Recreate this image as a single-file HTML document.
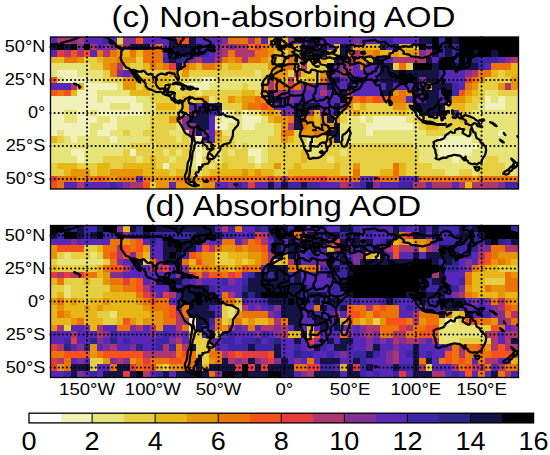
<!DOCTYPE html>
<html><head><meta charset="utf-8"><style>
html,body{margin:0;padding:0;background:#fff;}
body{width:550px;height:455px;overflow:hidden;}
svg{display:block;}
text{font-family:"Liberation Sans",sans-serif;fill:#000;}
</style></head><body>
<svg width="550" height="455" viewBox="0 0 550 455">
<defs><filter id="soft" x="0" y="0" width="1" height="1" color-interpolation-filters="sRGB"><feGaussianBlur stdDeviation="0.45"/></filter></defs>
<rect width="550" height="455" fill="#fff"/>
<g shape-rendering="crispEdges" filter="url(#soft)"><rect x="50.50" y="37.00" width="7.26" height="6.91" fill="#5728b7"/>
<rect x="57.46" y="37.00" width="13.45" height="6.91" fill="#ad366e"/>
<rect x="70.61" y="37.00" width="6.88" height="6.91" fill="#802f95"/>
<rect x="77.19" y="37.00" width="6.87" height="6.91" fill="#ad366e"/>
<rect x="83.76" y="37.00" width="20.02" height="6.91" fill="#5728b7"/>
<rect x="103.49" y="37.00" width="6.88" height="6.91" fill="#3d26a6"/>
<rect x="110.06" y="37.00" width="6.87" height="6.91" fill="#5728b7"/>
<rect x="116.64" y="37.00" width="6.87" height="6.91" fill="#e6cf42"/>
<rect x="123.21" y="37.00" width="13.45" height="6.91" fill="#802f95"/>
<rect x="136.36" y="37.00" width="6.88" height="6.91" fill="#f8511c"/>
<rect x="142.94" y="37.00" width="26.60" height="6.91" fill="#5728b7"/>
<rect x="169.24" y="37.00" width="6.87" height="6.91" fill="#141444"/>
<rect x="175.81" y="37.00" width="6.88" height="6.91" fill="#e43c3e"/>
<rect x="182.39" y="37.00" width="6.88" height="6.91" fill="#f8511c"/>
<rect x="188.96" y="37.00" width="6.87" height="6.91" fill="#141444"/>
<rect x="195.54" y="37.00" width="26.60" height="6.91" fill="#5728b7"/>
<rect x="221.84" y="37.00" width="6.88" height="6.91" fill="#802f95"/>
<rect x="228.41" y="37.00" width="20.02" height="6.91" fill="#eb7308"/>
<rect x="248.14" y="37.00" width="6.87" height="6.91" fill="#ad366e"/>
<rect x="254.71" y="37.00" width="6.88" height="6.91" fill="#eb7308"/>
<rect x="261.29" y="37.00" width="6.87" height="6.91" fill="#5728b7"/>
<rect x="267.86" y="37.00" width="6.87" height="6.91" fill="#e6b716"/>
<rect x="274.44" y="37.00" width="6.87" height="6.91" fill="#141444"/>
<rect x="281.01" y="37.00" width="6.88" height="6.91" fill="#e6b716"/>
<rect x="287.59" y="37.00" width="6.87" height="6.91" fill="#802f95"/>
<rect x="294.16" y="37.00" width="13.45" height="6.91" fill="#5728b7"/>
<rect x="307.31" y="37.00" width="13.45" height="6.91" fill="#141444"/>
<rect x="320.46" y="37.00" width="33.17" height="6.91" fill="#5728b7"/>
<rect x="353.34" y="37.00" width="6.88" height="6.91" fill="#802f95"/>
<rect x="359.91" y="37.00" width="20.02" height="6.91" fill="#5728b7"/>
<rect x="379.64" y="37.00" width="13.45" height="6.91" fill="#3d26a6"/>
<rect x="392.79" y="37.00" width="26.60" height="6.91" fill="#5728b7"/>
<rect x="419.09" y="37.00" width="13.45" height="6.91" fill="#141444"/>
<rect x="432.24" y="37.00" width="6.87" height="6.91" fill="#000000"/>
<rect x="438.81" y="37.00" width="6.88" height="6.91" fill="#3d26a6"/>
<rect x="445.39" y="37.00" width="6.87" height="6.91" fill="#000000"/>
<rect x="451.96" y="37.00" width="6.88" height="6.91" fill="#141444"/>
<rect x="458.54" y="37.00" width="60.26" height="6.91" fill="#000000"/>
<rect x="50.50" y="43.61" width="7.26" height="6.91" fill="#141444"/>
<rect x="57.46" y="43.61" width="6.87" height="6.91" fill="#000000"/>
<rect x="64.04" y="43.61" width="6.87" height="6.91" fill="#141444"/>
<rect x="70.61" y="43.61" width="6.88" height="6.91" fill="#000000"/>
<rect x="77.19" y="43.61" width="6.87" height="6.91" fill="#802f95"/>
<rect x="83.76" y="43.61" width="6.87" height="6.91" fill="#000000"/>
<rect x="90.34" y="43.61" width="6.88" height="6.91" fill="#ad366e"/>
<rect x="96.91" y="43.61" width="6.87" height="6.91" fill="#5728b7"/>
<rect x="103.49" y="43.61" width="13.45" height="6.91" fill="#802f95"/>
<rect x="116.64" y="43.61" width="6.87" height="6.91" fill="#eb7308"/>
<rect x="123.21" y="43.61" width="6.88" height="6.91" fill="#802f95"/>
<rect x="129.79" y="43.61" width="20.02" height="6.91" fill="#141444"/>
<rect x="149.51" y="43.61" width="6.87" height="6.91" fill="#ad366e"/>
<rect x="156.09" y="43.61" width="6.88" height="6.91" fill="#eb7308"/>
<rect x="162.66" y="43.61" width="6.87" height="6.91" fill="#5728b7"/>
<rect x="169.24" y="43.61" width="33.17" height="6.91" fill="#141444"/>
<rect x="202.11" y="43.61" width="6.87" height="6.91" fill="#3d26a6"/>
<rect x="208.69" y="43.61" width="6.88" height="6.91" fill="#141444"/>
<rect x="215.26" y="43.61" width="6.87" height="6.91" fill="#802f95"/>
<rect x="221.84" y="43.61" width="6.88" height="6.91" fill="#ad366e"/>
<rect x="228.41" y="43.61" width="6.87" height="6.91" fill="#802f95"/>
<rect x="234.99" y="43.61" width="13.45" height="6.91" fill="#ad366e"/>
<rect x="248.14" y="43.61" width="6.87" height="6.91" fill="#eb7308"/>
<rect x="254.71" y="43.61" width="6.88" height="6.91" fill="#e43c3e"/>
<rect x="261.29" y="43.61" width="6.87" height="6.91" fill="#eb7308"/>
<rect x="267.86" y="43.61" width="26.60" height="6.91" fill="#e69509"/>
<rect x="294.16" y="43.61" width="6.87" height="6.91" fill="#e6b716"/>
<rect x="300.74" y="43.61" width="6.87" height="6.91" fill="#802f95"/>
<rect x="307.31" y="43.61" width="6.87" height="6.91" fill="#141444"/>
<rect x="313.89" y="43.61" width="6.88" height="6.91" fill="#802f95"/>
<rect x="320.46" y="43.61" width="6.87" height="6.91" fill="#141444"/>
<rect x="327.04" y="43.61" width="6.87" height="6.91" fill="#5728b7"/>
<rect x="333.61" y="43.61" width="6.87" height="6.91" fill="#e6b716"/>
<rect x="340.19" y="43.61" width="6.87" height="6.91" fill="#141444"/>
<rect x="346.76" y="43.61" width="6.87" height="6.91" fill="#802f95"/>
<rect x="353.34" y="43.61" width="6.88" height="6.91" fill="#e6b716"/>
<rect x="359.91" y="43.61" width="6.87" height="6.91" fill="#e69509"/>
<rect x="366.49" y="43.61" width="13.45" height="6.91" fill="#e6b716"/>
<rect x="379.64" y="43.61" width="6.87" height="6.91" fill="#141444"/>
<rect x="386.21" y="43.61" width="6.88" height="6.91" fill="#5728b7"/>
<rect x="392.79" y="43.61" width="6.87" height="6.91" fill="#141444"/>
<rect x="399.36" y="43.61" width="20.02" height="6.91" fill="#e6b716"/>
<rect x="419.09" y="43.61" width="6.88" height="6.91" fill="#000000"/>
<rect x="425.66" y="43.61" width="6.87" height="6.91" fill="#5728b7"/>
<rect x="432.24" y="43.61" width="6.87" height="6.91" fill="#000000"/>
<rect x="438.81" y="43.61" width="6.88" height="6.91" fill="#292684"/>
<rect x="445.39" y="43.61" width="6.87" height="6.91" fill="#141444"/>
<rect x="451.96" y="43.61" width="6.88" height="6.91" fill="#3d26a6"/>
<rect x="458.54" y="43.61" width="60.26" height="6.91" fill="#000000"/>
<rect x="50.50" y="50.22" width="7.26" height="6.91" fill="#5728b7"/>
<rect x="57.46" y="50.22" width="6.87" height="6.91" fill="#e43c3e"/>
<rect x="64.04" y="50.22" width="6.87" height="6.91" fill="#ad366e"/>
<rect x="70.61" y="50.22" width="6.88" height="6.91" fill="#f8511c"/>
<rect x="77.19" y="50.22" width="6.87" height="6.91" fill="#ad366e"/>
<rect x="83.76" y="50.22" width="6.87" height="6.91" fill="#f8511c"/>
<rect x="90.34" y="50.22" width="6.88" height="6.91" fill="#5728b7"/>
<rect x="96.91" y="50.22" width="6.87" height="6.91" fill="#eb7308"/>
<rect x="103.49" y="50.22" width="6.88" height="6.91" fill="#ad366e"/>
<rect x="110.06" y="50.22" width="6.87" height="6.91" fill="#eb7308"/>
<rect x="116.64" y="50.22" width="6.87" height="6.91" fill="#e69509"/>
<rect x="123.21" y="50.22" width="6.88" height="6.91" fill="#e6b716"/>
<rect x="129.79" y="50.22" width="6.87" height="6.91" fill="#eb7308"/>
<rect x="136.36" y="50.22" width="6.88" height="6.91" fill="#e6b716"/>
<rect x="142.94" y="50.22" width="20.02" height="6.91" fill="#eb7308"/>
<rect x="162.66" y="50.22" width="6.87" height="6.91" fill="#5728b7"/>
<rect x="169.24" y="50.22" width="6.87" height="6.91" fill="#3d26a6"/>
<rect x="175.81" y="50.22" width="20.03" height="6.91" fill="#141444"/>
<rect x="195.54" y="50.22" width="13.45" height="6.91" fill="#3d26a6"/>
<rect x="208.69" y="50.22" width="6.88" height="6.91" fill="#5728b7"/>
<rect x="215.26" y="50.22" width="6.87" height="6.91" fill="#802f95"/>
<rect x="221.84" y="50.22" width="6.88" height="6.91" fill="#ad366e"/>
<rect x="228.41" y="50.22" width="6.87" height="6.91" fill="#eb7308"/>
<rect x="234.99" y="50.22" width="20.02" height="6.91" fill="#ad366e"/>
<rect x="254.71" y="50.22" width="13.45" height="6.91" fill="#eb7308"/>
<rect x="267.86" y="50.22" width="6.87" height="6.91" fill="#e69509"/>
<rect x="274.44" y="50.22" width="6.87" height="6.91" fill="#e6b716"/>
<rect x="281.01" y="50.22" width="6.88" height="6.91" fill="#e6cf42"/>
<rect x="287.59" y="50.22" width="6.87" height="6.91" fill="#e69509"/>
<rect x="294.16" y="50.22" width="6.87" height="6.91" fill="#e6cf42"/>
<rect x="300.74" y="50.22" width="6.87" height="6.91" fill="#141444"/>
<rect x="307.31" y="50.22" width="6.87" height="6.91" fill="#ad366e"/>
<rect x="313.89" y="50.22" width="13.45" height="6.91" fill="#141444"/>
<rect x="327.04" y="50.22" width="6.87" height="6.91" fill="#e6b716"/>
<rect x="333.61" y="50.22" width="6.87" height="6.91" fill="#e6cf42"/>
<rect x="340.19" y="50.22" width="6.87" height="6.91" fill="#141444"/>
<rect x="346.76" y="50.22" width="6.87" height="6.91" fill="#e69509"/>
<rect x="353.34" y="50.22" width="6.88" height="6.91" fill="#ad366e"/>
<rect x="359.91" y="50.22" width="13.45" height="6.91" fill="#e69509"/>
<rect x="373.06" y="50.22" width="6.87" height="6.91" fill="#eb7308"/>
<rect x="379.64" y="50.22" width="13.45" height="6.91" fill="#e6b716"/>
<rect x="392.79" y="50.22" width="6.87" height="6.91" fill="#e69509"/>
<rect x="399.36" y="50.22" width="6.87" height="6.91" fill="#e6b716"/>
<rect x="405.94" y="50.22" width="13.45" height="6.91" fill="#e69509"/>
<rect x="419.09" y="50.22" width="6.88" height="6.91" fill="#802f95"/>
<rect x="425.66" y="50.22" width="6.87" height="6.91" fill="#ad366e"/>
<rect x="432.24" y="50.22" width="6.87" height="6.91" fill="#141444"/>
<rect x="438.81" y="50.22" width="6.88" height="6.91" fill="#3d26a6"/>
<rect x="445.39" y="50.22" width="6.87" height="6.91" fill="#141444"/>
<rect x="451.96" y="50.22" width="6.88" height="6.91" fill="#3d26a6"/>
<rect x="458.54" y="50.22" width="13.45" height="6.91" fill="#000000"/>
<rect x="471.69" y="50.22" width="6.88" height="6.91" fill="#141444"/>
<rect x="478.26" y="50.22" width="13.45" height="6.91" fill="#000000"/>
<rect x="491.41" y="50.22" width="6.87" height="6.91" fill="#141444"/>
<rect x="497.99" y="50.22" width="20.81" height="6.91" fill="#000000"/>
<rect x="50.50" y="56.83" width="13.84" height="6.91" fill="#e6b716"/>
<rect x="64.04" y="56.83" width="13.45" height="6.91" fill="#eb7308"/>
<rect x="77.19" y="56.83" width="6.87" height="6.91" fill="#e69509"/>
<rect x="83.76" y="56.83" width="13.45" height="6.91" fill="#e6cf42"/>
<rect x="96.91" y="56.83" width="6.87" height="6.91" fill="#e6b716"/>
<rect x="103.49" y="56.83" width="13.45" height="6.91" fill="#e69509"/>
<rect x="116.64" y="56.83" width="6.87" height="6.91" fill="#eb7308"/>
<rect x="123.21" y="56.83" width="13.45" height="6.91" fill="#e69509"/>
<rect x="136.36" y="56.83" width="6.88" height="6.91" fill="#e6cf42"/>
<rect x="142.94" y="56.83" width="20.02" height="6.91" fill="#eb7308"/>
<rect x="162.66" y="56.83" width="6.87" height="6.91" fill="#3d26a6"/>
<rect x="169.24" y="56.83" width="6.87" height="6.91" fill="#141444"/>
<rect x="175.81" y="56.83" width="6.88" height="6.91" fill="#292684"/>
<rect x="182.39" y="56.83" width="6.88" height="6.91" fill="#3d26a6"/>
<rect x="188.96" y="56.83" width="6.87" height="6.91" fill="#802f95"/>
<rect x="195.54" y="56.83" width="6.87" height="6.91" fill="#ad366e"/>
<rect x="202.11" y="56.83" width="13.45" height="6.91" fill="#5728b7"/>
<rect x="215.26" y="56.83" width="6.87" height="6.91" fill="#ad366e"/>
<rect x="221.84" y="56.83" width="6.88" height="6.91" fill="#eb7308"/>
<rect x="228.41" y="56.83" width="6.87" height="6.91" fill="#e69509"/>
<rect x="234.99" y="56.83" width="6.87" height="6.91" fill="#eb7308"/>
<rect x="241.56" y="56.83" width="6.88" height="6.91" fill="#ad366e"/>
<rect x="248.14" y="56.83" width="13.45" height="6.91" fill="#eb7308"/>
<rect x="261.29" y="56.83" width="6.87" height="6.91" fill="#e69509"/>
<rect x="267.86" y="56.83" width="6.87" height="6.91" fill="#e6b716"/>
<rect x="274.44" y="56.83" width="6.87" height="6.91" fill="#e6cf42"/>
<rect x="281.01" y="56.83" width="6.88" height="6.91" fill="#e6b716"/>
<rect x="287.59" y="56.83" width="6.87" height="6.91" fill="#eb7308"/>
<rect x="294.16" y="56.83" width="6.87" height="6.91" fill="#e6b716"/>
<rect x="300.74" y="56.83" width="6.87" height="6.91" fill="#802f95"/>
<rect x="307.31" y="56.83" width="6.87" height="6.91" fill="#e6cf42"/>
<rect x="313.89" y="56.83" width="6.88" height="6.91" fill="#141444"/>
<rect x="320.46" y="56.83" width="6.87" height="6.91" fill="#e6b716"/>
<rect x="327.04" y="56.83" width="6.87" height="6.91" fill="#e6cf42"/>
<rect x="333.61" y="56.83" width="6.87" height="6.91" fill="#141444"/>
<rect x="340.19" y="56.83" width="6.87" height="6.91" fill="#802f95"/>
<rect x="346.76" y="56.83" width="6.87" height="6.91" fill="#ad366e"/>
<rect x="353.34" y="56.83" width="6.88" height="6.91" fill="#eb7308"/>
<rect x="359.91" y="56.83" width="6.87" height="6.91" fill="#e69509"/>
<rect x="366.49" y="56.83" width="6.87" height="6.91" fill="#e6b716"/>
<rect x="373.06" y="56.83" width="6.87" height="6.91" fill="#141444"/>
<rect x="379.64" y="56.83" width="13.45" height="6.91" fill="#5728b7"/>
<rect x="392.79" y="56.83" width="33.17" height="6.91" fill="#ad366e"/>
<rect x="425.66" y="56.83" width="6.87" height="6.91" fill="#141444"/>
<rect x="432.24" y="56.83" width="6.87" height="6.91" fill="#5728b7"/>
<rect x="438.81" y="56.83" width="6.88" height="6.91" fill="#141444"/>
<rect x="445.39" y="56.83" width="6.87" height="6.91" fill="#000000"/>
<rect x="451.96" y="56.83" width="6.88" height="6.91" fill="#3d26a6"/>
<rect x="458.54" y="56.83" width="6.87" height="6.91" fill="#000000"/>
<rect x="465.11" y="56.83" width="6.87" height="6.91" fill="#141444"/>
<rect x="471.69" y="56.83" width="6.88" height="6.91" fill="#292684"/>
<rect x="478.26" y="56.83" width="20.02" height="6.91" fill="#3d26a6"/>
<rect x="497.99" y="56.83" width="6.87" height="6.91" fill="#5728b7"/>
<rect x="504.56" y="56.83" width="6.87" height="6.91" fill="#802f95"/>
<rect x="511.14" y="56.83" width="7.66" height="6.91" fill="#ad366e"/>
<rect x="50.50" y="63.44" width="40.14" height="6.91" fill="#e6e379"/>
<rect x="90.34" y="63.44" width="13.45" height="6.91" fill="#e6cf42"/>
<rect x="103.49" y="63.44" width="6.88" height="6.91" fill="#e69509"/>
<rect x="110.06" y="63.44" width="6.87" height="6.91" fill="#eb7308"/>
<rect x="116.64" y="63.44" width="6.87" height="6.91" fill="#ad366e"/>
<rect x="123.21" y="63.44" width="6.88" height="6.91" fill="#e6b716"/>
<rect x="129.79" y="63.44" width="13.45" height="6.91" fill="#e6cf42"/>
<rect x="142.94" y="63.44" width="6.87" height="6.91" fill="#e6b716"/>
<rect x="149.51" y="63.44" width="6.87" height="6.91" fill="#eb7308"/>
<rect x="156.09" y="63.44" width="6.88" height="6.91" fill="#e69509"/>
<rect x="162.66" y="63.44" width="6.87" height="6.91" fill="#eb7308"/>
<rect x="169.24" y="63.44" width="6.87" height="6.91" fill="#e43c3e"/>
<rect x="175.81" y="63.44" width="6.88" height="6.91" fill="#141444"/>
<rect x="182.39" y="63.44" width="6.88" height="6.91" fill="#eb7308"/>
<rect x="188.96" y="63.44" width="6.87" height="6.91" fill="#e69509"/>
<rect x="195.54" y="63.44" width="6.87" height="6.91" fill="#e6b716"/>
<rect x="202.11" y="63.44" width="13.45" height="6.91" fill="#eb7308"/>
<rect x="215.26" y="63.44" width="6.87" height="6.91" fill="#e69509"/>
<rect x="221.84" y="63.44" width="6.88" height="6.91" fill="#e6cf42"/>
<rect x="228.41" y="63.44" width="13.45" height="6.91" fill="#e6b716"/>
<rect x="241.56" y="63.44" width="26.60" height="6.91" fill="#e6cf42"/>
<rect x="267.86" y="63.44" width="13.45" height="6.91" fill="#e69509"/>
<rect x="281.01" y="63.44" width="13.45" height="6.91" fill="#eb7308"/>
<rect x="294.16" y="63.44" width="6.87" height="6.91" fill="#e6b716"/>
<rect x="300.74" y="63.44" width="6.87" height="6.91" fill="#ad366e"/>
<rect x="307.31" y="63.44" width="20.03" height="6.91" fill="#e6cf42"/>
<rect x="327.04" y="63.44" width="6.87" height="6.91" fill="#141444"/>
<rect x="333.61" y="63.44" width="6.87" height="6.91" fill="#5728b7"/>
<rect x="340.19" y="63.44" width="6.87" height="6.91" fill="#802f95"/>
<rect x="346.76" y="63.44" width="6.87" height="6.91" fill="#ad366e"/>
<rect x="353.34" y="63.44" width="6.88" height="6.91" fill="#5728b7"/>
<rect x="359.91" y="63.44" width="6.87" height="6.91" fill="#eb7308"/>
<rect x="366.49" y="63.44" width="13.45" height="6.91" fill="#5728b7"/>
<rect x="379.64" y="63.44" width="13.45" height="6.91" fill="#141444"/>
<rect x="392.79" y="63.44" width="6.87" height="6.91" fill="#e6cf42"/>
<rect x="399.36" y="63.44" width="6.87" height="6.91" fill="#eb7308"/>
<rect x="405.94" y="63.44" width="6.88" height="6.91" fill="#e6cf42"/>
<rect x="412.51" y="63.44" width="20.02" height="6.91" fill="#000000"/>
<rect x="432.24" y="63.44" width="6.87" height="6.91" fill="#141444"/>
<rect x="438.81" y="63.44" width="13.45" height="6.91" fill="#000000"/>
<rect x="451.96" y="63.44" width="6.88" height="6.91" fill="#141444"/>
<rect x="458.54" y="63.44" width="6.87" height="6.91" fill="#000000"/>
<rect x="465.11" y="63.44" width="13.45" height="6.91" fill="#141444"/>
<rect x="478.26" y="63.44" width="6.87" height="6.91" fill="#3d26a6"/>
<rect x="484.84" y="63.44" width="6.88" height="6.91" fill="#5728b7"/>
<rect x="491.41" y="63.44" width="20.02" height="6.91" fill="#eb7308"/>
<rect x="511.14" y="63.44" width="7.66" height="6.91" fill="#e6b716"/>
<rect x="50.50" y="70.04" width="7.26" height="6.91" fill="#e6e379"/>
<rect x="57.46" y="70.04" width="20.02" height="6.91" fill="#f1f1bb"/>
<rect x="77.19" y="70.04" width="26.60" height="6.91" fill="#e6e379"/>
<rect x="103.49" y="70.04" width="6.88" height="6.91" fill="#e6cf42"/>
<rect x="110.06" y="70.04" width="6.87" height="6.91" fill="#eb7308"/>
<rect x="116.64" y="70.04" width="6.87" height="6.91" fill="#802f95"/>
<rect x="123.21" y="70.04" width="6.88" height="6.91" fill="#5728b7"/>
<rect x="129.79" y="70.04" width="6.87" height="6.91" fill="#ad366e"/>
<rect x="136.36" y="70.04" width="33.17" height="6.91" fill="#e6cf42"/>
<rect x="169.24" y="70.04" width="6.87" height="6.91" fill="#e69509"/>
<rect x="175.81" y="70.04" width="6.88" height="6.91" fill="#e6cf42"/>
<rect x="182.39" y="70.04" width="6.88" height="6.91" fill="#e69509"/>
<rect x="188.96" y="70.04" width="66.05" height="6.91" fill="#e6cf42"/>
<rect x="254.71" y="70.04" width="6.88" height="6.91" fill="#e6e379"/>
<rect x="261.29" y="70.04" width="13.45" height="6.91" fill="#e6cf42"/>
<rect x="274.44" y="70.04" width="13.45" height="6.91" fill="#e69509"/>
<rect x="287.59" y="70.04" width="6.87" height="6.91" fill="#e6cf42"/>
<rect x="294.16" y="70.04" width="6.87" height="6.91" fill="#ad366e"/>
<rect x="300.74" y="70.04" width="6.87" height="6.91" fill="#e6b716"/>
<rect x="307.31" y="70.04" width="13.45" height="6.91" fill="#e6cf42"/>
<rect x="320.46" y="70.04" width="6.87" height="6.91" fill="#e69509"/>
<rect x="327.04" y="70.04" width="6.87" height="6.91" fill="#802f95"/>
<rect x="333.61" y="70.04" width="6.87" height="6.91" fill="#5728b7"/>
<rect x="340.19" y="70.04" width="6.87" height="6.91" fill="#ad366e"/>
<rect x="346.76" y="70.04" width="6.87" height="6.91" fill="#802f95"/>
<rect x="353.34" y="70.04" width="26.60" height="6.91" fill="#5728b7"/>
<rect x="379.64" y="70.04" width="20.03" height="6.91" fill="#141444"/>
<rect x="399.36" y="70.04" width="6.87" height="6.91" fill="#000000"/>
<rect x="405.94" y="70.04" width="33.17" height="6.91" fill="#141444"/>
<rect x="438.81" y="70.04" width="6.88" height="6.91" fill="#3d26a6"/>
<rect x="445.39" y="70.04" width="20.02" height="6.91" fill="#5728b7"/>
<rect x="465.11" y="70.04" width="6.87" height="6.91" fill="#802f95"/>
<rect x="471.69" y="70.04" width="6.88" height="6.91" fill="#ad366e"/>
<rect x="478.26" y="70.04" width="13.45" height="6.91" fill="#eb7308"/>
<rect x="491.41" y="70.04" width="6.87" height="6.91" fill="#e6b716"/>
<rect x="497.99" y="70.04" width="6.87" height="6.91" fill="#e6cf42"/>
<rect x="504.56" y="70.04" width="14.24" height="6.91" fill="#e6b716"/>
<rect x="50.50" y="76.65" width="7.26" height="6.91" fill="#f8511c"/>
<rect x="57.46" y="76.65" width="6.87" height="6.91" fill="#e6e379"/>
<rect x="64.04" y="76.65" width="26.60" height="6.91" fill="#f1f1bb"/>
<rect x="90.34" y="76.65" width="13.45" height="6.91" fill="#e6e379"/>
<rect x="103.49" y="76.65" width="20.02" height="6.91" fill="#e6cf42"/>
<rect x="123.21" y="76.65" width="13.45" height="6.91" fill="#e69509"/>
<rect x="136.36" y="76.65" width="33.17" height="6.91" fill="#e6b716"/>
<rect x="169.24" y="76.65" width="20.03" height="6.91" fill="#e6cf42"/>
<rect x="188.96" y="76.65" width="13.45" height="6.91" fill="#e6e379"/>
<rect x="202.11" y="76.65" width="13.45" height="6.91" fill="#f1f1bb"/>
<rect x="215.26" y="76.65" width="46.33" height="6.91" fill="#e6e379"/>
<rect x="261.29" y="76.65" width="6.87" height="6.91" fill="#e6cf42"/>
<rect x="267.86" y="76.65" width="6.87" height="6.91" fill="#ad366e"/>
<rect x="274.44" y="76.65" width="6.87" height="6.91" fill="#eb7308"/>
<rect x="281.01" y="76.65" width="6.88" height="6.91" fill="#e6b716"/>
<rect x="287.59" y="76.65" width="6.87" height="6.91" fill="#ad366e"/>
<rect x="294.16" y="76.65" width="6.87" height="6.91" fill="#e6b716"/>
<rect x="300.74" y="76.65" width="6.87" height="6.91" fill="#e6cf42"/>
<rect x="307.31" y="76.65" width="6.87" height="6.91" fill="#e6b716"/>
<rect x="313.89" y="76.65" width="6.88" height="6.91" fill="#e6cf42"/>
<rect x="320.46" y="76.65" width="6.87" height="6.91" fill="#eb7308"/>
<rect x="327.04" y="76.65" width="6.87" height="6.91" fill="#5728b7"/>
<rect x="333.61" y="76.65" width="6.87" height="6.91" fill="#141444"/>
<rect x="340.19" y="76.65" width="20.03" height="6.91" fill="#5728b7"/>
<rect x="359.91" y="76.65" width="6.87" height="6.91" fill="#141444"/>
<rect x="366.49" y="76.65" width="13.45" height="6.91" fill="#5728b7"/>
<rect x="379.64" y="76.65" width="26.60" height="6.91" fill="#141444"/>
<rect x="405.94" y="76.65" width="6.88" height="6.91" fill="#000000"/>
<rect x="412.51" y="76.65" width="6.87" height="6.91" fill="#141444"/>
<rect x="419.09" y="76.65" width="6.88" height="6.91" fill="#802f95"/>
<rect x="425.66" y="76.65" width="13.45" height="6.91" fill="#141444"/>
<rect x="438.81" y="76.65" width="26.60" height="6.91" fill="#5728b7"/>
<rect x="465.11" y="76.65" width="6.87" height="6.91" fill="#e43c3e"/>
<rect x="471.69" y="76.65" width="6.88" height="6.91" fill="#eb7308"/>
<rect x="478.26" y="76.65" width="6.87" height="6.91" fill="#e69509"/>
<rect x="484.84" y="76.65" width="26.60" height="6.91" fill="#e6cf42"/>
<rect x="511.14" y="76.65" width="7.66" height="6.91" fill="#e69509"/>
<rect x="50.50" y="83.26" width="20.41" height="6.91" fill="#5728b7"/>
<rect x="70.61" y="83.26" width="6.88" height="6.91" fill="#ad366e"/>
<rect x="77.19" y="83.26" width="6.87" height="6.91" fill="#e6b716"/>
<rect x="83.76" y="83.26" width="33.17" height="6.91" fill="#f1f1bb"/>
<rect x="116.64" y="83.26" width="6.87" height="6.91" fill="#e6e379"/>
<rect x="123.21" y="83.26" width="13.45" height="6.91" fill="#e69509"/>
<rect x="136.36" y="83.26" width="6.88" height="6.91" fill="#e6cf42"/>
<rect x="142.94" y="83.26" width="20.02" height="6.91" fill="#e6b716"/>
<rect x="162.66" y="83.26" width="13.45" height="6.91" fill="#e6cf42"/>
<rect x="175.81" y="83.26" width="6.88" height="6.91" fill="#e6e379"/>
<rect x="182.39" y="83.26" width="26.60" height="6.91" fill="#f1f1bb"/>
<rect x="208.69" y="83.26" width="33.17" height="6.91" fill="#e6e379"/>
<rect x="241.56" y="83.26" width="6.88" height="6.91" fill="#e6cf42"/>
<rect x="248.14" y="83.26" width="13.45" height="6.91" fill="#e6e379"/>
<rect x="261.29" y="83.26" width="6.87" height="6.91" fill="#e69509"/>
<rect x="267.86" y="83.26" width="6.87" height="6.91" fill="#ad366e"/>
<rect x="274.44" y="83.26" width="13.45" height="6.91" fill="#eb7308"/>
<rect x="287.59" y="83.26" width="6.87" height="6.91" fill="#e43c3e"/>
<rect x="294.16" y="83.26" width="6.87" height="6.91" fill="#eb7308"/>
<rect x="300.74" y="83.26" width="13.45" height="6.91" fill="#802f95"/>
<rect x="313.89" y="83.26" width="6.88" height="6.91" fill="#5728b7"/>
<rect x="320.46" y="83.26" width="6.87" height="6.91" fill="#802f95"/>
<rect x="327.04" y="83.26" width="6.87" height="6.91" fill="#141444"/>
<rect x="333.61" y="83.26" width="6.87" height="6.91" fill="#3d26a6"/>
<rect x="340.19" y="83.26" width="6.87" height="6.91" fill="#5728b7"/>
<rect x="346.76" y="83.26" width="6.87" height="6.91" fill="#141444"/>
<rect x="353.34" y="83.26" width="33.17" height="6.91" fill="#5728b7"/>
<rect x="386.21" y="83.26" width="6.88" height="6.91" fill="#141444"/>
<rect x="392.79" y="83.26" width="20.03" height="6.91" fill="#5728b7"/>
<rect x="412.51" y="83.26" width="6.87" height="6.91" fill="#141444"/>
<rect x="419.09" y="83.26" width="6.88" height="6.91" fill="#5728b7"/>
<rect x="425.66" y="83.26" width="6.87" height="6.91" fill="#e6b716"/>
<rect x="432.24" y="83.26" width="20.02" height="6.91" fill="#141444"/>
<rect x="451.96" y="83.26" width="6.88" height="6.91" fill="#3d26a6"/>
<rect x="458.54" y="83.26" width="6.87" height="6.91" fill="#5728b7"/>
<rect x="465.11" y="83.26" width="6.87" height="6.91" fill="#eb7308"/>
<rect x="471.69" y="83.26" width="6.88" height="6.91" fill="#e69509"/>
<rect x="478.26" y="83.26" width="20.02" height="6.91" fill="#e6cf42"/>
<rect x="497.99" y="83.26" width="6.87" height="6.91" fill="#e69509"/>
<rect x="504.56" y="83.26" width="6.87" height="6.91" fill="#ad366e"/>
<rect x="511.14" y="83.26" width="7.66" height="6.91" fill="#e69509"/>
<rect x="50.50" y="89.87" width="7.26" height="6.91" fill="#f8511c"/>
<rect x="57.46" y="89.87" width="6.87" height="6.91" fill="#eb7308"/>
<rect x="64.04" y="89.87" width="6.87" height="6.91" fill="#f8511c"/>
<rect x="70.61" y="89.87" width="6.88" height="6.91" fill="#e6b716"/>
<rect x="77.19" y="89.87" width="20.02" height="6.91" fill="#f1f1bb"/>
<rect x="96.91" y="89.87" width="33.17" height="6.91" fill="#e6e379"/>
<rect x="129.79" y="89.87" width="20.02" height="6.91" fill="#e6b716"/>
<rect x="149.51" y="89.87" width="46.33" height="6.91" fill="#e6cf42"/>
<rect x="195.54" y="89.87" width="6.87" height="6.91" fill="#e6e379"/>
<rect x="202.11" y="89.87" width="39.75" height="6.91" fill="#e6cf42"/>
<rect x="241.56" y="89.87" width="13.45" height="6.91" fill="#e6b716"/>
<rect x="254.71" y="89.87" width="6.88" height="6.91" fill="#e6cf42"/>
<rect x="261.29" y="89.87" width="6.87" height="6.91" fill="#e69509"/>
<rect x="267.86" y="89.87" width="6.87" height="6.91" fill="#141444"/>
<rect x="274.44" y="89.87" width="6.87" height="6.91" fill="#ad366e"/>
<rect x="281.01" y="89.87" width="6.88" height="6.91" fill="#802f95"/>
<rect x="287.59" y="89.87" width="6.87" height="6.91" fill="#5728b7"/>
<rect x="294.16" y="89.87" width="6.87" height="6.91" fill="#802f95"/>
<rect x="300.74" y="89.87" width="20.03" height="6.91" fill="#5728b7"/>
<rect x="320.46" y="89.87" width="6.87" height="6.91" fill="#ad366e"/>
<rect x="327.04" y="89.87" width="13.45" height="6.91" fill="#5728b7"/>
<rect x="340.19" y="89.87" width="6.87" height="6.91" fill="#141444"/>
<rect x="346.76" y="89.87" width="6.87" height="6.91" fill="#ad366e"/>
<rect x="353.34" y="89.87" width="26.60" height="6.91" fill="#5728b7"/>
<rect x="379.64" y="89.87" width="13.45" height="6.91" fill="#141444"/>
<rect x="392.79" y="89.87" width="6.87" height="6.91" fill="#e69509"/>
<rect x="399.36" y="89.87" width="6.87" height="6.91" fill="#eb7308"/>
<rect x="405.94" y="89.87" width="6.88" height="6.91" fill="#e69509"/>
<rect x="412.51" y="89.87" width="6.87" height="6.91" fill="#141444"/>
<rect x="419.09" y="89.87" width="6.88" height="6.91" fill="#5728b7"/>
<rect x="425.66" y="89.87" width="13.45" height="6.91" fill="#141444"/>
<rect x="438.81" y="89.87" width="6.88" height="6.91" fill="#5728b7"/>
<rect x="445.39" y="89.87" width="6.87" height="6.91" fill="#000000"/>
<rect x="451.96" y="89.87" width="6.88" height="6.91" fill="#3d26a6"/>
<rect x="458.54" y="89.87" width="6.87" height="6.91" fill="#f8511c"/>
<rect x="465.11" y="89.87" width="6.87" height="6.91" fill="#e69509"/>
<rect x="471.69" y="89.87" width="6.88" height="6.91" fill="#e6b716"/>
<rect x="478.26" y="89.87" width="6.87" height="6.91" fill="#e6cf42"/>
<rect x="484.84" y="89.87" width="13.45" height="6.91" fill="#e6e379"/>
<rect x="497.99" y="89.87" width="20.81" height="6.91" fill="#e6cf42"/>
<rect x="50.50" y="96.48" width="46.71" height="6.91" fill="#f1f1bb"/>
<rect x="96.91" y="96.48" width="6.87" height="6.91" fill="#e6e379"/>
<rect x="103.49" y="96.48" width="33.17" height="6.91" fill="#f1f1bb"/>
<rect x="136.36" y="96.48" width="13.45" height="6.91" fill="#e6e379"/>
<rect x="149.51" y="96.48" width="33.17" height="6.91" fill="#e6cf42"/>
<rect x="182.39" y="96.48" width="6.88" height="6.91" fill="#e6b716"/>
<rect x="188.96" y="96.48" width="6.87" height="6.91" fill="#e6cf42"/>
<rect x="195.54" y="96.48" width="6.87" height="6.91" fill="#e6b716"/>
<rect x="202.11" y="96.48" width="6.87" height="6.91" fill="#e69509"/>
<rect x="208.69" y="96.48" width="6.88" height="6.91" fill="#e6e379"/>
<rect x="215.26" y="96.48" width="13.45" height="6.91" fill="#e6cf42"/>
<rect x="228.41" y="96.48" width="6.87" height="6.91" fill="#e69509"/>
<rect x="234.99" y="96.48" width="6.87" height="6.91" fill="#e6b716"/>
<rect x="241.56" y="96.48" width="13.45" height="6.91" fill="#e69509"/>
<rect x="254.71" y="96.48" width="6.88" height="6.91" fill="#eb7308"/>
<rect x="261.29" y="96.48" width="6.87" height="6.91" fill="#e69509"/>
<rect x="267.86" y="96.48" width="13.45" height="6.91" fill="#141444"/>
<rect x="281.01" y="96.48" width="6.88" height="6.91" fill="#5728b7"/>
<rect x="287.59" y="96.48" width="6.87" height="6.91" fill="#802f95"/>
<rect x="294.16" y="96.48" width="46.32" height="6.91" fill="#5728b7"/>
<rect x="340.19" y="96.48" width="6.87" height="6.91" fill="#141444"/>
<rect x="346.76" y="96.48" width="6.87" height="6.91" fill="#f8511c"/>
<rect x="353.34" y="96.48" width="6.88" height="6.91" fill="#eb7308"/>
<rect x="359.91" y="96.48" width="6.87" height="6.91" fill="#f8511c"/>
<rect x="366.49" y="96.48" width="6.87" height="6.91" fill="#eb7308"/>
<rect x="373.06" y="96.48" width="13.45" height="6.91" fill="#f8511c"/>
<rect x="386.21" y="96.48" width="20.03" height="6.91" fill="#eb7308"/>
<rect x="405.94" y="96.48" width="20.03" height="6.91" fill="#5728b7"/>
<rect x="425.66" y="96.48" width="13.45" height="6.91" fill="#141444"/>
<rect x="438.81" y="96.48" width="13.45" height="6.91" fill="#5728b7"/>
<rect x="451.96" y="96.48" width="13.45" height="6.91" fill="#e69509"/>
<rect x="465.11" y="96.48" width="6.87" height="6.91" fill="#e6b716"/>
<rect x="471.69" y="96.48" width="13.45" height="6.91" fill="#e6cf42"/>
<rect x="484.84" y="96.48" width="6.88" height="6.91" fill="#f1f1bb"/>
<rect x="491.41" y="96.48" width="6.87" height="6.91" fill="#e6e379"/>
<rect x="497.99" y="96.48" width="6.87" height="6.91" fill="#f1f1bb"/>
<rect x="504.56" y="96.48" width="14.24" height="6.91" fill="#e6e379"/>
<rect x="50.50" y="103.09" width="59.86" height="6.91" fill="#f1f1bb"/>
<rect x="110.06" y="103.09" width="20.02" height="6.91" fill="#e6e379"/>
<rect x="129.79" y="103.09" width="13.45" height="6.91" fill="#f1f1bb"/>
<rect x="142.94" y="103.09" width="13.45" height="6.91" fill="#e6e379"/>
<rect x="156.09" y="103.09" width="20.02" height="6.91" fill="#e6b716"/>
<rect x="175.81" y="103.09" width="6.88" height="6.91" fill="#e6cf42"/>
<rect x="182.39" y="103.09" width="6.88" height="6.91" fill="#e6b716"/>
<rect x="188.96" y="103.09" width="13.45" height="6.91" fill="#5728b7"/>
<rect x="202.11" y="103.09" width="6.87" height="6.91" fill="#141444"/>
<rect x="208.69" y="103.09" width="6.88" height="6.91" fill="#3d26a6"/>
<rect x="215.26" y="103.09" width="6.87" height="6.91" fill="#141444"/>
<rect x="221.84" y="103.09" width="20.02" height="6.91" fill="#e6cf42"/>
<rect x="241.56" y="103.09" width="6.88" height="6.91" fill="#e69509"/>
<rect x="248.14" y="103.09" width="13.45" height="6.91" fill="#eb7308"/>
<rect x="261.29" y="103.09" width="6.87" height="6.91" fill="#f8511c"/>
<rect x="267.86" y="103.09" width="6.87" height="6.91" fill="#eb7308"/>
<rect x="274.44" y="103.09" width="20.03" height="6.91" fill="#5728b7"/>
<rect x="294.16" y="103.09" width="26.60" height="6.91" fill="#141444"/>
<rect x="320.46" y="103.09" width="13.45" height="6.91" fill="#5728b7"/>
<rect x="333.61" y="103.09" width="6.87" height="6.91" fill="#141444"/>
<rect x="340.19" y="103.09" width="6.87" height="6.91" fill="#802f95"/>
<rect x="346.76" y="103.09" width="6.87" height="6.91" fill="#e69509"/>
<rect x="353.34" y="103.09" width="6.88" height="6.91" fill="#e6cf42"/>
<rect x="359.91" y="103.09" width="6.87" height="6.91" fill="#e6b716"/>
<rect x="366.49" y="103.09" width="26.60" height="6.91" fill="#e6cf42"/>
<rect x="392.79" y="103.09" width="13.45" height="6.91" fill="#e69509"/>
<rect x="405.94" y="103.09" width="6.88" height="6.91" fill="#e6b716"/>
<rect x="412.51" y="103.09" width="33.17" height="6.91" fill="#141444"/>
<rect x="445.39" y="103.09" width="6.87" height="6.91" fill="#e6cf42"/>
<rect x="451.96" y="103.09" width="13.45" height="6.91" fill="#e6b716"/>
<rect x="465.11" y="103.09" width="13.45" height="6.91" fill="#e6cf42"/>
<rect x="478.26" y="103.09" width="6.87" height="6.91" fill="#e6e379"/>
<rect x="484.84" y="103.09" width="20.03" height="6.91" fill="#f1f1bb"/>
<rect x="504.56" y="103.09" width="14.24" height="6.91" fill="#e6e379"/>
<rect x="50.50" y="109.70" width="13.84" height="6.91" fill="#f1f1bb"/>
<rect x="64.04" y="109.70" width="13.45" height="6.91" fill="#e6e379"/>
<rect x="77.19" y="109.70" width="13.45" height="6.91" fill="#f1f1bb"/>
<rect x="90.34" y="109.70" width="6.88" height="6.91" fill="#e6e379"/>
<rect x="96.91" y="109.70" width="46.33" height="6.91" fill="#f1f1bb"/>
<rect x="142.94" y="109.70" width="13.45" height="6.91" fill="#e6e379"/>
<rect x="156.09" y="109.70" width="26.60" height="6.91" fill="#e6cf42"/>
<rect x="182.39" y="109.70" width="6.88" height="6.91" fill="#e6b716"/>
<rect x="188.96" y="109.70" width="6.87" height="6.91" fill="#802f95"/>
<rect x="195.54" y="109.70" width="13.45" height="6.91" fill="#141444"/>
<rect x="208.69" y="109.70" width="13.45" height="6.91" fill="#3d26a6"/>
<rect x="221.84" y="109.70" width="6.88" height="6.91" fill="#f1f1bb"/>
<rect x="228.41" y="109.70" width="6.87" height="6.91" fill="#e6e379"/>
<rect x="234.99" y="109.70" width="6.87" height="6.91" fill="#e6cf42"/>
<rect x="241.56" y="109.70" width="6.88" height="6.91" fill="#f1f1bb"/>
<rect x="248.14" y="109.70" width="13.45" height="6.91" fill="#e6e379"/>
<rect x="261.29" y="109.70" width="6.87" height="6.91" fill="#e6b716"/>
<rect x="267.86" y="109.70" width="6.87" height="6.91" fill="#e69509"/>
<rect x="274.44" y="109.70" width="6.87" height="6.91" fill="#e6b716"/>
<rect x="281.01" y="109.70" width="13.45" height="6.91" fill="#802f95"/>
<rect x="294.16" y="109.70" width="6.87" height="6.91" fill="#141444"/>
<rect x="300.74" y="109.70" width="6.87" height="6.91" fill="#000000"/>
<rect x="307.31" y="109.70" width="6.87" height="6.91" fill="#ad366e"/>
<rect x="313.89" y="109.70" width="6.88" height="6.91" fill="#e6b716"/>
<rect x="320.46" y="109.70" width="6.87" height="6.91" fill="#802f95"/>
<rect x="327.04" y="109.70" width="6.87" height="6.91" fill="#5728b7"/>
<rect x="333.61" y="109.70" width="6.87" height="6.91" fill="#141444"/>
<rect x="340.19" y="109.70" width="13.45" height="6.91" fill="#e6cf42"/>
<rect x="353.34" y="109.70" width="6.88" height="6.91" fill="#e69509"/>
<rect x="359.91" y="109.70" width="39.75" height="6.91" fill="#e6cf42"/>
<rect x="399.36" y="109.70" width="6.87" height="6.91" fill="#e6b716"/>
<rect x="405.94" y="109.70" width="6.88" height="6.91" fill="#e6cf42"/>
<rect x="412.51" y="109.70" width="6.87" height="6.91" fill="#e6e379"/>
<rect x="419.09" y="109.70" width="26.60" height="6.91" fill="#141444"/>
<rect x="445.39" y="109.70" width="6.87" height="6.91" fill="#e6cf42"/>
<rect x="451.96" y="109.70" width="6.88" height="6.91" fill="#5728b7"/>
<rect x="458.54" y="109.70" width="6.87" height="6.91" fill="#e6b716"/>
<rect x="465.11" y="109.70" width="6.87" height="6.91" fill="#e6cf42"/>
<rect x="471.69" y="109.70" width="47.11" height="6.91" fill="#e6e379"/>
<rect x="50.50" y="116.30" width="13.84" height="6.91" fill="#f1f1bb"/>
<rect x="64.04" y="116.30" width="13.45" height="6.91" fill="#e6e379"/>
<rect x="77.19" y="116.30" width="20.02" height="6.91" fill="#f1f1bb"/>
<rect x="96.91" y="116.30" width="13.45" height="6.91" fill="#e6e379"/>
<rect x="110.06" y="116.30" width="6.87" height="6.91" fill="#f1f1bb"/>
<rect x="116.64" y="116.30" width="33.17" height="6.91" fill="#e6e379"/>
<rect x="149.51" y="116.30" width="20.02" height="6.91" fill="#e6cf42"/>
<rect x="169.24" y="116.30" width="6.87" height="6.91" fill="#e69509"/>
<rect x="175.81" y="116.30" width="6.88" height="6.91" fill="#eb7308"/>
<rect x="182.39" y="116.30" width="6.88" height="6.91" fill="#802f95"/>
<rect x="188.96" y="116.30" width="20.02" height="6.91" fill="#141444"/>
<rect x="208.69" y="116.30" width="6.88" height="6.91" fill="#5728b7"/>
<rect x="215.26" y="116.30" width="6.87" height="6.91" fill="#e6e379"/>
<rect x="221.84" y="116.30" width="13.45" height="6.91" fill="#f1f1bb"/>
<rect x="234.99" y="116.30" width="6.87" height="6.91" fill="#e6e379"/>
<rect x="241.56" y="116.30" width="20.03" height="6.91" fill="#f1f1bb"/>
<rect x="261.29" y="116.30" width="6.87" height="6.91" fill="#e6e379"/>
<rect x="267.86" y="116.30" width="6.87" height="6.91" fill="#e6b716"/>
<rect x="274.44" y="116.30" width="13.45" height="6.91" fill="#e69509"/>
<rect x="287.59" y="116.30" width="6.87" height="6.91" fill="#eb7308"/>
<rect x="294.16" y="116.30" width="6.87" height="6.91" fill="#141444"/>
<rect x="300.74" y="116.30" width="6.87" height="6.91" fill="#eb7308"/>
<rect x="307.31" y="116.30" width="6.87" height="6.91" fill="#e69509"/>
<rect x="313.89" y="116.30" width="6.88" height="6.91" fill="#e6b716"/>
<rect x="320.46" y="116.30" width="6.87" height="6.91" fill="#e69509"/>
<rect x="327.04" y="116.30" width="6.87" height="6.91" fill="#141444"/>
<rect x="333.61" y="116.30" width="6.87" height="6.91" fill="#e69509"/>
<rect x="340.19" y="116.30" width="6.87" height="6.91" fill="#e6cf42"/>
<rect x="346.76" y="116.30" width="13.45" height="6.91" fill="#e6e379"/>
<rect x="359.91" y="116.30" width="6.87" height="6.91" fill="#f1f1bb"/>
<rect x="366.49" y="116.30" width="6.87" height="6.91" fill="#e6e379"/>
<rect x="373.06" y="116.30" width="33.17" height="6.91" fill="#f1f1bb"/>
<rect x="405.94" y="116.30" width="6.88" height="6.91" fill="#e6e379"/>
<rect x="412.51" y="116.30" width="26.60" height="6.91" fill="#e6cf42"/>
<rect x="438.81" y="116.30" width="6.88" height="6.91" fill="#e6e379"/>
<rect x="445.39" y="116.30" width="13.45" height="6.91" fill="#e6cf42"/>
<rect x="458.54" y="116.30" width="6.87" height="6.91" fill="#e6b716"/>
<rect x="465.11" y="116.30" width="6.87" height="6.91" fill="#e6cf42"/>
<rect x="471.69" y="116.30" width="47.11" height="6.91" fill="#e6e379"/>
<rect x="50.50" y="122.91" width="40.14" height="6.91" fill="#f1f1bb"/>
<rect x="90.34" y="122.91" width="13.45" height="6.91" fill="#e6e379"/>
<rect x="103.49" y="122.91" width="13.45" height="6.91" fill="#f1f1bb"/>
<rect x="116.64" y="122.91" width="33.17" height="6.91" fill="#e6e379"/>
<rect x="149.51" y="122.91" width="26.60" height="6.91" fill="#e6cf42"/>
<rect x="175.81" y="122.91" width="6.88" height="6.91" fill="#e6e379"/>
<rect x="182.39" y="122.91" width="13.45" height="6.91" fill="#802f95"/>
<rect x="195.54" y="122.91" width="13.45" height="6.91" fill="#141444"/>
<rect x="208.69" y="122.91" width="6.88" height="6.91" fill="#5728b7"/>
<rect x="215.26" y="122.91" width="13.45" height="6.91" fill="#f1f1bb"/>
<rect x="228.41" y="122.91" width="13.45" height="6.91" fill="#e6e379"/>
<rect x="241.56" y="122.91" width="13.45" height="6.91" fill="#f1f1bb"/>
<rect x="254.71" y="122.91" width="20.02" height="6.91" fill="#e6e379"/>
<rect x="274.44" y="122.91" width="6.87" height="6.91" fill="#e6cf42"/>
<rect x="281.01" y="122.91" width="6.88" height="6.91" fill="#e69509"/>
<rect x="287.59" y="122.91" width="6.87" height="6.91" fill="#ad366e"/>
<rect x="294.16" y="122.91" width="6.87" height="6.91" fill="#141444"/>
<rect x="300.74" y="122.91" width="6.87" height="6.91" fill="#eb7308"/>
<rect x="307.31" y="122.91" width="6.87" height="6.91" fill="#e69509"/>
<rect x="313.89" y="122.91" width="6.88" height="6.91" fill="#e6b716"/>
<rect x="320.46" y="122.91" width="13.45" height="6.91" fill="#e69509"/>
<rect x="333.61" y="122.91" width="6.87" height="6.91" fill="#141444"/>
<rect x="340.19" y="122.91" width="26.60" height="6.91" fill="#e6e379"/>
<rect x="366.49" y="122.91" width="46.33" height="6.91" fill="#f1f1bb"/>
<rect x="412.51" y="122.91" width="6.87" height="6.91" fill="#e6e379"/>
<rect x="419.09" y="122.91" width="6.88" height="6.91" fill="#e6cf42"/>
<rect x="425.66" y="122.91" width="13.45" height="6.91" fill="#e6b716"/>
<rect x="438.81" y="122.91" width="33.17" height="6.91" fill="#e6cf42"/>
<rect x="471.69" y="122.91" width="47.11" height="6.91" fill="#e6e379"/>
<rect x="50.50" y="129.52" width="7.26" height="6.91" fill="#f1f1bb"/>
<rect x="57.46" y="129.52" width="6.87" height="6.91" fill="#e6e379"/>
<rect x="64.04" y="129.52" width="26.60" height="6.91" fill="#f1f1bb"/>
<rect x="90.34" y="129.52" width="6.88" height="6.91" fill="#e6e379"/>
<rect x="96.91" y="129.52" width="13.45" height="6.91" fill="#f1f1bb"/>
<rect x="110.06" y="129.52" width="13.45" height="6.91" fill="#e6e379"/>
<rect x="123.21" y="129.52" width="6.88" height="6.91" fill="#e6cf42"/>
<rect x="129.79" y="129.52" width="13.45" height="6.91" fill="#e6e379"/>
<rect x="142.94" y="129.52" width="26.60" height="6.91" fill="#e6cf42"/>
<rect x="169.24" y="129.52" width="13.45" height="6.91" fill="#e6e379"/>
<rect x="182.39" y="129.52" width="6.88" height="6.91" fill="#e6cf42"/>
<rect x="188.96" y="129.52" width="6.87" height="6.91" fill="#802f95"/>
<rect x="195.54" y="129.52" width="6.87" height="6.91" fill="#141444"/>
<rect x="202.11" y="129.52" width="6.87" height="6.91" fill="#802f95"/>
<rect x="208.69" y="129.52" width="6.88" height="6.91" fill="#5728b7"/>
<rect x="215.26" y="129.52" width="6.87" height="6.91" fill="#e69509"/>
<rect x="221.84" y="129.52" width="52.90" height="6.91" fill="#e6e379"/>
<rect x="274.44" y="129.52" width="6.87" height="6.91" fill="#e6cf42"/>
<rect x="281.01" y="129.52" width="13.45" height="6.91" fill="#eb7308"/>
<rect x="294.16" y="129.52" width="6.87" height="6.91" fill="#e6cf42"/>
<rect x="300.74" y="129.52" width="13.45" height="6.91" fill="#e69509"/>
<rect x="313.89" y="129.52" width="6.88" height="6.91" fill="#eb7308"/>
<rect x="320.46" y="129.52" width="6.87" height="6.91" fill="#e69509"/>
<rect x="327.04" y="129.52" width="13.45" height="6.91" fill="#141444"/>
<rect x="340.19" y="129.52" width="26.60" height="6.91" fill="#e6e379"/>
<rect x="366.49" y="129.52" width="6.87" height="6.91" fill="#f1f1bb"/>
<rect x="373.06" y="129.52" width="52.90" height="6.91" fill="#e6e379"/>
<rect x="425.66" y="129.52" width="20.03" height="6.91" fill="#e6cf42"/>
<rect x="445.39" y="129.52" width="52.90" height="6.91" fill="#e6e379"/>
<rect x="497.99" y="129.52" width="6.87" height="6.91" fill="#f1f1bb"/>
<rect x="504.56" y="129.52" width="14.24" height="6.91" fill="#e6e379"/>
<rect x="50.50" y="136.13" width="7.26" height="6.91" fill="#e6b716"/>
<rect x="57.46" y="136.13" width="6.87" height="6.91" fill="#e6cf42"/>
<rect x="64.04" y="136.13" width="6.87" height="6.91" fill="#e6e379"/>
<rect x="70.61" y="136.13" width="6.88" height="6.91" fill="#f1f1bb"/>
<rect x="77.19" y="136.13" width="33.17" height="6.91" fill="#e6e379"/>
<rect x="110.06" y="136.13" width="6.87" height="6.91" fill="#f1f1bb"/>
<rect x="116.64" y="136.13" width="33.17" height="6.91" fill="#e6e379"/>
<rect x="149.51" y="136.13" width="26.60" height="6.91" fill="#e6cf42"/>
<rect x="175.81" y="136.13" width="6.88" height="6.91" fill="#e6e379"/>
<rect x="182.39" y="136.13" width="6.88" height="6.91" fill="#e6cf42"/>
<rect x="188.96" y="136.13" width="6.87" height="6.91" fill="#e6e379"/>
<rect x="195.54" y="136.13" width="6.87" height="6.91" fill="#f1f1bb"/>
<rect x="202.11" y="136.13" width="13.45" height="6.91" fill="#5728b7"/>
<rect x="215.26" y="136.13" width="6.87" height="6.91" fill="#e6b716"/>
<rect x="221.84" y="136.13" width="13.45" height="6.91" fill="#e6cf42"/>
<rect x="234.99" y="136.13" width="33.17" height="6.91" fill="#e6e379"/>
<rect x="267.86" y="136.13" width="13.45" height="6.91" fill="#e6cf42"/>
<rect x="281.01" y="136.13" width="6.88" height="6.91" fill="#e69509"/>
<rect x="287.59" y="136.13" width="6.87" height="6.91" fill="#e6b716"/>
<rect x="294.16" y="136.13" width="13.45" height="6.91" fill="#e6cf42"/>
<rect x="307.31" y="136.13" width="6.87" height="6.91" fill="#f1f1bb"/>
<rect x="313.89" y="136.13" width="13.45" height="6.91" fill="#e6cf42"/>
<rect x="327.04" y="136.13" width="6.87" height="6.91" fill="#e69509"/>
<rect x="333.61" y="136.13" width="6.87" height="6.91" fill="#141444"/>
<rect x="340.19" y="136.13" width="98.92" height="6.91" fill="#e6e379"/>
<rect x="438.81" y="136.13" width="33.17" height="6.91" fill="#f1f1bb"/>
<rect x="471.69" y="136.13" width="47.11" height="6.91" fill="#e6e379"/>
<rect x="50.50" y="142.74" width="79.59" height="6.91" fill="#e6e379"/>
<rect x="129.79" y="142.74" width="20.02" height="6.91" fill="#e6cf42"/>
<rect x="149.51" y="142.74" width="6.87" height="6.91" fill="#e6e379"/>
<rect x="156.09" y="142.74" width="39.75" height="6.91" fill="#e6cf42"/>
<rect x="195.54" y="142.74" width="6.87" height="6.91" fill="#f1f1bb"/>
<rect x="202.11" y="142.74" width="33.17" height="6.91" fill="#e6cf42"/>
<rect x="234.99" y="142.74" width="6.87" height="6.91" fill="#e6e379"/>
<rect x="241.56" y="142.74" width="6.88" height="6.91" fill="#e6cf42"/>
<rect x="248.14" y="142.74" width="20.02" height="6.91" fill="#e6e379"/>
<rect x="267.86" y="142.74" width="33.17" height="6.91" fill="#e6cf42"/>
<rect x="300.74" y="142.74" width="20.03" height="6.91" fill="#e6e379"/>
<rect x="320.46" y="142.74" width="92.35" height="6.91" fill="#e6cf42"/>
<rect x="412.51" y="142.74" width="26.60" height="6.91" fill="#e6e379"/>
<rect x="438.81" y="142.74" width="39.75" height="6.91" fill="#f1f1bb"/>
<rect x="478.26" y="142.74" width="40.54" height="6.91" fill="#e6e379"/>
<rect x="50.50" y="149.35" width="20.41" height="6.91" fill="#e6e379"/>
<rect x="70.61" y="149.35" width="13.45" height="6.91" fill="#f1f1bb"/>
<rect x="83.76" y="149.35" width="39.75" height="6.91" fill="#e6e379"/>
<rect x="123.21" y="149.35" width="6.88" height="6.91" fill="#e6cf42"/>
<rect x="129.79" y="149.35" width="6.87" height="6.91" fill="#f1f1bb"/>
<rect x="136.36" y="149.35" width="26.60" height="6.91" fill="#e6cf42"/>
<rect x="162.66" y="149.35" width="6.87" height="6.91" fill="#e6e379"/>
<rect x="169.24" y="149.35" width="6.87" height="6.91" fill="#e6cf42"/>
<rect x="175.81" y="149.35" width="6.88" height="6.91" fill="#e6e379"/>
<rect x="182.39" y="149.35" width="6.88" height="6.91" fill="#e6cf42"/>
<rect x="188.96" y="149.35" width="6.87" height="6.91" fill="#e6e379"/>
<rect x="195.54" y="149.35" width="6.87" height="6.91" fill="#f1f1bb"/>
<rect x="202.11" y="149.35" width="6.87" height="6.91" fill="#e6e379"/>
<rect x="208.69" y="149.35" width="6.88" height="6.91" fill="#e6cf42"/>
<rect x="215.26" y="149.35" width="6.87" height="6.91" fill="#e6e379"/>
<rect x="221.84" y="149.35" width="6.88" height="6.91" fill="#e6cf42"/>
<rect x="228.41" y="149.35" width="6.87" height="6.91" fill="#e6e379"/>
<rect x="234.99" y="149.35" width="13.45" height="6.91" fill="#e6cf42"/>
<rect x="248.14" y="149.35" width="13.45" height="6.91" fill="#f1f1bb"/>
<rect x="261.29" y="149.35" width="6.87" height="6.91" fill="#e6e379"/>
<rect x="267.86" y="149.35" width="33.17" height="6.91" fill="#e6cf42"/>
<rect x="300.74" y="149.35" width="6.87" height="6.91" fill="#e6b716"/>
<rect x="307.31" y="149.35" width="13.45" height="6.91" fill="#e6e379"/>
<rect x="320.46" y="149.35" width="20.02" height="6.91" fill="#e6cf42"/>
<rect x="340.19" y="149.35" width="6.87" height="6.91" fill="#e6e379"/>
<rect x="346.76" y="149.35" width="72.62" height="6.91" fill="#e6cf42"/>
<rect x="419.09" y="149.35" width="20.03" height="6.91" fill="#e6e379"/>
<rect x="438.81" y="149.35" width="33.17" height="6.91" fill="#f1f1bb"/>
<rect x="471.69" y="149.35" width="47.11" height="6.91" fill="#e6e379"/>
<rect x="50.50" y="155.96" width="26.99" height="6.91" fill="#e6e379"/>
<rect x="77.19" y="155.96" width="6.87" height="6.91" fill="#f1f1bb"/>
<rect x="83.76" y="155.96" width="20.02" height="6.91" fill="#e6e379"/>
<rect x="103.49" y="155.96" width="33.17" height="6.91" fill="#e6cf42"/>
<rect x="136.36" y="155.96" width="6.88" height="6.91" fill="#e6e379"/>
<rect x="142.94" y="155.96" width="6.87" height="6.91" fill="#e6cf42"/>
<rect x="149.51" y="155.96" width="6.87" height="6.91" fill="#e6b716"/>
<rect x="156.09" y="155.96" width="13.45" height="6.91" fill="#e6cf42"/>
<rect x="169.24" y="155.96" width="6.87" height="6.91" fill="#e6e379"/>
<rect x="175.81" y="155.96" width="13.45" height="6.91" fill="#e6cf42"/>
<rect x="188.96" y="155.96" width="6.87" height="6.91" fill="#e6e379"/>
<rect x="195.54" y="155.96" width="6.87" height="6.91" fill="#f1f1bb"/>
<rect x="202.11" y="155.96" width="13.45" height="6.91" fill="#e6cf42"/>
<rect x="215.26" y="155.96" width="6.87" height="6.91" fill="#e6e379"/>
<rect x="221.84" y="155.96" width="26.60" height="6.91" fill="#e6cf42"/>
<rect x="248.14" y="155.96" width="6.87" height="6.91" fill="#e6e379"/>
<rect x="254.71" y="155.96" width="6.88" height="6.91" fill="#f1f1bb"/>
<rect x="261.29" y="155.96" width="6.87" height="6.91" fill="#e6e379"/>
<rect x="267.86" y="155.96" width="33.17" height="6.91" fill="#e6cf42"/>
<rect x="300.74" y="155.96" width="6.87" height="6.91" fill="#e6b716"/>
<rect x="307.31" y="155.96" width="20.03" height="6.91" fill="#e6cf42"/>
<rect x="327.04" y="155.96" width="6.87" height="6.91" fill="#e6e379"/>
<rect x="333.61" y="155.96" width="85.77" height="6.91" fill="#e6cf42"/>
<rect x="419.09" y="155.96" width="33.17" height="6.91" fill="#e6e379"/>
<rect x="451.96" y="155.96" width="6.88" height="6.91" fill="#f1f1bb"/>
<rect x="458.54" y="155.96" width="26.60" height="6.91" fill="#e6e379"/>
<rect x="484.84" y="155.96" width="13.45" height="6.91" fill="#e6cf42"/>
<rect x="497.99" y="155.96" width="20.81" height="6.91" fill="#e6e379"/>
<rect x="50.50" y="162.56" width="7.26" height="6.91" fill="#e6cf42"/>
<rect x="57.46" y="162.56" width="20.02" height="6.91" fill="#e6b716"/>
<rect x="77.19" y="162.56" width="20.02" height="6.91" fill="#e6cf42"/>
<rect x="96.91" y="162.56" width="13.45" height="6.91" fill="#e6b716"/>
<rect x="110.06" y="162.56" width="13.45" height="6.91" fill="#e6cf42"/>
<rect x="123.21" y="162.56" width="33.17" height="6.91" fill="#e6b716"/>
<rect x="156.09" y="162.56" width="6.88" height="6.91" fill="#e6cf42"/>
<rect x="162.66" y="162.56" width="6.87" height="6.91" fill="#f1f1bb"/>
<rect x="169.24" y="162.56" width="20.03" height="6.91" fill="#e6cf42"/>
<rect x="188.96" y="162.56" width="6.87" height="6.91" fill="#e6e379"/>
<rect x="195.54" y="162.56" width="6.87" height="6.91" fill="#f1f1bb"/>
<rect x="202.11" y="162.56" width="6.87" height="6.91" fill="#e6cf42"/>
<rect x="208.69" y="162.56" width="6.88" height="6.91" fill="#e6e379"/>
<rect x="215.26" y="162.56" width="6.87" height="6.91" fill="#e6cf42"/>
<rect x="221.84" y="162.56" width="6.88" height="6.91" fill="#e6b716"/>
<rect x="228.41" y="162.56" width="26.60" height="6.91" fill="#e6cf42"/>
<rect x="254.71" y="162.56" width="6.88" height="6.91" fill="#e6e379"/>
<rect x="261.29" y="162.56" width="13.45" height="6.91" fill="#e6cf42"/>
<rect x="274.44" y="162.56" width="6.87" height="6.91" fill="#e69509"/>
<rect x="281.01" y="162.56" width="13.45" height="6.91" fill="#e6cf42"/>
<rect x="294.16" y="162.56" width="6.87" height="6.91" fill="#e6b716"/>
<rect x="300.74" y="162.56" width="33.17" height="6.91" fill="#e6cf42"/>
<rect x="333.61" y="162.56" width="6.87" height="6.91" fill="#e6b716"/>
<rect x="340.19" y="162.56" width="13.45" height="6.91" fill="#e6cf42"/>
<rect x="353.34" y="162.56" width="6.88" height="6.91" fill="#e69509"/>
<rect x="359.91" y="162.56" width="33.17" height="6.91" fill="#e6cf42"/>
<rect x="392.79" y="162.56" width="6.87" height="6.91" fill="#eb7308"/>
<rect x="399.36" y="162.56" width="6.87" height="6.91" fill="#e6b716"/>
<rect x="405.94" y="162.56" width="26.60" height="6.91" fill="#e6cf42"/>
<rect x="432.24" y="162.56" width="46.33" height="6.91" fill="#e6e379"/>
<rect x="478.26" y="162.56" width="26.60" height="6.91" fill="#e6cf42"/>
<rect x="504.56" y="162.56" width="14.24" height="6.91" fill="#e6e379"/>
<rect x="50.50" y="169.17" width="13.84" height="6.91" fill="#e6cf42"/>
<rect x="64.04" y="169.17" width="6.87" height="6.91" fill="#e6b716"/>
<rect x="70.61" y="169.17" width="20.02" height="6.91" fill="#e69509"/>
<rect x="90.34" y="169.17" width="6.88" height="6.91" fill="#e6cf42"/>
<rect x="96.91" y="169.17" width="13.45" height="6.91" fill="#e6b716"/>
<rect x="110.06" y="169.17" width="33.17" height="6.91" fill="#e69509"/>
<rect x="142.94" y="169.17" width="26.60" height="6.91" fill="#e6b716"/>
<rect x="169.24" y="169.17" width="6.87" height="6.91" fill="#e6cf42"/>
<rect x="175.81" y="169.17" width="13.45" height="6.91" fill="#e6b716"/>
<rect x="188.96" y="169.17" width="6.87" height="6.91" fill="#e6cf42"/>
<rect x="195.54" y="169.17" width="6.87" height="6.91" fill="#e6e379"/>
<rect x="202.11" y="169.17" width="6.87" height="6.91" fill="#e6cf42"/>
<rect x="208.69" y="169.17" width="33.17" height="6.91" fill="#e6b716"/>
<rect x="241.56" y="169.17" width="6.88" height="6.91" fill="#e69509"/>
<rect x="248.14" y="169.17" width="6.87" height="6.91" fill="#e6b716"/>
<rect x="254.71" y="169.17" width="6.88" height="6.91" fill="#e69509"/>
<rect x="261.29" y="169.17" width="13.45" height="6.91" fill="#e6b716"/>
<rect x="274.44" y="169.17" width="13.45" height="6.91" fill="#e6cf42"/>
<rect x="287.59" y="169.17" width="52.90" height="6.91" fill="#e6b716"/>
<rect x="340.19" y="169.17" width="13.45" height="6.91" fill="#e6cf42"/>
<rect x="353.34" y="169.17" width="6.88" height="6.91" fill="#eb7308"/>
<rect x="359.91" y="169.17" width="20.02" height="6.91" fill="#e6cf42"/>
<rect x="379.64" y="169.17" width="13.45" height="6.91" fill="#e6b716"/>
<rect x="392.79" y="169.17" width="6.87" height="6.91" fill="#eb7308"/>
<rect x="399.36" y="169.17" width="6.87" height="6.91" fill="#e6b716"/>
<rect x="405.94" y="169.17" width="39.75" height="6.91" fill="#e6cf42"/>
<rect x="445.39" y="169.17" width="13.45" height="6.91" fill="#e6e379"/>
<rect x="458.54" y="169.17" width="13.45" height="6.91" fill="#e6cf42"/>
<rect x="471.69" y="169.17" width="6.88" height="6.91" fill="#e6e379"/>
<rect x="478.26" y="169.17" width="33.17" height="6.91" fill="#e6cf42"/>
<rect x="511.14" y="169.17" width="7.66" height="6.91" fill="#e6e379"/>
<rect x="50.50" y="175.78" width="7.26" height="6.91" fill="#e43c3e"/>
<rect x="57.46" y="175.78" width="20.02" height="6.91" fill="#eb7308"/>
<rect x="77.19" y="175.78" width="6.87" height="6.91" fill="#e69509"/>
<rect x="83.76" y="175.78" width="13.45" height="6.91" fill="#eb7308"/>
<rect x="96.91" y="175.78" width="6.87" height="6.91" fill="#f8511c"/>
<rect x="103.49" y="175.78" width="6.88" height="6.91" fill="#eb7308"/>
<rect x="110.06" y="175.78" width="6.87" height="6.91" fill="#e69509"/>
<rect x="116.64" y="175.78" width="20.02" height="6.91" fill="#eb7308"/>
<rect x="136.36" y="175.78" width="6.88" height="6.91" fill="#5728b7"/>
<rect x="142.94" y="175.78" width="6.87" height="6.91" fill="#eb7308"/>
<rect x="149.51" y="175.78" width="26.60" height="6.91" fill="#e69509"/>
<rect x="175.81" y="175.78" width="13.45" height="6.91" fill="#eb7308"/>
<rect x="188.96" y="175.78" width="13.45" height="6.91" fill="#e69509"/>
<rect x="202.11" y="175.78" width="6.87" height="6.91" fill="#eb7308"/>
<rect x="208.69" y="175.78" width="6.88" height="6.91" fill="#f8511c"/>
<rect x="215.26" y="175.78" width="52.90" height="6.91" fill="#eb7308"/>
<rect x="267.86" y="175.78" width="6.87" height="6.91" fill="#e43c3e"/>
<rect x="274.44" y="175.78" width="6.87" height="6.91" fill="#eb7308"/>
<rect x="281.01" y="175.78" width="6.88" height="6.91" fill="#ad366e"/>
<rect x="287.59" y="175.78" width="6.87" height="6.91" fill="#eb7308"/>
<rect x="294.16" y="175.78" width="26.60" height="6.91" fill="#f8511c"/>
<rect x="320.46" y="175.78" width="6.87" height="6.91" fill="#e43c3e"/>
<rect x="327.04" y="175.78" width="13.45" height="6.91" fill="#eb7308"/>
<rect x="340.19" y="175.78" width="6.87" height="6.91" fill="#f8511c"/>
<rect x="346.76" y="175.78" width="13.45" height="6.91" fill="#eb7308"/>
<rect x="359.91" y="175.78" width="13.45" height="6.91" fill="#5728b7"/>
<rect x="373.06" y="175.78" width="6.87" height="6.91" fill="#e43c3e"/>
<rect x="379.64" y="175.78" width="20.03" height="6.91" fill="#eb7308"/>
<rect x="399.36" y="175.78" width="20.02" height="6.91" fill="#5728b7"/>
<rect x="419.09" y="175.78" width="52.90" height="6.91" fill="#eb7308"/>
<rect x="471.69" y="175.78" width="6.88" height="6.91" fill="#e69509"/>
<rect x="478.26" y="175.78" width="40.54" height="6.91" fill="#eb7308"/>
<rect x="50.50" y="182.39" width="7.26" height="6.91" fill="#f8511c"/>
<rect x="57.46" y="182.39" width="6.87" height="6.91" fill="#eb7308"/>
<rect x="64.04" y="182.39" width="13.45" height="6.91" fill="#5728b7"/>
<rect x="77.19" y="182.39" width="6.87" height="6.91" fill="#ad366e"/>
<rect x="83.76" y="182.39" width="26.60" height="6.91" fill="#5728b7"/>
<rect x="110.06" y="182.39" width="6.87" height="6.91" fill="#3d26a6"/>
<rect x="116.64" y="182.39" width="6.87" height="6.91" fill="#5728b7"/>
<rect x="123.21" y="182.39" width="6.88" height="6.91" fill="#802f95"/>
<rect x="129.79" y="182.39" width="13.45" height="6.91" fill="#ad366e"/>
<rect x="142.94" y="182.39" width="6.87" height="6.91" fill="#f8511c"/>
<rect x="149.51" y="182.39" width="6.87" height="6.91" fill="#e6cf42"/>
<rect x="156.09" y="182.39" width="13.45" height="6.91" fill="#e69509"/>
<rect x="169.24" y="182.39" width="6.87" height="6.91" fill="#5728b7"/>
<rect x="175.81" y="182.39" width="13.45" height="6.91" fill="#e69509"/>
<rect x="188.96" y="182.39" width="13.45" height="6.91" fill="#e6b716"/>
<rect x="202.11" y="182.39" width="13.45" height="6.91" fill="#e69509"/>
<rect x="215.26" y="182.39" width="13.45" height="6.91" fill="#5728b7"/>
<rect x="228.41" y="182.39" width="6.87" height="6.91" fill="#802f95"/>
<rect x="234.99" y="182.39" width="6.87" height="6.91" fill="#3d26a6"/>
<rect x="241.56" y="182.39" width="6.88" height="6.91" fill="#5728b7"/>
<rect x="248.14" y="182.39" width="6.87" height="6.91" fill="#e43c3e"/>
<rect x="254.71" y="182.39" width="13.45" height="6.91" fill="#5728b7"/>
<rect x="267.86" y="182.39" width="6.87" height="6.91" fill="#141444"/>
<rect x="274.44" y="182.39" width="6.87" height="6.91" fill="#5728b7"/>
<rect x="281.01" y="182.39" width="6.88" height="6.91" fill="#141444"/>
<rect x="287.59" y="182.39" width="13.45" height="6.91" fill="#3d26a6"/>
<rect x="300.74" y="182.39" width="6.87" height="6.91" fill="#141444"/>
<rect x="307.31" y="182.39" width="13.45" height="6.91" fill="#3d26a6"/>
<rect x="320.46" y="182.39" width="20.02" height="6.91" fill="#5728b7"/>
<rect x="340.19" y="182.39" width="6.87" height="6.91" fill="#ad366e"/>
<rect x="346.76" y="182.39" width="6.87" height="6.91" fill="#802f95"/>
<rect x="353.34" y="182.39" width="6.88" height="6.91" fill="#5728b7"/>
<rect x="359.91" y="182.39" width="6.87" height="6.91" fill="#3d26a6"/>
<rect x="366.49" y="182.39" width="6.87" height="6.91" fill="#141444"/>
<rect x="373.06" y="182.39" width="6.87" height="6.91" fill="#802f95"/>
<rect x="379.64" y="182.39" width="20.03" height="6.91" fill="#5728b7"/>
<rect x="399.36" y="182.39" width="13.45" height="6.91" fill="#3d26a6"/>
<rect x="412.51" y="182.39" width="13.45" height="6.91" fill="#ad366e"/>
<rect x="425.66" y="182.39" width="6.87" height="6.91" fill="#5728b7"/>
<rect x="432.24" y="182.39" width="20.02" height="6.91" fill="#ad366e"/>
<rect x="451.96" y="182.39" width="6.88" height="6.91" fill="#5728b7"/>
<rect x="458.54" y="182.39" width="6.87" height="6.91" fill="#ad366e"/>
<rect x="465.11" y="182.39" width="6.87" height="6.91" fill="#e6b716"/>
<rect x="471.69" y="182.39" width="26.60" height="6.91" fill="#ad366e"/>
<rect x="497.99" y="182.39" width="6.87" height="6.91" fill="#802f95"/>
<rect x="504.56" y="182.39" width="14.24" height="6.91" fill="#3d26a6"/></g>
<svg x="50.50" y="37.00" width="468.00" height="152.00" viewBox="-177.795 -57.502 355.894 115.003" preserveAspectRatio="none" overflow="hidden"><g fill="none" stroke="#000" stroke-width="1.7" stroke-linejoin="round" stroke-linecap="round" style="vector-effect:non-scaling-stroke"><path d="M-166 -54 L-162 -55 L-159 -56 L-156.5 -57.3 L-154 -58.5 L-152 -60 L-150 -61 L-147 -60.8 L-144 -60 L-140 -59.7 L-137 -58.5 L-135.5 -57.5 L-134 -56.5 L-132.5 -55.5 L-131 -54.5 L-130.2 -54 L-130 -53 L-128.5 -52.3 L-128 -51.2 L-127 -50.4 L-125.5 -49.7 L-124 -49.3 L-123 -49 L-122.8 -48 L-123.2 -47.2 L-124 -47 L-124 -46 L-124 -44 L-124.5 -42 L-124.2 -40.5 L-123.7 -39 L-122.5 -37.8 L-121.9 -36.6 L-121 -35.5 L-120.6 -34.5 L-118.5 -34 L-117.3 -33 L-117 -32.5 L-116.5 -31.5 L-116 -30.5 L-115 -29.5 L-114 -28.5 L-114.3 -27.5 L-113 -26.5 L-112 -25 L-112 -24.5 L-110.5 -23.5 L-109.5 -23 L-110 -24.2 L-110.7 -24.5 L-111.5 -26 L-112.5 -27.5 L-113.5 -29 L-114.5 -30.5 L-114.8 -31.7 L-113 -31.3 L-112 -29.5 L-111 -28 L-110 -27 L-109 -25.5 L-108 -25 L-106.5 -23.5 L-105.7 -22.5 L-105.3 -21.3 L-105.5 -20.4 L-104.5 -19.2 L-103.5 -18.3 L-101.5 -17.7 L-100 -17 L-98.5 -16.3 L-97 -15.8 L-95 -16 L-94 -16.2 L-93 -15.5 L-92 -14.5 L-91 -13.9 L-89.5 -13.5 L-88 -13.2 L-87.5 -13 L-86.5 -12 L-85.7 -11 L-85.8 -10.2 L-85 -9.8 L-84 -9 L-83 -8.3 L-82 -8.2 L-80.5 -7.3 L-80 -7.5 L-79.5 -8.8 L-78.5 -8.4 L-78 -7.5 L-77.5 -7 L-77.3 -5 L-77.5 -3.5 L-78.7 -1.5 L-80 -0.5 L-80.5 1 L-80 2.5 L-80.3 3.5 L-81.2 4.5 L-81 6 L-79.8 7 L-79 8.5 L-78 10 L-77 12 L-76 14 L-75 15.5 L-73 16.5 L-71.5 17.5 L-70.3 18.5 L-70.2 20 L-70.1 22 L-70.5 24 L-70.7 26 L-71.3 28.5 L-71.5 30 L-71.6 32 L-71.8 34 L-72.5 36 L-73.3 37.5 L-73.6 39 L-73.8 41 L-74 43 L-74.5 45 L-75.5 47 L-75.5 49 L-75 51 L-74.5 52.5 L-72 54 L-70 55 L-68 55.5 L-66.5 55 L-65 54.8 L-66.5 54.4 L-68.5 52.5 L-69 51 L-69 50 L-68 48.5 L-66.5 47.5 L-67.5 46 L-67 45 L-65.5 45 L-65 44 L-65 42.5 L-64 42.3 L-63.5 42.8 L-64.5 41 L-65 41 L-63 41 L-62 40 L-62.3 39 L-61 38.8 L-58 38.2 L-57.5 37.5 L-56.8 36.5 L-57.3 35.5 L-58.4 34.5 L-57.5 34.5 L-56 34.9 L-54.9 34.9 L-53.5 34 L-52.5 33 L-51 31 L-50 29.5 L-48.7 28 L-48.5 26 L-48 25.3 L-46.5 24 L-45 23.5 L-43 23 L-42 22.9 L-41 22 L-40.9 21 L-40 19.5 L-39.2 17.5 L-39 15 L-39 13.5 L-38.5 13 L-37 11 L-35.5 9.5 L-35 8 L-34.8 7 L-35.2 5.5 L-36.5 5 L-38 4 L-39.5 3 L-41 2.9 L-43 2.5 L-44.3 2.5 L-45 1.5 L-47 0.7 L-48.5 1 L-49 0.5 L-50 -0 L-50.5 -1.8 L-51.5 -4 L-52.5 -5.2 L-54 -5.8 L-56 -5.9 L-57.2 -6 L-58.5 -6.8 L-60 -8.3 L-61 -8.7 L-62 -10 L-62.5 -10.6 L-64 -10.6 L-66 -10.6 L-68 -10.5 L-69.5 -11.5 L-70.2 -11.8 L-71.5 -11 L-71.8 -12.3 L-72.5 -11.8 L-74 -11.2 L-75.5 -10.5 L-76 -9.4 L-77 -8.6 L-77.5 -8.7 L-78.5 -9.4 L-79.5 -9.6 L-80.5 -9 L-81.5 -8.8 L-82.5 -9.5 L-83.5 -10.8 L-83.7 -12 L-83.5 -14 L-83.2 -15 L-84.5 -15.8 L-86 -15.9 L-88 -15.8 L-88.5 -17 L-88.2 -18.5 L-87.5 -19.5 L-87 -21.5 L-88 -21.5 L-90.3 -21 L-90.5 -19.5 L-91.5 -18.5 L-93 -18.4 L-94.5 -18.2 L-95.5 -18.8 L-96.5 -19.8 L-97.3 -21 L-97.8 -22.5 L-97.7 -24.5 L-97.3 -26 L-97.3 -27.5 L-96.5 -28.4 L-95 -29.3 L-94 -29.7 L-92 -29.6 L-90.5 -29 L-89.3 -29.2 L-89.5 -30.2 L-88 -30.5 L-86.5 -30.4 L-85 -29.7 L-84 -30 L-83 -29 L-82.7 -27.7 L-82 -26.5 L-81.2 -25.3 L-80.4 -25.2 L-80.1 -26.5 L-80.5 -28 L-81.3 -30 L-81.3 -31.5 L-80.5 -32.4 L-79 -33.5 L-77.5 -34.5 L-76 -35.2 L-75.5 -35.8 L-76 -37 L-75.8 -38 L-75 -38.8 L-74.3 -39.5 L-74 -40.5 L-72 -41 L-70.5 -41.6 L-70 -41.7 L-70.5 -42.5 L-70.7 -43 L-70 -43.8 L-68 -44.4 L-67 -44.8 L-66 -45.2 L-64.5 -45.3 L-66 -44 L-65.5 -43.5 L-64 -44.5 L-63 -44.7 L-61 -45.3 L-60 -46 L-60.5 -47 L-61.5 -46 L-64 -46.2 L-65 -47 L-64.5 -48.5 L-66 -49.1 L-68 -49.3 L-70 -48 L-68 -49.6 L-67 -49.5 L-64 -50.2 L-60 -50.2 L-57 -51.5 L-56 -52 L-55.7 -53 L-57 -54.5 L-59 -55.2 L-61 -56 L-61.5 -57.5 L-63 -58.5 L-64.5 -60.5 M-95 -60 L-94.2 -58.8 L-92.5 -57 L-90.5 -57.2 L-88 -56.3 L-85 -55.2 L-82.3 -55.1 L-82 -53 L-80.5 -51.3 L-79 -51.5 L-78.8 -52.5 L-79 -54 L-77 -55.5 L-76.5 -56.5 L-77 -58 L-78 -58.7 L-77.5 -60.5 M-59.3 -47.6 L-56 -47.6 L-55.5 -46.9 L-54 -47 L-53 -46.7 L-52.7 -47.5 L-53.5 -48.5 L-54 -49.5 L-55.5 -49.8 L-56 -51 L-55.5 -51.6 L-57 -51.4 L-57.5 -50.5 L-58.5 -48.5 L-59.3 -47.6 M-92 -46.7 L-89 -48 L-88 -48.7 L-86 -48.6 L-84.8 -47 L-84.5 -46.5 L-87 -46.5 L-90 -46.6 L-92 -46.7 M-87.5 -41.7 L-87.8 -43.5 L-88 -44.5 L-86.5 -45.8 L-85 -45.8 L-85.5 -44 L-86.3 -42.2 L-87.5 -41.7 M-84 -46 L-83.5 -45.2 L-82.5 -43 L-81.7 -44.5 L-80 -44.5 L-80.5 -45.9 L-84 -46 M-83.5 -41.7 L-81 -42.2 L-79 -42.8 L-80 -42.7 L-82.5 -42.2 L-83.5 -41.7 M-79.8 -43.3 L-76.2 -43.5 L-76.5 -44.2 L-79 -43.9 L-79.8 -43.3 M-85 -21.8 L-84 -22.7 L-82 -23.1 L-80 -23.1 L-77.5 -21.8 L-75.5 -20.7 L-74.2 -20.2 L-75 -19.9 L-77.5 -19.9 L-77.7 -20.7 L-79 -21.6 L-81 -21.7 L-82.5 -22.3 L-84 -21.8 L-85 -21.8 M-74.4 -18.4 L-72.7 -19.9 L-70 -19.7 L-68.4 -18.6 L-70 -18.2 L-71.5 -17.7 L-72.8 -18.1 L-74.4 -18.4 M-78.3 -18.4 L-76.2 -18 L-77 -17.7 L-78.3 -18.3 M-67.2 -18.5 L-65.6 -18.3 L-66 -18 L-67.2 -18 L-67.2 -18.5 M-155.8 -20.2 L-155 -19.7 L-155.7 -18.9 L-156 -19.7 L-155.8 -20.2 M-156.7 -21 L-156 -20.8 L-156.4 -20.6 L-156.7 -21 M-158.3 -21.6 L-157.7 -21.3 L-158.1 -21.3 L-158.3 -21.6 M-159.8 -22.2 L-159.3 -22.2 L-159.5 -21.9 L-159.8 -22.2 M-128.3 -50.8 L-125 -50 L-123.3 -48.4 L-124.7 -48.6 L-126.5 -49.5 L-128.3 -50.8 M-133 -54 L-131.7 -54 L-131 -52.2 L-132.5 -53 L-133 -54 M-61.3 51.3 L-59.5 51.3 L-58 51.6 L-58.5 52.2 L-60.5 52 L-61.3 51.3 M-38 54 L-36 54.2 L-36.5 54.7 L-38 54 M-166 -53.9 L-168.5 -53.2 L-170 -52.7 M-172.5 -52.3 L-174.5 -52.1 L-176.5 -51.8 L-178 -51.7 M178 -51.9 L176 -52.1 L173 -52.8 M32.3 -31.3 L31 -31.6 L30 -31.3 L29 -30.9 L27 -31.4 L25 -31.7 L23 -32.5 L21 -32.8 L20 -32 L20 -30.9 L19 -30.3 L17.5 -30.9 L15.5 -31.5 L15.2 -32.3 L13 -32.9 L11 -33.3 L10.2 -34.3 L11 -35.2 L10.5 -36.7 L10 -37.3 L8.5 -36.9 L6 -37 L4 -36.9 L2 -36.6 L0 -35.9 L-1.5 -35.2 L-2.5 -35.1 L-4.5 -35.2 L-5.9 -35.8 L-6.8 -34 L-8.5 -33.2 L-9.7 -31 L-9.8 -29.8 L-11 -28.5 L-13 -27.7 L-14.5 -26 L-16 -24 L-16.9 -21.5 L-17 -20.8 L-16.3 -19.5 L-16.5 -18 L-16.8 -16 L-17.2 -14.8 L-16.7 -13.5 L-16.7 -12.3 L-15.5 -11.5 L-14.5 -10.5 L-13.5 -9.5 L-13 -8.3 L-12 -7.4 L-11 -6.7 L-9.5 -5.3 L-7.5 -4.4 L-5 -5.1 L-3 -5 L-2 -4.8 L0 -5.7 L1.5 -6.2 L3 -6.4 L4.5 -6.3 L5.5 -5 L6.5 -4.3 L8 -4.5 L9 -4 L9.7 -3 L9.8 -1.5 L9.4 -0.5 L9.3 1 L10 2.5 L11.5 4 L12.3 5.5 L12.5 6.5 L13 8.5 L13.5 10.5 L13.8 11.5 L12.5 13.5 L12 15.5 L11.8 17.5 L12.5 19 L13.5 21 L14.5 23 L14.6 25 L15.3 27 L16.5 28.6 L17.4 30.5 L18.2 32 L18.4 34 L19.5 34.8 L20.5 34.5 L22 34 L24 34.1 L25.6 34 L27 33.5 L28.5 32.5 L30 31.2 L31 29.7 L32.4 28.5 L32.8 26.5 L33 25.5 L35 24.5 L35.5 23 L35.3 21.5 L34.7 20 L36 18.8 L37.5 17.5 L39 16.5 L40.5 15 L40.5 12.5 L40 10.5 L39.5 8.5 L39.3 6.5 L39 5 L40 3.5 L41 2 L42 1 L43.5 -1 L45 -2 L47 -4 L48.5 -6 L49.5 -8 L50.8 -10.5 L51.2 -11.8 L49.5 -11.3 L47.5 -11.2 L45.5 -10.7 L44 -10.4 L43.3 -11.5 L42.5 -13 L41 -14.5 L39.5 -15.5 L38.5 -17.5 L37.4 -19 L37.2 -21 L36.8 -22.3 L35.7 -23.8 L35 -25 L34.2 -26.5 L33.5 -27.5 L32.6 -29.5 L32.5 -30 L32.3 -31.3 M49.3 12 L50.2 14.5 L50.5 15.5 L49.8 17 L49.3 19 L48.5 21 L47.8 23 L47.1 24.9 L45.5 25.5 L44 25 L43.5 23.5 L43.3 22 L44.3 20 L44 18.5 L44.5 16.5 L46 15.8 L47.5 14.5 L48.5 13.3 L49.3 12 M21.5 -57.5 L21 -56.5 L21 -55.2 L19.5 -54.4 L18.5 -54.8 L16 -54.3 L14 -54 L12.5 -54.4 L11 -54 L10.5 -54.5 L10 -55.5 L10.9 -56.3 L10.3 -56.5 L10.5 -57.7 L8.6 -57.1 L8.1 -56.5 L8.2 -55.5 L8.8 -54.8 L8.5 -53.9 L7.5 -53.6 L6 -53.5 L4.8 -53 L4.2 -52 L3.5 -51.5 L2.5 -51.1 L1.5 -50.2 L0.2 -49.5 L-1.6 -49.6 L-1.5 -48.7 L-3 -48.8 L-4.7 -48.5 L-4.5 -47.9 L-2.2 -47.2 L-1.2 -46 L-1.3 -44.5 L-1.8 -43.4 L-3.5 -43.4 L-5.8 -43.6 L-8 -43.7 L-9.3 -43 L-8.9 -42.5 L-8.7 -41.5 L-9 -40 L-9.5 -38.8 L-8.8 -38.5 L-8.9 -37 L-7.5 -37.2 L-6.4 -36.8 L-5.6 -36 L-4.5 -36.7 L-2 -36.7 L-0.5 -37.6 L0 -38.8 L-0.3 -39.5 L0.9 -41 L3.2 -41.9 L3.1 -43 L4 -43.5 L5.5 -43.2 L7.5 -43.8 L8.8 -44.4 L10 -44 L10.5 -43 L11.2 -42.4 L12.5 -41.5 L14 -40.8 L15.6 -40 L16 -38.9 L15.7 -38 L16.1 -38 L17 -38.9 L17.2 -39.5 L16.5 -40 L17.5 -40.3 L18.5 -40.1 L18 -40.7 L16 -41.5 L15.5 -42 L14 -42.6 L13.5 -43.6 L12.3 -44.3 L12.4 -45.4 L13.7 -45.7 L13.6 -45.1 L14.5 -45.2 L15.2 -44.3 L16.5 -43.5 L18.5 -42.5 L19.5 -41.8 L19.5 -40.5 L20 -39.7 L21 -38.5 L21.7 -37 L22.5 -36.5 L23 -37.3 L23.2 -38.2 L24 -38 L22.8 -39.2 L22.6 -40.3 L23.5 -40 L24 -40.8 L26 -40.8 L26.2 -40.1 L26.8 -39 L27.2 -37.8 L27.5 -37 L28.5 -36.7 L30.5 -36.3 L32.5 -36.1 L34.5 -36.8 L36 -36.5 L35.8 -35.5 L35.9 -34.6 L35.2 -33 L34.6 -31.5 L34.2 -31.3 L32.3 -31.3 M32.5 -30 L33.5 -28.5 L34.3 -27.8 L34.9 -29.5 L35 -28 L36.5 -26 L37.5 -24.5 L39 -22 L39.5 -20.5 L40.8 -19 L42 -17 L42.7 -15.5 L43.3 -12.7 L44.5 -12.7 L45.5 -13.2 L48 -14 L50 -15 L52 -15.8 L53.5 -16.7 L55.3 -17.7 L56.5 -18.2 L57.5 -19 L58.5 -20.5 L59.8 -22.4 L58.5 -23.6 L57 -24 L56.3 -25.5 L56.4 -26.3 L55.5 -25.5 L54.5 -24.2 L53 -24.1 L51.6 -24.3 L51.5 -25.8 L50.8 -24.8 L50.2 -26 L49.5 -27 L48.5 -28.5 L48 -30 L49 -30.4 L50.2 -29.9 L50.8 -28.8 L51.5 -27.9 L53 -26.8 L54.5 -26.5 L56 -27 L57 -25.8 L58 -25.6 L60 -25.3 L61.5 -25.2 L63 -25.2 L64.5 -25.2 L66.5 -25.4 L67.3 -24.7 L68.5 -23.5 L69.5 -22.8 L69 -22.3 L70 -21 L71 -20.8 L72.5 -21.5 L72.8 -20 L72.9 -18.5 L73.4 -16.5 L74 -15 L74.8 -13 L75.4 -11.5 L76.3 -9.5 L77.5 -8.1 L78.2 -8.9 L79.1 -10 L79.8 -10.3 L79.9 -12 L80.3 -13.5 L80.1 -15.5 L81.3 -16.4 L82.3 -17 L84 -18.3 L85.5 -19.7 L87 -20.8 L87 -21.6 L88.2 -21.6 L89 -21.8 L90 -22 L91.5 -22.6 L92 -21.5 L92.3 -20.5 L93.5 -19.5 L94.3 -18 L94.5 -16.2 L95.3 -15.8 L96.5 -16.6 L97.6 -16.5 L97.8 -14.5 L98.5 -13 L98.7 -11 L98.5 -9.8 L98.3 -8.4 L98.7 -7.8 L100.3 -6.5 L100.4 -5.2 L101 -4 L101.3 -3 L102.5 -2 L103.5 -1.3 L104.3 -1.4 L103.5 -2.7 L103.4 -4.2 L102.5 -5.8 L101.5 -6.8 L100.5 -7.3 L100 -8.5 L99.3 -9.5 L99.3 -10.8 L99.9 -12.5 L100.1 -13.4 L101 -12.7 L102.3 -12.2 L103 -11 L104.5 -10.4 L105 -9 L105.2 -8.6 L106.5 -9.5 L107 -10.5 L108.8 -11.3 L109.3 -12.5 L109.2 -14 L108.5 -15.4 L107.5 -16.5 L106.5 -17.8 L105.7 -19 L106.6 -20.3 L107.8 -21.5 L108.6 -21.7 L109.8 -21.5 L110.2 -20.5 L111 -21.5 L112.5 -21.9 L114.2 -22.3 L116.5 -23 L117.8 -24.3 L119 -25.3 L119.7 -26.6 L120.3 -27.5 L121 -28.5 L122 -29.8 L121.5 -30.8 L121.8 -31.7 L120.8 -32.5 L120.5 -33.8 L119.3 -34.8 L119.5 -35.6 L120.7 -36.1 L122.5 -37 L121 -37.7 L119 -37.2 L118.8 -38 L117.7 -39 L119 -39.3 L121 -40.8 L122.2 -40.5 L121.4 -39 L122.3 -39.5 L124.2 -39.8 L125.3 -39.5 L125.3 -38 L126.5 -37.5 L126.4 -36 L126.3 -34.6 L127.5 -34.6 L129.3 -35.3 L129.5 -36.8 L128.7 -38.5 L127.5 -39.8 L128.8 -40.8 L129.7 -41 L130.7 -42.3 L132 -43.2 L133.5 -42.8 L135.5 -43.9 L137.5 -45.5 L138.5 -47.2 L140 -48.5 L140.5 -50 L140.6 -51.5 L141.4 -52.3 L141 -53.2 L139 -54 L137 -54 L135.5 -54.7 L137.5 -56.5 L139 -57.5 L141 -58.6 L143 -59.3 L146 -59.3 L148.5 -59.4 L151 -59.1 L152.5 -58.9 L154.5 -59.5 L156 -61 M155.5 -59 L156 -57.5 L155.7 -55 L156.7 -51 L158.5 -53 L160 -54.5 L161.8 -56 L163 -57.8 L164 -60 M142 -46 L143.5 -46.2 L143 -47.5 L143.2 -49.3 L144.5 -49 L143.2 -51.5 L143.2 -53.2 L142.5 -54.3 L142.2 -52.5 L141.7 -51.5 L142 -49 L141.9 -47.5 L142 -46 M11.8 -58.5 L12.8 -56.6 L12.6 -56 L13 -55.4 L14.3 -55.5 L14.7 -56.2 L16 -56.3 L16.5 -57.5 L16.8 -58.5 M8 -58.2 L7 -58 L6 -58.3 L5.5 -59 M21.5 -57.5 L23 -57 L24.3 -57.5 L24.5 -59 M-5.7 -50.1 L-3.5 -50.3 L-1 -50.7 L1.3 -51.1 L1.7 -52.6 L0.3 -53.4 L-0.3 -54 L-1.5 -55 L-2 -55.8 L-3 -56 L-2 -57.7 L-3.3 -58.6 L-5 -58.6 L-6.2 -57.5 L-5.5 -56.5 L-5.7 -55.5 L-4.9 -55 L-3 -54.9 L-3.3 -54.3 L-3 -53.5 L-4.6 -53.3 L-4.2 -52.8 L-5.3 -51.8 L-4.2 -51.6 L-3 -51.5 L-4.5 -51.2 L-5.7 -50.1 M-6 -52 L-6.3 -53.5 L-5.5 -54.5 L-6.5 -55.2 L-8 -55.2 L-8.5 -54.4 L-10 -54.2 L-9.8 -53.4 L-9.5 -52.5 L-10.3 -51.8 L-9.5 -51.5 L-8 -51.8 L-6.4 -52.2 L-6 -52 M29 -41.2 L31 -41.1 L33 -41.9 L35 -42 L36.5 -41.3 L38.5 -40.9 L40.5 -41 L41.5 -41.5 L41.7 -42.5 L40 -43.4 L38 -44.5 L37 -45.2 L36.5 -45.3 L35.5 -45.1 L33.5 -44.5 L32.5 -45.3 L33.5 -45.9 L31.5 -46.6 L30.5 -46.4 L29.7 -45.3 L28.7 -44.3 L28 -43 L28 -41.6 L29 -41.2 M35 -45.3 L37 -46.5 L39.2 -47.2 L38 -46 L37 -45.3 M47 -44.5 L47.5 -45.7 L49 -46.5 L51 -47 L53 -46.8 L53.2 -45.3 L51.5 -44.5 L51.3 -43.2 L52.6 -42 L52.8 -41 L53.8 -40.6 L53 -39.2 L53.9 -37.3 L52 -36.7 L50.5 -37 L49 -37.6 L48.9 -38.5 L49.3 -40 L50.3 -40.3 L49.5 -40.5 L48.6 -41.8 L47.5 -43 L47.5 -44.5 L47 -44.5 M58.5 -46 L61 -46.5 L61.5 -45 L60 -44.3 L58.5 -45 L58.5 -46 M12.5 -38.1 L15.6 -38.3 L15.1 -36.7 L12.4 -37.8 L12.5 -38.1 M8.4 -41 L9.7 -41 L9.6 -39.2 L8.5 -39 L8.4 -41 M8.6 -42.9 L9.5 -42.9 L9.3 -41.4 L8.7 -41.6 L8.6 -42.9 M23.5 -35.5 L26.3 -35.2 L24.5 -34.9 L23.5 -35.5 M32.3 -35 L34.6 -35.6 L33.8 -34.7 L32.3 -35 M79.8 -9.8 L80.3 -9.8 L81.9 -7.5 L81.5 -6.2 L80.2 -6 L79.8 -7.5 L79.8 -9.8 M121 -25.2 L122 -25 L121.5 -23.5 L120.8 -22 L120.1 -23 L120.2 -24.5 L121 -25.2 M108.6 -19.2 L110.5 -20.1 L111 -19.6 L109.5 -18.2 L108.7 -18.5 L108.6 -19.2 M130.9 -34 L132 -33.8 L133 -34.3 L135 -34.6 L135.5 -33.5 L136.8 -34.3 L138.5 -34.6 L139.8 -35 L140.8 -35.7 L140.9 -37 L141 -38.3 L141.6 -39.5 L141.5 -40.5 L141.2 -41.3 L140.3 -41 L140 -40 L139.9 -39 L139.5 -38.2 L138.5 -37.3 L137 -36.8 L136 -35.7 L134 -35.5 L133 -35.5 L131.5 -34.6 L130.9 -34 M130 -33.8 L131 -33.9 L131.6 -33 L131.3 -31.4 L130.5 -31 L130.2 -32 L129.6 -33.2 L130 -33.8 M132.5 -33.8 L134.5 -34.2 L134.6 -33.5 L133 -32.8 L132.3 -33.3 L132.5 -33.8 M140 -41.5 L141 -41.8 L143.3 -42 L145.5 -43.3 L144.5 -44 L142 -45.4 L141.6 -44.7 L141.3 -43.3 L140.3 -43.2 L140 -42.3 L140 -41.5 M120.6 -18.5 L122.2 -18.5 L122.3 -17 L121.5 -15.8 L122 -14.3 L124 -13 L123.5 -12.8 L122.5 -13.8 L121 -13.8 L120.6 -14.5 L120 -16 L120.4 -17.5 L120.6 -18.5 M122 -7 L124 -8.2 L125.5 -9.7 L126.5 -8 L126.2 -6.3 L125.2 -5.6 L124 -6.3 L122 -7 M124.3 -12.5 L125.7 -12 L125.5 -10.5 L124.8 -10 L124.3 -11 L124.3 -12.5 M122 -11.8 L123.2 -11 L123.3 -10 L122.5 -10.5 L122 -11.8 M117.2 -8.3 L119.8 -10.9 L119.5 -11.3 L117.5 -8.8 L117.2 -8.3 M109 -1.5 L109.6 -2 L111 -2.9 L113 -3.2 L114.5 -4.6 L116 -6 L117 -7 L117.6 -6 L119.2 -5.2 L118 -4.5 L117.7 -3.5 L118 -2 L119 -1 L117.8 -0.5 L117.5 0.8 L116.6 1.5 L116.2 3.5 L114.5 3.9 L113 3.1 L111.5 3 L110.2 2.9 L110 1.5 L109 -0 L109 -1.5 M95.3 -5.6 L97.5 -5.2 L98.5 -4 L100 -2.3 L101.5 -1.7 L103.7 -0 L104.5 1.5 L106 3 L105.8 5.8 L104.5 5.7 L102.3 4 L101 2.5 L100.3 1 L99 -1.5 L97.5 -2.5 L96 -4 L95.3 -5.6 M105.2 6.8 L106.5 6 L108.3 6.3 L110.5 6.5 L112.5 6.9 L114.4 7.7 L114.5 8.7 L112 8.3 L110 8.1 L108 7.8 L106 7.2 L105.2 6.8 M115 8.3 L116 8.5 L117 8.4 L119 8.5 L121 8.5 L122.8 8.2 L122.5 8.8 L120 8.9 L118 8.9 L116 8.9 L115 8.3 M123.5 10.4 L125 9.2 L127 8.4 L125.5 9.5 L124 10.3 L123.5 10.4 M119.5 5.5 L119.3 3 L118.8 2.5 L119.8 -0 L120.5 -1 L122 -1 L124.5 -1.5 L125.2 -1.5 L124 -0.5 L121 -0.5 L120.3 0.5 L121.5 1 L123.3 0.9 L121.5 2 L122.3 4 L121 3 L120.4 5.5 L119.5 5.5 M127.5 -2 L128.5 -1.5 L128 -0.5 L128.7 0.5 L127.8 0.7 L127.5 -2 M128 3.2 L130.8 3.4 L130 3.9 L128.2 3.6 L128 3.2 M131 1 L132.5 0.4 L134 0.9 L135 3.3 L137.5 1.5 L139 2 L141 2.6 L144 3.8 L145.8 5.4 L147.5 6.1 L148 8 L149.5 9.5 L150.5 10.5 L149 10.3 L147 10 L146 8 L144 7.7 L143 9 L141 9.2 L139 8.1 L138 8.3 L137.7 7 L138.5 6.8 L137.8 5.4 L136 4.5 L134.3 4 L133.3 4 L132.5 3 L132 2.8 L131 1.5 L131 1 M148.5 5.5 L150 5.5 L151.5 4.8 L152 5.5 L150.5 6.3 L148.5 5.5 M113.5 22 L114 21.8 L116 20.7 L118.5 20.3 L121 19.5 L122.3 18 L122.5 17 L123.5 16.3 L124.8 15.5 L126.5 14 L128 14.9 L129.5 15 L130 13 L131 12.2 L132.5 12.2 L132.8 11.4 L134 12 L135.8 12.2 L136.8 12.3 L136 13.5 L135.5 15 L137 16 L139.5 17.5 L140.7 17.5 L141.5 16 L141.6 13 L142.5 10.8 L143.5 13.5 L143.7 14.5 L145.3 15 L145.5 16.5 L146.3 19 L148.5 20.3 L149.5 22.3 L150.8 22.7 L151.5 24 L153 25.5 L153.5 28 L153.2 30 L152.5 32 L151.3 33.7 L150.3 35.5 L150 37.5 L148 37.8 L146.3 39 L144.8 38.3 L143.5 38.8 L141.5 38.3 L140 37.5 L139.7 36.5 L138.5 35.6 L138 34.5 L137.7 35.5 L136.8 35.8 L137.5 34 L137.9 33 L135.9 34.8 L135 33.5 L134 32.5 L132 32 L129.5 31.6 L127 32.3 L124 33 L123.5 33.9 L121 33.8 L119 34.5 L117.9 35.1 L116 34.9 L115 34.3 L115.7 33.3 L115.7 31.8 L115 30 L114.9 28.2 L114 26.5 L113.5 25.5 L114 24.5 L113.5 22 M144.6 40.7 L146.5 41.1 L148.3 40.9 L148.3 42.2 L147.8 43.2 L146.9 43.6 L146 43.5 L145.2 42.2 L144.6 40.7 M172.7 34.5 L174.5 36 L175.5 37 L176 37.6 L178.5 37.7 L178 39 L177 39.3 L176.8 40.2 L175.3 41.6 L174.6 41.2 L175 40 L173.8 39.3 L174.6 38.6 L174.5 37 L173 35.2 L172.7 34.5 M172.7 40.5 L174.3 41.7 L173.2 43 L172.8 43.7 L171.3 44.3 L170.5 45.9 L169 46.6 L166.5 46 L166.8 45.2 L168.3 44 L170.8 42.5 L172 41 L172.7 40.5 M68.8 49 L70.5 49.2 L69.8 49.7 L68.8 49.5 L68.8 49 M145.5 -43.5 L147 -44.5 L148.5 -45.3 L150 -46 L151.5 -47 L153 -48 L154.5 -49 L156 -50.3 M177.3 17.5 L178.5 17.3 L178.6 18.1 L177.4 18.1 L177.3 17.5 M164 20.2 L165.5 21 L167 22.3 L166.5 22.3 L164.5 21 L164 20.2 M156.5 7 L158.5 8 L160 9.5 L161.5 10 L160.5 9 L158 7.2 L156.5 7 M167 15 L167.3 16 L168.2 16.7"/><path d="M-123 -49 L-95.2 -49 L-95.2 -49.4 L-94.8 -49.3 L-93 -48.6 L-90 -48.1 L-89.5 -48 L-86 -47.8 L-84.8 -46.8 L-84.2 -46.5 L-83.5 -46 L-82.5 -45.3 L-82.4 -43 L-83.1 -42.1 L-82.5 -41.7 L-79 -42.5 L-79 -43.3 L-76.5 -44 L-74.7 -45 L-71.5 -45 L-70.8 -45.4 L-70 -46.7 L-69.2 -47.4 L-68 -47.3 L-67.8 -45.7 L-67 -45 M-117.1 -32.5 L-114.7 -32.7 L-111 -31.3 L-108.2 -31.3 L-108.2 -31.8 L-106.5 -31.8 L-104.5 -29.6 L-103 -29 L-101.5 -29.8 L-99.5 -27.5 L-97.2 -25.9 M-92.2 -14.6 L-92.1 -15.1 L-91.5 -16 L-90.5 -16.1 L-91.4 -17.3 L-90.9 -17.8 L-89.1 -17.8 L-88.3 -18.5 M-89.2 -17.8 L-89.2 -15.9 L-88.2 -15.7 M-89.2 -15.9 L-89.3 -14.4 L-88 -13.9 L-87.8 -13.4 M-87.5 -13 L-86 -14 L-85 -14.8 L-83.2 -15 M-85.7 -11.1 L-84 -10.8 L-83.6 -10.9 M-82.9 -8.1 L-82.6 -9.6 M-77.4 -8.7 L-77.2 -7.9 L-77.9 -7.2 M-71.7 -19.7 L-71.7 -18 M-72 -11.6 L-72.8 -9.3 L-72.4 -7.4 L-70 -7 L-67.5 -6.2 L-67.8 -4.5 L-67.3 -2.2 L-66.9 -1.2 M-59.9 -8.4 L-60.6 -7.4 L-61.4 -5.9 L-60.7 -5.2 M-60.7 -5.2 L-62.8 -4 L-64.8 -4.3 L-64 -2 L-65.5 -0.9 L-66.9 -1.2 M-57 -6 L-58 -4 L-57 -2 M-54 -5.7 L-54.5 -2.3 M-51.6 -4.2 L-52.5 -2.3 L-54.5 -2.3 L-56 -1.9 L-58 -1.5 L-59.8 -1.2 L-59.5 -3 L-60.1 -4.5 L-60.7 -5.2 M-66.9 -1.2 L-69.5 -1 L-69.8 1 L-69.9 4.2 M-79 -1.2 L-77.5 -0.8 L-75.5 0.1 M-75.5 0.1 L-73.6 1.3 L-70.1 2.7 L-69.9 4.2 M-80.3 3.4 L-79.5 4.5 L-78.3 3.4 L-77 2.6 L-75.5 0.1 M-69.9 4.2 L-73.7 7.5 L-72.4 10 L-70.5 11 M-69.6 11 L-68.7 12.5 L-69.2 14.5 L-69.3 16 L-69.5 17.5 M-70.4 18.4 L-69.5 17.5 M-69.6 11 L-68.6 11.1 L-65.4 9.7 L-65.3 11.5 L-63.5 12.5 L-61.5 13.5 L-60.5 13.8 L-60.3 15.1 L-58.3 16.3 L-58.4 17.8 L-57.6 18.2 L-58.2 19.8 M-69.5 17.5 L-68.5 18.9 L-68.6 20.3 L-67.9 21.8 L-67.2 22.8 M-67.2 22.8 L-65.8 22.1 L-64.3 22.8 L-62.7 22.2 M-62.7 22.2 L-61.8 19.6 L-59.1 19.3 L-58.2 19.8 M-58.2 19.8 L-57.8 22.1 L-55.7 22.2 L-55.4 23.9 L-54.3 24.1 L-54.6 25.6 M-62.7 22.2 L-61 23.8 L-58.6 25.5 L-58.6 27.3 L-56 27.4 L-54.6 25.6 M-54.6 25.6 L-53.8 27.1 L-55.8 28.2 L-57.6 30.2 M-57.6 30.2 L-56 31 L-53.4 33.7 M-57.6 30.2 L-58.2 32.5 L-58.4 34 M-67.2 22.8 L-68.2 24.5 L-68.6 27 L-69.8 30 L-70 33 L-70.5 36 L-71 39 L-71.7 42 L-71.8 44.5 L-72.3 47.5 L-73.2 49.5 L-72.5 51 L-72 52 L-68.5 52.3 M-68.6 52.6 L-68.6 54.9 M-1.7 -35 L-1.8 -32.2 L-3.6 -31.7 L-8.7 -28.7 L-8.7 -27.7 M-13.2 -27.7 L-8.7 -27.7 M-8.7 -27.7 L-8.7 -26 L-12 -26 L-12 -23.5 L-13 -21.3 L-17 -21.3 M-8.7 -27.3 L-4.8 -25 L1.2 -21 L4 -19.2 L5.8 -19.4 L7.5 -20.8 L11.9 -23.5 M8.3 -36.9 L8.3 -34.6 L7.6 -33.3 L9.5 -30.3 M9.5 -30.3 L9.9 -27 L10 -24.5 L11.9 -23.5 M11.5 -33.2 L10 -31.5 L9.5 -30.3 M25.2 -31.6 L25 -22 M25 -22 L36.9 -22 M11.9 -23.5 L15 -23 L24 -19.5 L24 -20 L25 -20 L25 -22 M-4.8 -25 L-6 -21 L-5.5 -16.5 L-11.5 -15.5 L-12.2 -14.7 M-16.5 -16.2 L-14 -16.6 L-12.2 -14.7 M-12.2 -14.7 L-11.4 -12.4 M-16.7 -12.4 L-13.7 -12.7 L-11.4 -12.4 M-13.2 -9.1 L-12 -10 L-10.5 -9.3 L-10.6 -8.3 L-11.4 -6.9 M-11.4 -12.4 L-9.3 -12.4 L-8.4 -11.3 L-8 -10.2 M-7.5 -4.4 L-8.5 -6.5 L-8 -8 L-8 -10.2 M-3 -5 L-2.8 -7.9 L-2.7 -9.5 L-2.8 -11 M1 -6 L0.3 -8 L0.5 -11 M2.7 -6.4 L2.8 -9.1 L3.6 -11.7 M-5.5 -10.4 L-5.4 -11.5 L-4.4 -12.5 L-2 -14.3 L0.2 -14.9 M-5.5 -10.4 L-2.8 -11 L0.5 -11 L2.2 -12 M4 -19.2 L3.5 -15.3 L1 -15 L0.2 -14.9 M15 -23 L16 -20.5 L15.5 -16.9 L14 -13.5 M2.2 -12 L3.6 -11.7 L4.1 -13.5 L7 -13.2 L10 -13.3 L13.6 -13.5 M24 -19.5 L23.8 -15.5 L22.5 -14 L22 -12.5 L22.8 -11 L23.5 -9 M15.5 -7.5 L17 -7.8 L19 -9 L21 -9.8 L22.8 -11 M8.5 -4.8 L9.8 -6.6 L11.5 -6.9 L12.8 -8.8 L13.5 -10.5 L14.5 -12.5 L14 -13.5 M14 -13.5 L14.5 -12 L15 -10 L14 -9.5 L15.5 -7.5 M15.5 -7.5 L14.5 -5.5 L16 -2.2 M9.8 -2.3 L11.3 -2.2 L13 -2.2 L16 -2.2 M11.1 3.9 L11.9 2.5 L13.5 2.4 L14.5 1.5 L14.2 -1.5 L13.3 -2.2 M12.2 5 L13.2 4.9 L15.5 4.2 L16.2 2 L17.8 -0 L18.1 -2.5 L18.6 -3.6 M18.6 -3.6 L20.5 -4.4 L22.5 -4.2 L24.5 -5 L27.4 -5.1 M23.5 -9 L24.5 -8.7 L26.5 -9.5 L27.8 -9.6 L30 -10 L32 -12 L33 -12.2 L34 -10 M34 -10 L34.5 -8.5 L33.5 -8.2 L35 -5 M27.4 -5.1 L30 -3.6 L31 -3.8 L33.5 -3.8 L35 -5 M36.5 -14.3 L38 -14.5 L40 -14.5 L41.5 -13.5 L42.5 -12.5 M36.9 -22 L37.5 -18 L36.5 -14.3 M36.5 -14.3 L36 -12.5 L35 -11 L34 -10 M43.3 -11.5 L44 -9 L48 -8 L45 -5 L41.9 -4 M35 -5 L36.5 -4.5 L39 -3.5 L41 -4 L41.9 -4 M41 -4 L41 1.7 M39.2 4.7 L37.5 3.5 L33.9 1 M33.9 1 L30.5 1 L29.6 1.4 L30 -1 L31 -2.5 L31 -3.8 L33.5 -3.8 L34.5 -1.5 L33.9 1 M29.6 1.4 L29 2.5 L29.3 4.5 L29.5 6.5 L30.5 8.5 L28.5 8.8 L28.8 10.5 L28.5 12 L29.5 13 L27 12 L26 11 L24 11 L22 9.5 L21.8 7.3 L19.5 7 L17.6 8 L16.5 5.9 L12.2 6 M40.4 10.5 L37.5 11.5 L34.6 11.5 M30.5 8.5 L32.5 9.5 L33.5 10 L34.6 11.5 L35 14 L33 14 L30.5 15.5 M11.8 17.3 L14 17.4 L20.8 18 L23.3 17.6 M22 13 L24 13 L24 11 M23.3 17.6 L25.5 17.8 L27 17 L28.5 16 L30.5 15.5 L32.9 16.5 M32.9 16.5 L32.9 18.5 L32.5 21 L31.3 22.4 M31.3 22.4 L32 25.5 L32.2 26.8 M31.3 22.4 L29 22.2 L27 23.5 L25.5 25.5 L23 25.3 L20 24.8 M20 24.8 L20 22 L21 22 L21 18.3 L23.3 17.6 L25.3 17.8 M16.5 28.6 L20 28.5 L20 24.8 M27 29.6 L28.5 28.7 L29.4 29.5 L28.5 30.6 L27 29.6 M33 9.5 L34 12 L35 14 L35.5 16 M-1.8 -43.4 L0 -42.7 L1.5 -42.5 L3.1 -42.4 M-8.8 -42 L-6.5 -41.8 L-6.9 -41 L-7 -39.7 L-7.5 -38.5 L-7.4 -37.2 M2.5 -51.1 L4 -50.3 L5.8 -49.5 L6.8 -49.2 L8.2 -49 L7.6 -47.6 M4.2 -52 L6 -51.8 L6.2 -50.5 L6.1 -49.5 M8.6 -54.9 L9.5 -54.8 L10 -54.6 M6 -46.2 L7 -45.9 L7.7 -45.8 L7 -44.2 L7.5 -43.8 M7.6 -47.6 L9.5 -47.5 L10.5 -46.9 L12.2 -47.1 L13 -47.5 L13 -48.7 L15 -49 L17 -48.5 L17 -47.7 L16.5 -46.5 M14.2 -53.9 L14.6 -52 L15 -51 L13 -50.3 L12.2 -50.3 M19.5 -54.4 L23 -54.4 L23.5 -53.5 L23.5 -52 L24 -50.5 L23 -49 L22.5 -49.1 L19 -49.4 L17 -50.3 L15 -51 M21 -56.5 L23 -56.4 L25 -56.2 L27.5 -55.8 L28 -56.5 M23.5 -53.5 L26 -54 L27 -55.8 L30 -55.8 L31.5 -53.5 L30.5 -51.5 L25 -51.8 L23.5 -52 M22.2 -48.4 L22.8 -49 L24 -50.5 L25 -51.8 L30.5 -51.5 L33 -52.3 L35 -51 L38 -49.8 L40 -49.5 L38.2 -47.5 M20.3 -46.1 L22.5 -48 L24.8 -47.8 L26.5 -48.3 L28.2 -47.9 L28.5 -45.5 L29.7 -45.3 M26.5 -48.3 L28.2 -47.9 L30 -46.4 M16.1 -46.8 L17 -48 L18.8 -47.8 L20.5 -48.4 L22.2 -48.4 L22.8 -47.8 L21 -46.2 L19 -45.9 L17.3 -45.9 L16.1 -46.5 M13.6 -45.5 L15.5 -45.8 L17 -45.2 L19 -44.9 L19.5 -43 L19.3 -42.2 L20.5 -41 L21 -40.8 L22.5 -41.1 L23 -41.4 L26 -41.8 L28 -42 L28.6 -43.7 L27 -44 L25 -43.7 L22.5 -44.2 L21.4 -45 L20.3 -46.1 M26 -40.8 L26.3 -41.7 L28 -42 M19.5 -43 L21 -43 L22.5 -42.4 L22.5 -44.2 M47.5 -45.7 L47.3 -47 L49.5 -48.5 L48 -49.5 L47 -50.5 L50 -51.5 L52 -51.6 L55 -50.8 L57 -51 L60 -50.8 L61 -52.5 L60 -54.5 L65 -54.8 L69 -55.3 L71 -54 L73 -53.5 L76 -54 L77.5 -53 L80 -50.8 L83 -51 L85 -49.5 L87.3 -49.1 M87.3 -49.1 L85 -47 L83 -47 L82.5 -45.5 L80 -45 L80.3 -43 L80.2 -42.2 M52.8 -41.8 L56 -41.3 L58 -42.5 L60 -42.2 L61 -41 L62 -42.5 L66 -42.9 L68.5 -40.6 L69.2 -41.5 L71 -42.5 L73.5 -42.5 L75 -42.8 L79 -42.8 L80.2 -42.2 M53 -41 L54 -42.2 L56 -41.3 L58 -42.5 L60 -41.5 L61.5 -40 L62.5 -39.5 L64.5 -38 L66.5 -37.4 M53.9 -37.3 L55 -38 L57 -38.2 L59 -37.3 L60.5 -36.5 L61.2 -35.6 M61.2 -35.6 L62 -35.3 L64 -36 L66.5 -37.4 L68 -37 L70 -37.5 L71.5 -37 L74.5 -37 L71.5 -36.5 L71 -34.5 L69.5 -33.8 L70 -32.5 L69.5 -31.5 L67 -31.3 L66.5 -30 L64 -29.5 L61.5 -29.8 L61 -31.5 L60.8 -33.5 L61.2 -35.6 M68.5 -40.6 L70 -40 L71 -40.2 L73 -39.5 L74.5 -40 L75 -39.5 L73.8 -38.5 L74.5 -37 M61.5 -29.8 L62.5 -29.4 L63.3 -28.1 L61.8 -26.8 L61.6 -25.2 M68.2 -23.7 L69.5 -24.3 L71 -24.4 L70.7 -25.7 L70 -27.7 L71.5 -28 L72.8 -29.9 L74.5 -31 L75 -32.5 L74.5 -34.5 L77 -35.5 M74.5 -37 L75 -38.5 L73.8 -39.5 L74.5 -40.3 L76 -40.4 L78 -41.3 L80.2 -42.2 M77 -35.5 L78 -35.5 L79.5 -34 L78.8 -32.5 L79 -31.2 L81 -30.2 L82 -30.3 L84 -29 L86 -27.9 L88 -27.9 L88.8 -27.3 L89.8 -28.2 L92 -27.8 L94 -29 L96 -29.4 L97.3 -28.3 L98.5 -27.2 L98.5 -25.2 L97.6 -23.9 L99 -22.1 L100 -21.5 L101.7 -22.4 L102.5 -22.8 L105.3 -23.3 L106.7 -22.8 L108 -21.6 M80.1 -28.8 L82 -27.6 L84 -27.4 L86 -26.6 L88.1 -26.5 M88.8 -27.3 L92 -26.8 M88.1 -26.5 L88.2 -24.5 L88.8 -22.2 L89.5 -25.3 L92 -25.1 L92.5 -24 L92.3 -21.5 M97.3 -28.3 L95.5 -27 L95 -25.5 L94.2 -23.9 L93.3 -23 L93.1 -22.1 L92.3 -21.5 M100 -21.5 L98.5 -19.7 L97.8 -18.5 L98.5 -16.5 L98.5 -14.5 L99.2 -12 L98.7 -10.5 M100 -21.5 L101 -21.5 L100.5 -20.4 L101.3 -19.5 L101 -17.5 L102.5 -18 L104.8 -17.4 L105.5 -14.3 M102.2 -22.4 L103.5 -22.6 L104 -21 L104.5 -19.8 L105.3 -18.8 L106 -17.5 L107.5 -16 L107.6 -14.5 L107.5 -13.5 M102.3 -12.2 L102.8 -13.8 L104.8 -14.3 L105.5 -14.3 L107.5 -13.5 L106.8 -12 L105.9 -11 L104.5 -10.5 M100.3 -6.5 L101 -6 L102 -6.1 M87.3 -49.1 L88.5 -48.3 L91 -46.5 L90.5 -45 L95 -44.2 L96.5 -42.8 L100 -42.6 L105 -41.6 L108 -42.4 L111 -43.3 L112 -45 L114 -44.8 L116.5 -46.3 L118.5 -46.7 L120 -46.6 L119.8 -47.6 L118 -48 L116.2 -47.8 L117.7 -49.5 L120 -52.5 L123 -53.5 L126 -52.9 L127.5 -49.7 L131 -47.8 L134.7 -48.3 L133.2 -45.3 L131.1 -44.9 L130.5 -42.5 M87.3 -49.1 L90 -50.5 L92 -50.6 L95 -50 L98.5 -52 L102 -51.5 L103 -50.3 L107 -50.2 L110 -49.3 L114 -50 L116.2 -49.8 L117.7 -49.5 M124.2 -39.8 L125.5 -40.6 L127 -41.5 L128.3 -42 L129.7 -42.5 L130.7 -42.3 M126.2 -37.8 L127 -38.1 L128.3 -38.6 M48 -30 L48.5 -31 L47.7 -31.4 L47.5 -33 L46 -33.8 L45.5 -35.2 L46 -35.9 L45 -37.2 L44.5 -38.3 L44.3 -39.4 M48 -30 L47 -29.1 L46.5 -29.1 L44.7 -29.2 L42 -31.1 L39 -32.2 M39 -32.2 L41 -34.5 L41.3 -36.5 L42.4 -37.1 M35.9 -36 L36.7 -36.8 L38 -36.8 L40 -37.1 L42.4 -37.1 L44.3 -37.2 L44.8 -39.7 M35.9 -34.6 L36.4 -34.6 L36.8 -33.5 L35.8 -33.3 L35.6 -32.7 L36.8 -32.3 L39 -32.2 L37 -31.5 L38 -30.5 L37.6 -30.4 L36.1 -29.5 L35 -29.5 M34.2 -31.3 L34.9 -29.5 L35.5 -31.5 L35.6 -32.7 M42.7 -16.4 L44 -17.4 L47 -17 L48.8 -18.2 L52 -19 L53.1 -16.7 M52 -19 L55 -20 L55.7 -22 L56 -24 M51.6 -24.3 L52 -23 L55.2 -22.7 L55.7 -22 M41.5 -41.5 L42.5 -41.5 L43.5 -41.1 L44.8 -39.7 M40 -43.4 L42 -43.2 L44 -42.7 L46 -41.8 L47 -41.3 L48.6 -41.8 M41.5 -41.5 L43.5 -41.1 L45 -41.3 L46.5 -41 L46 -41.8 M43.5 -41.1 L43.5 -40 L44.8 -39.7 L46.5 -38.9 L48 -38.5 L48.9 -38.5 M44.3 -39.4 L44.8 -39.7 L46.5 -38.9 L48 -38.5 L48.9 -38.5"/></g></svg>
<g stroke="#000" stroke-width="2.1" stroke-dasharray="0.01 4.1" stroke-linecap="round" fill="none"><line x1="87.05" y1="37.00" x2="87.05" y2="189.00"/>
<line x1="152.80" y1="37.00" x2="152.80" y2="189.00"/>
<line x1="218.55" y1="37.00" x2="218.55" y2="189.00"/>
<line x1="284.30" y1="37.00" x2="284.30" y2="189.00"/>
<line x1="350.05" y1="37.00" x2="350.05" y2="189.00"/>
<line x1="415.80" y1="37.00" x2="415.80" y2="189.00"/>
<line x1="481.55" y1="37.00" x2="481.55" y2="189.00"/>
<line x1="50.50" y1="46.91" x2="518.50" y2="46.91"/>
<line x1="50.50" y1="79.96" x2="518.50" y2="79.96"/>
<line x1="50.50" y1="113.00" x2="518.50" y2="113.00"/>
<line x1="50.50" y1="146.04" x2="518.50" y2="146.04"/>
<line x1="50.50" y1="179.09" x2="518.50" y2="179.09"/></g>
<rect x="50.50" y="37.00" width="468.00" height="152.00" fill="none" stroke="#000" stroke-width="1.3"/>
<text x="45.30" y="52.01" font-size="17.20" text-anchor="end" transform="translate(45.30 0) scale(1.0550 1) translate(-45.30 0)">50°N</text>
<text x="45.30" y="85.06" font-size="17.20" text-anchor="end" transform="translate(45.30 0) scale(1.0550 1) translate(-45.30 0)">25°N</text>
<text x="45.30" y="118.10" font-size="17.20" text-anchor="end" transform="translate(45.30 0) scale(1.0550 1) translate(-45.30 0)">0°</text>
<text x="45.30" y="151.14" font-size="17.20" text-anchor="end" transform="translate(45.30 0) scale(1.0550 1) translate(-45.30 0)">25°S</text>
<text x="45.30" y="184.19" font-size="17.20" text-anchor="end" transform="translate(45.30 0) scale(1.0550 1) translate(-45.30 0)">50°S</text>
<g shape-rendering="crispEdges" filter="url(#soft)"><rect x="50.50" y="225.50" width="13.84" height="6.91" fill="#000000"/>
<rect x="64.04" y="225.50" width="6.87" height="6.91" fill="#141444"/>
<rect x="70.61" y="225.50" width="6.88" height="6.91" fill="#292684"/>
<rect x="77.19" y="225.50" width="6.87" height="6.91" fill="#141444"/>
<rect x="83.76" y="225.50" width="13.45" height="6.91" fill="#3d26a6"/>
<rect x="96.91" y="225.50" width="6.87" height="6.91" fill="#141444"/>
<rect x="103.49" y="225.50" width="13.45" height="6.91" fill="#000000"/>
<rect x="116.64" y="225.50" width="6.87" height="6.91" fill="#802f95"/>
<rect x="123.21" y="225.50" width="6.88" height="6.91" fill="#e6b716"/>
<rect x="129.79" y="225.50" width="6.87" height="6.91" fill="#141444"/>
<rect x="136.36" y="225.50" width="6.88" height="6.91" fill="#292684"/>
<rect x="142.94" y="225.50" width="13.45" height="6.91" fill="#000000"/>
<rect x="156.09" y="225.50" width="59.48" height="6.91" fill="#141444"/>
<rect x="215.26" y="225.50" width="6.87" height="6.91" fill="#5728b7"/>
<rect x="221.84" y="225.50" width="6.88" height="6.91" fill="#ad366e"/>
<rect x="228.41" y="225.50" width="6.87" height="6.91" fill="#3d26a6"/>
<rect x="234.99" y="225.50" width="6.87" height="6.91" fill="#eb7308"/>
<rect x="241.56" y="225.50" width="13.45" height="6.91" fill="#5728b7"/>
<rect x="254.71" y="225.50" width="6.88" height="6.91" fill="#292684"/>
<rect x="261.29" y="225.50" width="6.87" height="6.91" fill="#3d26a6"/>
<rect x="267.86" y="225.50" width="20.03" height="6.91" fill="#141444"/>
<rect x="287.59" y="225.50" width="6.87" height="6.91" fill="#3d26a6"/>
<rect x="294.16" y="225.50" width="6.87" height="6.91" fill="#141444"/>
<rect x="300.74" y="225.50" width="20.03" height="6.91" fill="#5728b7"/>
<rect x="320.46" y="225.50" width="6.87" height="6.91" fill="#3d26a6"/>
<rect x="327.04" y="225.50" width="13.45" height="6.91" fill="#5728b7"/>
<rect x="340.19" y="225.50" width="13.45" height="6.91" fill="#141444"/>
<rect x="353.34" y="225.50" width="6.88" height="6.91" fill="#3d26a6"/>
<rect x="359.91" y="225.50" width="6.87" height="6.91" fill="#5728b7"/>
<rect x="366.49" y="225.50" width="13.45" height="6.91" fill="#3d26a6"/>
<rect x="379.64" y="225.50" width="13.45" height="6.91" fill="#5728b7"/>
<rect x="392.79" y="225.50" width="6.87" height="6.91" fill="#141444"/>
<rect x="399.36" y="225.50" width="6.87" height="6.91" fill="#3d26a6"/>
<rect x="405.94" y="225.50" width="13.45" height="6.91" fill="#5728b7"/>
<rect x="419.09" y="225.50" width="6.88" height="6.91" fill="#141444"/>
<rect x="425.66" y="225.50" width="6.87" height="6.91" fill="#3d26a6"/>
<rect x="432.24" y="225.50" width="6.87" height="6.91" fill="#141444"/>
<rect x="438.81" y="225.50" width="20.03" height="6.91" fill="#3d26a6"/>
<rect x="458.54" y="225.50" width="6.87" height="6.91" fill="#141444"/>
<rect x="465.11" y="225.50" width="6.87" height="6.91" fill="#292684"/>
<rect x="471.69" y="225.50" width="6.88" height="6.91" fill="#141444"/>
<rect x="478.26" y="225.50" width="33.17" height="6.91" fill="#000000"/>
<rect x="511.14" y="225.50" width="7.66" height="6.91" fill="#3d26a6"/>
<rect x="50.50" y="232.11" width="7.26" height="6.91" fill="#141444"/>
<rect x="57.46" y="232.11" width="6.87" height="6.91" fill="#3d26a6"/>
<rect x="64.04" y="232.11" width="13.45" height="6.91" fill="#000000"/>
<rect x="77.19" y="232.11" width="6.87" height="6.91" fill="#141444"/>
<rect x="83.76" y="232.11" width="6.87" height="6.91" fill="#3d26a6"/>
<rect x="90.34" y="232.11" width="6.88" height="6.91" fill="#141444"/>
<rect x="96.91" y="232.11" width="6.87" height="6.91" fill="#000000"/>
<rect x="103.49" y="232.11" width="13.45" height="6.91" fill="#3d26a6"/>
<rect x="116.64" y="232.11" width="6.87" height="6.91" fill="#141444"/>
<rect x="123.21" y="232.11" width="6.88" height="6.91" fill="#802f95"/>
<rect x="129.79" y="232.11" width="13.45" height="6.91" fill="#3d26a6"/>
<rect x="142.94" y="232.11" width="6.87" height="6.91" fill="#141444"/>
<rect x="149.51" y="232.11" width="39.75" height="6.91" fill="#3d26a6"/>
<rect x="188.96" y="232.11" width="6.87" height="6.91" fill="#292684"/>
<rect x="195.54" y="232.11" width="26.60" height="6.91" fill="#141444"/>
<rect x="221.84" y="232.11" width="13.45" height="6.91" fill="#3d26a6"/>
<rect x="234.99" y="232.11" width="13.45" height="6.91" fill="#5728b7"/>
<rect x="248.14" y="232.11" width="6.87" height="6.91" fill="#3d26a6"/>
<rect x="254.71" y="232.11" width="6.88" height="6.91" fill="#e43c3e"/>
<rect x="261.29" y="232.11" width="6.87" height="6.91" fill="#ad366e"/>
<rect x="267.86" y="232.11" width="6.87" height="6.91" fill="#3d26a6"/>
<rect x="274.44" y="232.11" width="20.03" height="6.91" fill="#141444"/>
<rect x="294.16" y="232.11" width="6.87" height="6.91" fill="#eb7308"/>
<rect x="300.74" y="232.11" width="6.87" height="6.91" fill="#e43c3e"/>
<rect x="307.31" y="232.11" width="6.87" height="6.91" fill="#141444"/>
<rect x="313.89" y="232.11" width="6.88" height="6.91" fill="#5728b7"/>
<rect x="320.46" y="232.11" width="6.87" height="6.91" fill="#3d26a6"/>
<rect x="327.04" y="232.11" width="13.45" height="6.91" fill="#141444"/>
<rect x="340.19" y="232.11" width="13.45" height="6.91" fill="#3d26a6"/>
<rect x="353.34" y="232.11" width="6.88" height="6.91" fill="#141444"/>
<rect x="359.91" y="232.11" width="6.87" height="6.91" fill="#5728b7"/>
<rect x="366.49" y="232.11" width="6.87" height="6.91" fill="#3d26a6"/>
<rect x="373.06" y="232.11" width="20.03" height="6.91" fill="#5728b7"/>
<rect x="392.79" y="232.11" width="6.87" height="6.91" fill="#141444"/>
<rect x="399.36" y="232.11" width="6.87" height="6.91" fill="#eb7308"/>
<rect x="405.94" y="232.11" width="6.88" height="6.91" fill="#e43c3e"/>
<rect x="412.51" y="232.11" width="13.45" height="6.91" fill="#141444"/>
<rect x="425.66" y="232.11" width="6.87" height="6.91" fill="#5728b7"/>
<rect x="432.24" y="232.11" width="6.87" height="6.91" fill="#141444"/>
<rect x="438.81" y="232.11" width="6.88" height="6.91" fill="#5728b7"/>
<rect x="445.39" y="232.11" width="13.45" height="6.91" fill="#3d26a6"/>
<rect x="458.54" y="232.11" width="13.45" height="6.91" fill="#141444"/>
<rect x="471.69" y="232.11" width="6.88" height="6.91" fill="#3d26a6"/>
<rect x="478.26" y="232.11" width="6.87" height="6.91" fill="#141444"/>
<rect x="484.84" y="232.11" width="33.96" height="6.91" fill="#000000"/>
<rect x="50.50" y="238.72" width="20.41" height="6.91" fill="#5728b7"/>
<rect x="70.61" y="238.72" width="6.88" height="6.91" fill="#802f95"/>
<rect x="77.19" y="238.72" width="33.17" height="6.91" fill="#5728b7"/>
<rect x="110.06" y="238.72" width="13.45" height="6.91" fill="#eb7308"/>
<rect x="123.21" y="238.72" width="6.88" height="6.91" fill="#e69509"/>
<rect x="129.79" y="238.72" width="6.87" height="6.91" fill="#eb7308"/>
<rect x="136.36" y="238.72" width="6.88" height="6.91" fill="#f8511c"/>
<rect x="142.94" y="238.72" width="6.87" height="6.91" fill="#5728b7"/>
<rect x="149.51" y="238.72" width="6.87" height="6.91" fill="#292684"/>
<rect x="156.09" y="238.72" width="6.88" height="6.91" fill="#5728b7"/>
<rect x="162.66" y="238.72" width="39.75" height="6.91" fill="#141444"/>
<rect x="202.11" y="238.72" width="6.87" height="6.91" fill="#802f95"/>
<rect x="208.69" y="238.72" width="13.45" height="6.91" fill="#5728b7"/>
<rect x="221.84" y="238.72" width="13.45" height="6.91" fill="#eb7308"/>
<rect x="234.99" y="238.72" width="6.87" height="6.91" fill="#5728b7"/>
<rect x="241.56" y="238.72" width="6.88" height="6.91" fill="#ad366e"/>
<rect x="248.14" y="238.72" width="6.87" height="6.91" fill="#eb7308"/>
<rect x="254.71" y="238.72" width="6.88" height="6.91" fill="#f8511c"/>
<rect x="261.29" y="238.72" width="6.87" height="6.91" fill="#ad366e"/>
<rect x="267.86" y="238.72" width="6.87" height="6.91" fill="#5728b7"/>
<rect x="274.44" y="238.72" width="6.87" height="6.91" fill="#141444"/>
<rect x="281.01" y="238.72" width="6.88" height="6.91" fill="#5728b7"/>
<rect x="287.59" y="238.72" width="6.87" height="6.91" fill="#141444"/>
<rect x="294.16" y="238.72" width="6.87" height="6.91" fill="#5728b7"/>
<rect x="300.74" y="238.72" width="6.87" height="6.91" fill="#141444"/>
<rect x="307.31" y="238.72" width="6.87" height="6.91" fill="#5728b7"/>
<rect x="313.89" y="238.72" width="13.45" height="6.91" fill="#141444"/>
<rect x="327.04" y="238.72" width="6.87" height="6.91" fill="#ad366e"/>
<rect x="333.61" y="238.72" width="6.87" height="6.91" fill="#e43c3e"/>
<rect x="340.19" y="238.72" width="6.87" height="6.91" fill="#141444"/>
<rect x="346.76" y="238.72" width="6.87" height="6.91" fill="#3d26a6"/>
<rect x="353.34" y="238.72" width="6.88" height="6.91" fill="#141444"/>
<rect x="359.91" y="238.72" width="6.87" height="6.91" fill="#5728b7"/>
<rect x="366.49" y="238.72" width="6.87" height="6.91" fill="#141444"/>
<rect x="373.06" y="238.72" width="6.87" height="6.91" fill="#5728b7"/>
<rect x="379.64" y="238.72" width="6.87" height="6.91" fill="#3d26a6"/>
<rect x="386.21" y="238.72" width="6.88" height="6.91" fill="#141444"/>
<rect x="392.79" y="238.72" width="6.87" height="6.91" fill="#e6b716"/>
<rect x="399.36" y="238.72" width="6.87" height="6.91" fill="#e69509"/>
<rect x="405.94" y="238.72" width="6.88" height="6.91" fill="#e6b716"/>
<rect x="412.51" y="238.72" width="13.45" height="6.91" fill="#e69509"/>
<rect x="425.66" y="238.72" width="6.87" height="6.91" fill="#eb7308"/>
<rect x="432.24" y="238.72" width="6.87" height="6.91" fill="#5728b7"/>
<rect x="438.81" y="238.72" width="20.03" height="6.91" fill="#3d26a6"/>
<rect x="458.54" y="238.72" width="6.87" height="6.91" fill="#141444"/>
<rect x="465.11" y="238.72" width="13.45" height="6.91" fill="#292684"/>
<rect x="478.26" y="238.72" width="6.87" height="6.91" fill="#3d26a6"/>
<rect x="484.84" y="238.72" width="6.88" height="6.91" fill="#141444"/>
<rect x="491.41" y="238.72" width="6.87" height="6.91" fill="#000000"/>
<rect x="497.99" y="238.72" width="6.87" height="6.91" fill="#292684"/>
<rect x="504.56" y="238.72" width="6.87" height="6.91" fill="#3d26a6"/>
<rect x="511.14" y="238.72" width="7.66" height="6.91" fill="#141444"/>
<rect x="50.50" y="245.33" width="7.26" height="6.91" fill="#e69509"/>
<rect x="57.46" y="245.33" width="26.60" height="6.91" fill="#f8511c"/>
<rect x="83.76" y="245.33" width="13.45" height="6.91" fill="#e6cf42"/>
<rect x="96.91" y="245.33" width="6.87" height="6.91" fill="#e6b716"/>
<rect x="103.49" y="245.33" width="13.45" height="6.91" fill="#eb7308"/>
<rect x="116.64" y="245.33" width="6.87" height="6.91" fill="#ad366e"/>
<rect x="123.21" y="245.33" width="6.88" height="6.91" fill="#f8511c"/>
<rect x="129.79" y="245.33" width="6.87" height="6.91" fill="#eb7308"/>
<rect x="136.36" y="245.33" width="6.88" height="6.91" fill="#f8511c"/>
<rect x="142.94" y="245.33" width="6.87" height="6.91" fill="#e69509"/>
<rect x="149.51" y="245.33" width="13.45" height="6.91" fill="#5728b7"/>
<rect x="162.66" y="245.33" width="13.45" height="6.91" fill="#141444"/>
<rect x="175.81" y="245.33" width="6.88" height="6.91" fill="#000000"/>
<rect x="182.39" y="245.33" width="13.45" height="6.91" fill="#141444"/>
<rect x="195.54" y="245.33" width="6.87" height="6.91" fill="#5728b7"/>
<rect x="202.11" y="245.33" width="6.87" height="6.91" fill="#f8511c"/>
<rect x="208.69" y="245.33" width="6.88" height="6.91" fill="#ad366e"/>
<rect x="215.26" y="245.33" width="6.87" height="6.91" fill="#eb7308"/>
<rect x="221.84" y="245.33" width="13.45" height="6.91" fill="#e69509"/>
<rect x="234.99" y="245.33" width="6.87" height="6.91" fill="#eb7308"/>
<rect x="241.56" y="245.33" width="6.88" height="6.91" fill="#e69509"/>
<rect x="248.14" y="245.33" width="13.45" height="6.91" fill="#eb7308"/>
<rect x="261.29" y="245.33" width="6.87" height="6.91" fill="#f8511c"/>
<rect x="267.86" y="245.33" width="6.87" height="6.91" fill="#5728b7"/>
<rect x="274.44" y="245.33" width="6.87" height="6.91" fill="#141444"/>
<rect x="281.01" y="245.33" width="6.88" height="6.91" fill="#3d26a6"/>
<rect x="287.59" y="245.33" width="13.45" height="6.91" fill="#141444"/>
<rect x="300.74" y="245.33" width="13.45" height="6.91" fill="#5728b7"/>
<rect x="313.89" y="245.33" width="6.88" height="6.91" fill="#141444"/>
<rect x="320.46" y="245.33" width="6.87" height="6.91" fill="#3d26a6"/>
<rect x="327.04" y="245.33" width="6.87" height="6.91" fill="#e6b716"/>
<rect x="333.61" y="245.33" width="6.87" height="6.91" fill="#ad366e"/>
<rect x="340.19" y="245.33" width="6.87" height="6.91" fill="#141444"/>
<rect x="346.76" y="245.33" width="6.87" height="6.91" fill="#5728b7"/>
<rect x="353.34" y="245.33" width="6.88" height="6.91" fill="#3d26a6"/>
<rect x="359.91" y="245.33" width="6.87" height="6.91" fill="#141444"/>
<rect x="366.49" y="245.33" width="6.87" height="6.91" fill="#3d26a6"/>
<rect x="373.06" y="245.33" width="6.87" height="6.91" fill="#141444"/>
<rect x="379.64" y="245.33" width="6.87" height="6.91" fill="#5728b7"/>
<rect x="386.21" y="245.33" width="6.88" height="6.91" fill="#ad366e"/>
<rect x="392.79" y="245.33" width="6.87" height="6.91" fill="#f8511c"/>
<rect x="399.36" y="245.33" width="13.45" height="6.91" fill="#ad366e"/>
<rect x="412.51" y="245.33" width="6.87" height="6.91" fill="#802f95"/>
<rect x="419.09" y="245.33" width="6.88" height="6.91" fill="#e69509"/>
<rect x="425.66" y="245.33" width="6.87" height="6.91" fill="#ad366e"/>
<rect x="432.24" y="245.33" width="6.87" height="6.91" fill="#802f95"/>
<rect x="438.81" y="245.33" width="13.45" height="6.91" fill="#141444"/>
<rect x="451.96" y="245.33" width="6.88" height="6.91" fill="#292684"/>
<rect x="458.54" y="245.33" width="13.45" height="6.91" fill="#3d26a6"/>
<rect x="471.69" y="245.33" width="6.88" height="6.91" fill="#292684"/>
<rect x="478.26" y="245.33" width="13.45" height="6.91" fill="#802f95"/>
<rect x="491.41" y="245.33" width="13.45" height="6.91" fill="#eb7308"/>
<rect x="504.56" y="245.33" width="14.24" height="6.91" fill="#ad366e"/>
<rect x="50.50" y="251.94" width="7.26" height="6.91" fill="#e69509"/>
<rect x="57.46" y="251.94" width="6.87" height="6.91" fill="#e6cf42"/>
<rect x="64.04" y="251.94" width="6.87" height="6.91" fill="#e6e379"/>
<rect x="70.61" y="251.94" width="20.02" height="6.91" fill="#e6cf42"/>
<rect x="90.34" y="251.94" width="6.88" height="6.91" fill="#e6e379"/>
<rect x="96.91" y="251.94" width="6.87" height="6.91" fill="#e6cf42"/>
<rect x="103.49" y="251.94" width="6.88" height="6.91" fill="#eb7308"/>
<rect x="110.06" y="251.94" width="6.87" height="6.91" fill="#f8511c"/>
<rect x="116.64" y="251.94" width="6.87" height="6.91" fill="#ad366e"/>
<rect x="123.21" y="251.94" width="6.88" height="6.91" fill="#f8511c"/>
<rect x="129.79" y="251.94" width="6.87" height="6.91" fill="#802f95"/>
<rect x="136.36" y="251.94" width="6.88" height="6.91" fill="#eb7308"/>
<rect x="142.94" y="251.94" width="6.87" height="6.91" fill="#e6b716"/>
<rect x="149.51" y="251.94" width="13.45" height="6.91" fill="#5728b7"/>
<rect x="162.66" y="251.94" width="6.87" height="6.91" fill="#141444"/>
<rect x="169.24" y="251.94" width="6.87" height="6.91" fill="#000000"/>
<rect x="175.81" y="251.94" width="6.88" height="6.91" fill="#141444"/>
<rect x="182.39" y="251.94" width="6.88" height="6.91" fill="#3d26a6"/>
<rect x="188.96" y="251.94" width="6.87" height="6.91" fill="#f8511c"/>
<rect x="195.54" y="251.94" width="6.87" height="6.91" fill="#eb7308"/>
<rect x="202.11" y="251.94" width="13.45" height="6.91" fill="#e69509"/>
<rect x="215.26" y="251.94" width="13.45" height="6.91" fill="#e6cf42"/>
<rect x="228.41" y="251.94" width="20.02" height="6.91" fill="#e6b716"/>
<rect x="248.14" y="251.94" width="13.45" height="6.91" fill="#e69509"/>
<rect x="261.29" y="251.94" width="6.87" height="6.91" fill="#eb7308"/>
<rect x="267.86" y="251.94" width="6.87" height="6.91" fill="#ad366e"/>
<rect x="274.44" y="251.94" width="6.87" height="6.91" fill="#141444"/>
<rect x="281.01" y="251.94" width="6.88" height="6.91" fill="#e6b716"/>
<rect x="287.59" y="251.94" width="6.87" height="6.91" fill="#141444"/>
<rect x="294.16" y="251.94" width="13.45" height="6.91" fill="#5728b7"/>
<rect x="307.31" y="251.94" width="6.87" height="6.91" fill="#3d26a6"/>
<rect x="313.89" y="251.94" width="13.45" height="6.91" fill="#5728b7"/>
<rect x="327.04" y="251.94" width="6.87" height="6.91" fill="#141444"/>
<rect x="333.61" y="251.94" width="6.87" height="6.91" fill="#3d26a6"/>
<rect x="340.19" y="251.94" width="6.87" height="6.91" fill="#141444"/>
<rect x="346.76" y="251.94" width="6.87" height="6.91" fill="#5728b7"/>
<rect x="353.34" y="251.94" width="13.45" height="6.91" fill="#802f95"/>
<rect x="366.49" y="251.94" width="6.87" height="6.91" fill="#e6b716"/>
<rect x="373.06" y="251.94" width="6.87" height="6.91" fill="#e6cf42"/>
<rect x="379.64" y="251.94" width="6.87" height="6.91" fill="#141444"/>
<rect x="386.21" y="251.94" width="6.88" height="6.91" fill="#5728b7"/>
<rect x="392.79" y="251.94" width="6.87" height="6.91" fill="#f8511c"/>
<rect x="399.36" y="251.94" width="13.45" height="6.91" fill="#5728b7"/>
<rect x="412.51" y="251.94" width="6.87" height="6.91" fill="#141444"/>
<rect x="419.09" y="251.94" width="6.88" height="6.91" fill="#5728b7"/>
<rect x="425.66" y="251.94" width="33.17" height="6.91" fill="#141444"/>
<rect x="458.54" y="251.94" width="6.87" height="6.91" fill="#5728b7"/>
<rect x="465.11" y="251.94" width="6.87" height="6.91" fill="#3d26a6"/>
<rect x="471.69" y="251.94" width="6.88" height="6.91" fill="#5728b7"/>
<rect x="478.26" y="251.94" width="6.87" height="6.91" fill="#ad366e"/>
<rect x="484.84" y="251.94" width="6.88" height="6.91" fill="#f8511c"/>
<rect x="491.41" y="251.94" width="6.87" height="6.91" fill="#eb7308"/>
<rect x="497.99" y="251.94" width="20.81" height="6.91" fill="#e69509"/>
<rect x="50.50" y="258.54" width="7.26" height="6.91" fill="#e6cf42"/>
<rect x="57.46" y="258.54" width="46.32" height="6.91" fill="#e6e379"/>
<rect x="103.49" y="258.54" width="6.88" height="6.91" fill="#e6cf42"/>
<rect x="110.06" y="258.54" width="6.87" height="6.91" fill="#eb7308"/>
<rect x="116.64" y="258.54" width="6.87" height="6.91" fill="#802f95"/>
<rect x="123.21" y="258.54" width="13.45" height="6.91" fill="#5728b7"/>
<rect x="136.36" y="258.54" width="6.88" height="6.91" fill="#141444"/>
<rect x="142.94" y="258.54" width="6.87" height="6.91" fill="#e6cf42"/>
<rect x="149.51" y="258.54" width="6.87" height="6.91" fill="#eb7308"/>
<rect x="156.09" y="258.54" width="6.88" height="6.91" fill="#802f95"/>
<rect x="162.66" y="258.54" width="20.02" height="6.91" fill="#141444"/>
<rect x="182.39" y="258.54" width="6.88" height="6.91" fill="#eb7308"/>
<rect x="188.96" y="258.54" width="6.87" height="6.91" fill="#e6b716"/>
<rect x="195.54" y="258.54" width="6.87" height="6.91" fill="#f8511c"/>
<rect x="202.11" y="258.54" width="13.45" height="6.91" fill="#e69509"/>
<rect x="215.26" y="258.54" width="20.02" height="6.91" fill="#e6cf42"/>
<rect x="234.99" y="258.54" width="6.87" height="6.91" fill="#e6b716"/>
<rect x="241.56" y="258.54" width="6.88" height="6.91" fill="#e6cf42"/>
<rect x="248.14" y="258.54" width="6.87" height="6.91" fill="#e6b716"/>
<rect x="254.71" y="258.54" width="6.88" height="6.91" fill="#e69509"/>
<rect x="261.29" y="258.54" width="6.87" height="6.91" fill="#eb7308"/>
<rect x="267.86" y="258.54" width="6.87" height="6.91" fill="#ad366e"/>
<rect x="274.44" y="258.54" width="6.87" height="6.91" fill="#e6cf42"/>
<rect x="281.01" y="258.54" width="6.88" height="6.91" fill="#e6b716"/>
<rect x="287.59" y="258.54" width="6.87" height="6.91" fill="#ad366e"/>
<rect x="294.16" y="258.54" width="6.87" height="6.91" fill="#141444"/>
<rect x="300.74" y="258.54" width="20.03" height="6.91" fill="#5728b7"/>
<rect x="320.46" y="258.54" width="6.87" height="6.91" fill="#802f95"/>
<rect x="327.04" y="258.54" width="6.87" height="6.91" fill="#141444"/>
<rect x="333.61" y="258.54" width="6.87" height="6.91" fill="#5728b7"/>
<rect x="340.19" y="258.54" width="6.87" height="6.91" fill="#141444"/>
<rect x="346.76" y="258.54" width="6.87" height="6.91" fill="#3d26a6"/>
<rect x="353.34" y="258.54" width="6.88" height="6.91" fill="#802f95"/>
<rect x="359.91" y="258.54" width="52.90" height="6.91" fill="#141444"/>
<rect x="412.51" y="258.54" width="20.02" height="6.91" fill="#000000"/>
<rect x="432.24" y="258.54" width="6.87" height="6.91" fill="#141444"/>
<rect x="438.81" y="258.54" width="6.88" height="6.91" fill="#3d26a6"/>
<rect x="445.39" y="258.54" width="6.87" height="6.91" fill="#141444"/>
<rect x="451.96" y="258.54" width="6.88" height="6.91" fill="#292684"/>
<rect x="458.54" y="258.54" width="6.87" height="6.91" fill="#5728b7"/>
<rect x="465.11" y="258.54" width="6.87" height="6.91" fill="#802f95"/>
<rect x="471.69" y="258.54" width="6.88" height="6.91" fill="#5728b7"/>
<rect x="478.26" y="258.54" width="6.87" height="6.91" fill="#e43c3e"/>
<rect x="484.84" y="258.54" width="6.88" height="6.91" fill="#f8511c"/>
<rect x="491.41" y="258.54" width="6.87" height="6.91" fill="#e69509"/>
<rect x="497.99" y="258.54" width="6.87" height="6.91" fill="#eb7308"/>
<rect x="504.56" y="258.54" width="6.87" height="6.91" fill="#e69509"/>
<rect x="511.14" y="258.54" width="7.66" height="6.91" fill="#e6b716"/>
<rect x="50.50" y="265.15" width="7.26" height="6.91" fill="#e6b716"/>
<rect x="57.46" y="265.15" width="39.75" height="6.91" fill="#e6cf42"/>
<rect x="96.91" y="265.15" width="6.87" height="6.91" fill="#e6b716"/>
<rect x="103.49" y="265.15" width="6.88" height="6.91" fill="#eb7308"/>
<rect x="110.06" y="265.15" width="13.45" height="6.91" fill="#f8511c"/>
<rect x="123.21" y="265.15" width="6.88" height="6.91" fill="#ad366e"/>
<rect x="129.79" y="265.15" width="20.02" height="6.91" fill="#5728b7"/>
<rect x="149.51" y="265.15" width="13.45" height="6.91" fill="#ad366e"/>
<rect x="162.66" y="265.15" width="6.87" height="6.91" fill="#e43c3e"/>
<rect x="169.24" y="265.15" width="6.87" height="6.91" fill="#5728b7"/>
<rect x="175.81" y="265.15" width="6.88" height="6.91" fill="#141444"/>
<rect x="182.39" y="265.15" width="6.88" height="6.91" fill="#802f95"/>
<rect x="188.96" y="265.15" width="13.45" height="6.91" fill="#e69509"/>
<rect x="202.11" y="265.15" width="6.87" height="6.91" fill="#eb7308"/>
<rect x="208.69" y="265.15" width="20.03" height="6.91" fill="#e69509"/>
<rect x="228.41" y="265.15" width="6.87" height="6.91" fill="#e6b716"/>
<rect x="234.99" y="265.15" width="6.87" height="6.91" fill="#e69509"/>
<rect x="241.56" y="265.15" width="6.88" height="6.91" fill="#f8511c"/>
<rect x="248.14" y="265.15" width="13.45" height="6.91" fill="#eb7308"/>
<rect x="261.29" y="265.15" width="6.87" height="6.91" fill="#5728b7"/>
<rect x="267.86" y="265.15" width="20.03" height="6.91" fill="#141444"/>
<rect x="287.59" y="265.15" width="13.45" height="6.91" fill="#eb7308"/>
<rect x="300.74" y="265.15" width="6.87" height="6.91" fill="#e69509"/>
<rect x="307.31" y="265.15" width="13.45" height="6.91" fill="#eb7308"/>
<rect x="320.46" y="265.15" width="6.87" height="6.91" fill="#5728b7"/>
<rect x="327.04" y="265.15" width="6.87" height="6.91" fill="#3d26a6"/>
<rect x="333.61" y="265.15" width="6.87" height="6.91" fill="#141444"/>
<rect x="340.19" y="265.15" width="6.87" height="6.91" fill="#3d26a6"/>
<rect x="346.76" y="265.15" width="13.45" height="6.91" fill="#141444"/>
<rect x="359.91" y="265.15" width="79.20" height="6.91" fill="#000000"/>
<rect x="438.81" y="265.15" width="6.88" height="6.91" fill="#141444"/>
<rect x="445.39" y="265.15" width="13.45" height="6.91" fill="#3d26a6"/>
<rect x="458.54" y="265.15" width="6.87" height="6.91" fill="#5728b7"/>
<rect x="465.11" y="265.15" width="6.87" height="6.91" fill="#802f95"/>
<rect x="471.69" y="265.15" width="6.88" height="6.91" fill="#eb7308"/>
<rect x="478.26" y="265.15" width="6.87" height="6.91" fill="#e69509"/>
<rect x="484.84" y="265.15" width="13.45" height="6.91" fill="#e6b716"/>
<rect x="497.99" y="265.15" width="20.81" height="6.91" fill="#e6cf42"/>
<rect x="50.50" y="271.76" width="7.26" height="6.91" fill="#e43c3e"/>
<rect x="57.46" y="271.76" width="6.87" height="6.91" fill="#ad366e"/>
<rect x="64.04" y="271.76" width="6.87" height="6.91" fill="#e43c3e"/>
<rect x="70.61" y="271.76" width="6.88" height="6.91" fill="#ad366e"/>
<rect x="77.19" y="271.76" width="6.87" height="6.91" fill="#e43c3e"/>
<rect x="83.76" y="271.76" width="13.45" height="6.91" fill="#eb7308"/>
<rect x="96.91" y="271.76" width="6.87" height="6.91" fill="#e6b716"/>
<rect x="103.49" y="271.76" width="6.88" height="6.91" fill="#e69509"/>
<rect x="110.06" y="271.76" width="13.45" height="6.91" fill="#802f95"/>
<rect x="123.21" y="271.76" width="46.33" height="6.91" fill="#5728b7"/>
<rect x="169.24" y="271.76" width="6.87" height="6.91" fill="#3d26a6"/>
<rect x="175.81" y="271.76" width="6.88" height="6.91" fill="#802f95"/>
<rect x="182.39" y="271.76" width="6.88" height="6.91" fill="#3d26a6"/>
<rect x="188.96" y="271.76" width="6.87" height="6.91" fill="#e43c3e"/>
<rect x="195.54" y="271.76" width="6.87" height="6.91" fill="#eb7308"/>
<rect x="202.11" y="271.76" width="6.87" height="6.91" fill="#ad366e"/>
<rect x="208.69" y="271.76" width="13.45" height="6.91" fill="#f8511c"/>
<rect x="221.84" y="271.76" width="6.88" height="6.91" fill="#eb7308"/>
<rect x="228.41" y="271.76" width="6.87" height="6.91" fill="#e43c3e"/>
<rect x="234.99" y="271.76" width="6.87" height="6.91" fill="#f8511c"/>
<rect x="241.56" y="271.76" width="6.88" height="6.91" fill="#5728b7"/>
<rect x="248.14" y="271.76" width="6.87" height="6.91" fill="#3d26a6"/>
<rect x="254.71" y="271.76" width="13.45" height="6.91" fill="#141444"/>
<rect x="267.86" y="271.76" width="6.87" height="6.91" fill="#3d26a6"/>
<rect x="274.44" y="271.76" width="13.45" height="6.91" fill="#141444"/>
<rect x="287.59" y="271.76" width="6.87" height="6.91" fill="#3d26a6"/>
<rect x="294.16" y="271.76" width="6.87" height="6.91" fill="#141444"/>
<rect x="300.74" y="271.76" width="26.60" height="6.91" fill="#5728b7"/>
<rect x="327.04" y="271.76" width="6.87" height="6.91" fill="#141444"/>
<rect x="333.61" y="271.76" width="13.45" height="6.91" fill="#3d26a6"/>
<rect x="346.76" y="271.76" width="6.87" height="6.91" fill="#141444"/>
<rect x="353.34" y="271.76" width="72.63" height="6.91" fill="#000000"/>
<rect x="425.66" y="271.76" width="6.87" height="6.91" fill="#141444"/>
<rect x="432.24" y="271.76" width="6.87" height="6.91" fill="#ad366e"/>
<rect x="438.81" y="271.76" width="6.88" height="6.91" fill="#141444"/>
<rect x="445.39" y="271.76" width="20.02" height="6.91" fill="#5728b7"/>
<rect x="465.11" y="271.76" width="6.87" height="6.91" fill="#eb7308"/>
<rect x="471.69" y="271.76" width="33.17" height="6.91" fill="#e6b716"/>
<rect x="504.56" y="271.76" width="6.87" height="6.91" fill="#eb7308"/>
<rect x="511.14" y="271.76" width="7.66" height="6.91" fill="#e69509"/>
<rect x="50.50" y="278.37" width="7.26" height="6.91" fill="#e6b716"/>
<rect x="57.46" y="278.37" width="6.87" height="6.91" fill="#eb7308"/>
<rect x="64.04" y="278.37" width="20.02" height="6.91" fill="#e6cf42"/>
<rect x="83.76" y="278.37" width="6.87" height="6.91" fill="#e6b716"/>
<rect x="90.34" y="278.37" width="13.45" height="6.91" fill="#e6cf42"/>
<rect x="103.49" y="278.37" width="6.88" height="6.91" fill="#e69509"/>
<rect x="110.06" y="278.37" width="13.45" height="6.91" fill="#eb7308"/>
<rect x="123.21" y="278.37" width="6.88" height="6.91" fill="#e43c3e"/>
<rect x="129.79" y="278.37" width="6.87" height="6.91" fill="#eb7308"/>
<rect x="136.36" y="278.37" width="6.88" height="6.91" fill="#f8511c"/>
<rect x="142.94" y="278.37" width="6.87" height="6.91" fill="#5728b7"/>
<rect x="149.51" y="278.37" width="6.87" height="6.91" fill="#802f95"/>
<rect x="156.09" y="278.37" width="26.60" height="6.91" fill="#141444"/>
<rect x="182.39" y="278.37" width="6.88" height="6.91" fill="#3d26a6"/>
<rect x="188.96" y="278.37" width="6.87" height="6.91" fill="#5728b7"/>
<rect x="195.54" y="278.37" width="6.87" height="6.91" fill="#802f95"/>
<rect x="202.11" y="278.37" width="20.02" height="6.91" fill="#5728b7"/>
<rect x="221.84" y="278.37" width="6.88" height="6.91" fill="#3d26a6"/>
<rect x="228.41" y="278.37" width="6.87" height="6.91" fill="#802f95"/>
<rect x="234.99" y="278.37" width="6.87" height="6.91" fill="#5728b7"/>
<rect x="241.56" y="278.37" width="6.88" height="6.91" fill="#3d26a6"/>
<rect x="248.14" y="278.37" width="39.75" height="6.91" fill="#141444"/>
<rect x="287.59" y="278.37" width="6.87" height="6.91" fill="#3d26a6"/>
<rect x="294.16" y="278.37" width="6.87" height="6.91" fill="#141444"/>
<rect x="300.74" y="278.37" width="6.87" height="6.91" fill="#3d26a6"/>
<rect x="307.31" y="278.37" width="26.60" height="6.91" fill="#5728b7"/>
<rect x="333.61" y="278.37" width="6.87" height="6.91" fill="#3d26a6"/>
<rect x="340.19" y="278.37" width="6.87" height="6.91" fill="#141444"/>
<rect x="346.76" y="278.37" width="72.62" height="6.91" fill="#000000"/>
<rect x="419.09" y="278.37" width="6.88" height="6.91" fill="#141444"/>
<rect x="425.66" y="278.37" width="6.87" height="6.91" fill="#3d26a6"/>
<rect x="432.24" y="278.37" width="13.45" height="6.91" fill="#141444"/>
<rect x="445.39" y="278.37" width="13.45" height="6.91" fill="#5728b7"/>
<rect x="458.54" y="278.37" width="6.87" height="6.91" fill="#3d26a6"/>
<rect x="465.11" y="278.37" width="6.87" height="6.91" fill="#eb7308"/>
<rect x="471.69" y="278.37" width="13.45" height="6.91" fill="#e6b716"/>
<rect x="484.84" y="278.37" width="20.03" height="6.91" fill="#e6cf42"/>
<rect x="504.56" y="278.37" width="14.24" height="6.91" fill="#eb7308"/>
<rect x="50.50" y="284.98" width="13.84" height="6.91" fill="#e6cf42"/>
<rect x="64.04" y="284.98" width="6.87" height="6.91" fill="#e6e379"/>
<rect x="70.61" y="284.98" width="39.75" height="6.91" fill="#e6cf42"/>
<rect x="110.06" y="284.98" width="13.45" height="6.91" fill="#e69509"/>
<rect x="123.21" y="284.98" width="13.45" height="6.91" fill="#eb7308"/>
<rect x="136.36" y="284.98" width="6.88" height="6.91" fill="#f8511c"/>
<rect x="142.94" y="284.98" width="6.87" height="6.91" fill="#ad366e"/>
<rect x="149.51" y="284.98" width="20.02" height="6.91" fill="#5728b7"/>
<rect x="169.24" y="284.98" width="6.87" height="6.91" fill="#141444"/>
<rect x="175.81" y="284.98" width="6.88" height="6.91" fill="#3d26a6"/>
<rect x="182.39" y="284.98" width="26.60" height="6.91" fill="#141444"/>
<rect x="208.69" y="284.98" width="6.88" height="6.91" fill="#3d26a6"/>
<rect x="215.26" y="284.98" width="26.60" height="6.91" fill="#5728b7"/>
<rect x="241.56" y="284.98" width="6.88" height="6.91" fill="#292684"/>
<rect x="248.14" y="284.98" width="59.47" height="6.91" fill="#141444"/>
<rect x="307.31" y="284.98" width="6.87" height="6.91" fill="#3d26a6"/>
<rect x="313.89" y="284.98" width="13.45" height="6.91" fill="#5728b7"/>
<rect x="327.04" y="284.98" width="13.45" height="6.91" fill="#3d26a6"/>
<rect x="340.19" y="284.98" width="6.87" height="6.91" fill="#141444"/>
<rect x="346.76" y="284.98" width="72.62" height="6.91" fill="#000000"/>
<rect x="419.09" y="284.98" width="6.88" height="6.91" fill="#141444"/>
<rect x="425.66" y="284.98" width="13.45" height="6.91" fill="#3d26a6"/>
<rect x="438.81" y="284.98" width="6.88" height="6.91" fill="#141444"/>
<rect x="445.39" y="284.98" width="13.45" height="6.91" fill="#3d26a6"/>
<rect x="458.54" y="284.98" width="6.87" height="6.91" fill="#802f95"/>
<rect x="465.11" y="284.98" width="6.87" height="6.91" fill="#e69509"/>
<rect x="471.69" y="284.98" width="13.45" height="6.91" fill="#e6b716"/>
<rect x="484.84" y="284.98" width="6.88" height="6.91" fill="#eb7308"/>
<rect x="491.41" y="284.98" width="13.45" height="6.91" fill="#e69509"/>
<rect x="504.56" y="284.98" width="14.24" height="6.91" fill="#eb7308"/>
<rect x="50.50" y="291.59" width="7.26" height="6.91" fill="#e6cf42"/>
<rect x="57.46" y="291.59" width="6.87" height="6.91" fill="#e6b716"/>
<rect x="64.04" y="291.59" width="6.87" height="6.91" fill="#e6e379"/>
<rect x="70.61" y="291.59" width="33.17" height="6.91" fill="#e6cf42"/>
<rect x="103.49" y="291.59" width="33.17" height="6.91" fill="#e6b716"/>
<rect x="136.36" y="291.59" width="6.88" height="6.91" fill="#eb7308"/>
<rect x="142.94" y="291.59" width="6.87" height="6.91" fill="#e43c3e"/>
<rect x="149.51" y="291.59" width="6.87" height="6.91" fill="#ad366e"/>
<rect x="156.09" y="291.59" width="6.88" height="6.91" fill="#5728b7"/>
<rect x="162.66" y="291.59" width="6.87" height="6.91" fill="#e43c3e"/>
<rect x="169.24" y="291.59" width="6.87" height="6.91" fill="#ad366e"/>
<rect x="175.81" y="291.59" width="6.88" height="6.91" fill="#3d26a6"/>
<rect x="182.39" y="291.59" width="13.45" height="6.91" fill="#141444"/>
<rect x="195.54" y="291.59" width="6.87" height="6.91" fill="#000000"/>
<rect x="202.11" y="291.59" width="13.45" height="6.91" fill="#141444"/>
<rect x="215.26" y="291.59" width="6.87" height="6.91" fill="#5728b7"/>
<rect x="221.84" y="291.59" width="6.88" height="6.91" fill="#eb7308"/>
<rect x="228.41" y="291.59" width="6.87" height="6.91" fill="#ad366e"/>
<rect x="234.99" y="291.59" width="6.87" height="6.91" fill="#5728b7"/>
<rect x="241.56" y="291.59" width="6.88" height="6.91" fill="#141444"/>
<rect x="248.14" y="291.59" width="6.87" height="6.91" fill="#292684"/>
<rect x="254.71" y="291.59" width="6.88" height="6.91" fill="#141444"/>
<rect x="261.29" y="291.59" width="26.60" height="6.91" fill="#000000"/>
<rect x="287.59" y="291.59" width="13.45" height="6.91" fill="#141444"/>
<rect x="300.74" y="291.59" width="6.87" height="6.91" fill="#3d26a6"/>
<rect x="307.31" y="291.59" width="20.03" height="6.91" fill="#141444"/>
<rect x="327.04" y="291.59" width="13.45" height="6.91" fill="#3d26a6"/>
<rect x="340.19" y="291.59" width="6.87" height="6.91" fill="#5728b7"/>
<rect x="346.76" y="291.59" width="6.87" height="6.91" fill="#141444"/>
<rect x="353.34" y="291.59" width="52.90" height="6.91" fill="#000000"/>
<rect x="405.94" y="291.59" width="13.45" height="6.91" fill="#141444"/>
<rect x="419.09" y="291.59" width="6.88" height="6.91" fill="#000000"/>
<rect x="425.66" y="291.59" width="20.03" height="6.91" fill="#141444"/>
<rect x="445.39" y="291.59" width="6.87" height="6.91" fill="#5728b7"/>
<rect x="451.96" y="291.59" width="6.88" height="6.91" fill="#802f95"/>
<rect x="458.54" y="291.59" width="6.87" height="6.91" fill="#ad366e"/>
<rect x="465.11" y="291.59" width="6.87" height="6.91" fill="#eb7308"/>
<rect x="471.69" y="291.59" width="6.88" height="6.91" fill="#e69509"/>
<rect x="478.26" y="291.59" width="20.02" height="6.91" fill="#e6b716"/>
<rect x="497.99" y="291.59" width="6.87" height="6.91" fill="#e69509"/>
<rect x="504.56" y="291.59" width="14.24" height="6.91" fill="#e6b716"/>
<rect x="50.50" y="298.20" width="7.26" height="6.91" fill="#e69509"/>
<rect x="57.46" y="298.20" width="6.87" height="6.91" fill="#eb7308"/>
<rect x="64.04" y="298.20" width="6.87" height="6.91" fill="#e6b716"/>
<rect x="70.61" y="298.20" width="6.88" height="6.91" fill="#e69509"/>
<rect x="77.19" y="298.20" width="6.87" height="6.91" fill="#e6b716"/>
<rect x="83.76" y="298.20" width="6.87" height="6.91" fill="#e6cf42"/>
<rect x="90.34" y="298.20" width="13.45" height="6.91" fill="#e6b716"/>
<rect x="103.49" y="298.20" width="6.88" height="6.91" fill="#e69509"/>
<rect x="110.06" y="298.20" width="26.60" height="6.91" fill="#e6b716"/>
<rect x="136.36" y="298.20" width="6.88" height="6.91" fill="#e69509"/>
<rect x="142.94" y="298.20" width="6.87" height="6.91" fill="#eb7308"/>
<rect x="149.51" y="298.20" width="6.87" height="6.91" fill="#f8511c"/>
<rect x="156.09" y="298.20" width="13.45" height="6.91" fill="#eb7308"/>
<rect x="169.24" y="298.20" width="6.87" height="6.91" fill="#5728b7"/>
<rect x="175.81" y="298.20" width="6.88" height="6.91" fill="#3d26a6"/>
<rect x="182.39" y="298.20" width="13.45" height="6.91" fill="#141444"/>
<rect x="195.54" y="298.20" width="6.87" height="6.91" fill="#000000"/>
<rect x="202.11" y="298.20" width="20.02" height="6.91" fill="#141444"/>
<rect x="221.84" y="298.20" width="13.45" height="6.91" fill="#eb7308"/>
<rect x="234.99" y="298.20" width="6.87" height="6.91" fill="#e6b716"/>
<rect x="241.56" y="298.20" width="6.88" height="6.91" fill="#3d26a6"/>
<rect x="248.14" y="298.20" width="13.45" height="6.91" fill="#5728b7"/>
<rect x="261.29" y="298.20" width="6.87" height="6.91" fill="#3d26a6"/>
<rect x="267.86" y="298.20" width="20.03" height="6.91" fill="#141444"/>
<rect x="287.59" y="298.20" width="6.87" height="6.91" fill="#000000"/>
<rect x="294.16" y="298.20" width="13.45" height="6.91" fill="#141444"/>
<rect x="307.31" y="298.20" width="6.87" height="6.91" fill="#3d26a6"/>
<rect x="313.89" y="298.20" width="6.88" height="6.91" fill="#141444"/>
<rect x="320.46" y="298.20" width="6.87" height="6.91" fill="#5728b7"/>
<rect x="327.04" y="298.20" width="13.45" height="6.91" fill="#141444"/>
<rect x="340.19" y="298.20" width="6.87" height="6.91" fill="#3d26a6"/>
<rect x="346.76" y="298.20" width="6.87" height="6.91" fill="#5728b7"/>
<rect x="353.34" y="298.20" width="6.88" height="6.91" fill="#3d26a6"/>
<rect x="359.91" y="298.20" width="20.02" height="6.91" fill="#5728b7"/>
<rect x="379.64" y="298.20" width="6.87" height="6.91" fill="#3d26a6"/>
<rect x="386.21" y="298.20" width="6.88" height="6.91" fill="#141444"/>
<rect x="392.79" y="298.20" width="6.87" height="6.91" fill="#3d26a6"/>
<rect x="399.36" y="298.20" width="20.02" height="6.91" fill="#5728b7"/>
<rect x="419.09" y="298.20" width="6.88" height="6.91" fill="#141444"/>
<rect x="425.66" y="298.20" width="13.45" height="6.91" fill="#3d26a6"/>
<rect x="438.81" y="298.20" width="26.60" height="6.91" fill="#141444"/>
<rect x="465.11" y="298.20" width="6.87" height="6.91" fill="#5728b7"/>
<rect x="471.69" y="298.20" width="6.88" height="6.91" fill="#802f95"/>
<rect x="478.26" y="298.20" width="6.87" height="6.91" fill="#5728b7"/>
<rect x="484.84" y="298.20" width="6.88" height="6.91" fill="#802f95"/>
<rect x="491.41" y="298.20" width="6.87" height="6.91" fill="#eb7308"/>
<rect x="497.99" y="298.20" width="6.87" height="6.91" fill="#ad366e"/>
<rect x="504.56" y="298.20" width="6.87" height="6.91" fill="#eb7308"/>
<rect x="511.14" y="298.20" width="7.66" height="6.91" fill="#e69509"/>
<rect x="50.50" y="304.80" width="7.26" height="6.91" fill="#e6b716"/>
<rect x="57.46" y="304.80" width="6.87" height="6.91" fill="#e69509"/>
<rect x="64.04" y="304.80" width="20.02" height="6.91" fill="#e6b716"/>
<rect x="83.76" y="304.80" width="6.87" height="6.91" fill="#e69509"/>
<rect x="90.34" y="304.80" width="6.88" height="6.91" fill="#e6b716"/>
<rect x="96.91" y="304.80" width="6.87" height="6.91" fill="#e69509"/>
<rect x="103.49" y="304.80" width="39.75" height="6.91" fill="#e6b716"/>
<rect x="142.94" y="304.80" width="6.87" height="6.91" fill="#e69509"/>
<rect x="149.51" y="304.80" width="20.02" height="6.91" fill="#eb7308"/>
<rect x="169.24" y="304.80" width="6.87" height="6.91" fill="#f8511c"/>
<rect x="175.81" y="304.80" width="6.88" height="6.91" fill="#5728b7"/>
<rect x="182.39" y="304.80" width="6.88" height="6.91" fill="#eb7308"/>
<rect x="188.96" y="304.80" width="20.02" height="6.91" fill="#141444"/>
<rect x="208.69" y="304.80" width="6.88" height="6.91" fill="#3d26a6"/>
<rect x="215.26" y="304.80" width="6.87" height="6.91" fill="#5728b7"/>
<rect x="221.84" y="304.80" width="6.88" height="6.91" fill="#e6cf42"/>
<rect x="228.41" y="304.80" width="6.87" height="6.91" fill="#e6e379"/>
<rect x="234.99" y="304.80" width="6.87" height="6.91" fill="#e6cf42"/>
<rect x="241.56" y="304.80" width="6.88" height="6.91" fill="#ad366e"/>
<rect x="248.14" y="304.80" width="6.87" height="6.91" fill="#5728b7"/>
<rect x="254.71" y="304.80" width="6.88" height="6.91" fill="#802f95"/>
<rect x="261.29" y="304.80" width="6.87" height="6.91" fill="#5728b7"/>
<rect x="267.86" y="304.80" width="6.87" height="6.91" fill="#3d26a6"/>
<rect x="274.44" y="304.80" width="6.87" height="6.91" fill="#802f95"/>
<rect x="281.01" y="304.80" width="20.03" height="6.91" fill="#141444"/>
<rect x="300.74" y="304.80" width="13.45" height="6.91" fill="#5728b7"/>
<rect x="313.89" y="304.80" width="6.88" height="6.91" fill="#eb7308"/>
<rect x="320.46" y="304.80" width="6.87" height="6.91" fill="#141444"/>
<rect x="327.04" y="304.80" width="13.45" height="6.91" fill="#3d26a6"/>
<rect x="340.19" y="304.80" width="6.87" height="6.91" fill="#141444"/>
<rect x="346.76" y="304.80" width="6.87" height="6.91" fill="#f8511c"/>
<rect x="353.34" y="304.80" width="13.45" height="6.91" fill="#eb7308"/>
<rect x="366.49" y="304.80" width="6.87" height="6.91" fill="#ad366e"/>
<rect x="373.06" y="304.80" width="6.87" height="6.91" fill="#eb7308"/>
<rect x="379.64" y="304.80" width="6.87" height="6.91" fill="#f8511c"/>
<rect x="386.21" y="304.80" width="13.45" height="6.91" fill="#eb7308"/>
<rect x="399.36" y="304.80" width="6.87" height="6.91" fill="#5728b7"/>
<rect x="405.94" y="304.80" width="6.88" height="6.91" fill="#3d26a6"/>
<rect x="412.51" y="304.80" width="6.87" height="6.91" fill="#5728b7"/>
<rect x="419.09" y="304.80" width="6.88" height="6.91" fill="#802f95"/>
<rect x="425.66" y="304.80" width="13.45" height="6.91" fill="#3d26a6"/>
<rect x="438.81" y="304.80" width="6.88" height="6.91" fill="#5728b7"/>
<rect x="445.39" y="304.80" width="13.45" height="6.91" fill="#141444"/>
<rect x="458.54" y="304.80" width="20.03" height="6.91" fill="#5728b7"/>
<rect x="478.26" y="304.80" width="6.87" height="6.91" fill="#3d26a6"/>
<rect x="484.84" y="304.80" width="6.88" height="6.91" fill="#5728b7"/>
<rect x="491.41" y="304.80" width="6.87" height="6.91" fill="#802f95"/>
<rect x="497.99" y="304.80" width="6.87" height="6.91" fill="#ad366e"/>
<rect x="504.56" y="304.80" width="6.87" height="6.91" fill="#f8511c"/>
<rect x="511.14" y="304.80" width="7.66" height="6.91" fill="#eb7308"/>
<rect x="50.50" y="311.41" width="7.26" height="6.91" fill="#e6b716"/>
<rect x="57.46" y="311.41" width="6.87" height="6.91" fill="#eb7308"/>
<rect x="64.04" y="311.41" width="6.87" height="6.91" fill="#e69509"/>
<rect x="70.61" y="311.41" width="26.60" height="6.91" fill="#e6b716"/>
<rect x="96.91" y="311.41" width="13.45" height="6.91" fill="#e6cf42"/>
<rect x="110.06" y="311.41" width="6.87" height="6.91" fill="#e6e379"/>
<rect x="116.64" y="311.41" width="33.17" height="6.91" fill="#e6b716"/>
<rect x="149.51" y="311.41" width="13.45" height="6.91" fill="#e69509"/>
<rect x="162.66" y="311.41" width="6.87" height="6.91" fill="#eb7308"/>
<rect x="169.24" y="311.41" width="6.87" height="6.91" fill="#f8511c"/>
<rect x="175.81" y="311.41" width="6.88" height="6.91" fill="#ad366e"/>
<rect x="182.39" y="311.41" width="6.88" height="6.91" fill="#eb7308"/>
<rect x="188.96" y="311.41" width="26.60" height="6.91" fill="#141444"/>
<rect x="215.26" y="311.41" width="6.87" height="6.91" fill="#5728b7"/>
<rect x="221.84" y="311.41" width="6.88" height="6.91" fill="#e6cf42"/>
<rect x="228.41" y="311.41" width="6.87" height="6.91" fill="#e6e379"/>
<rect x="234.99" y="311.41" width="6.87" height="6.91" fill="#e69509"/>
<rect x="241.56" y="311.41" width="26.60" height="6.91" fill="#eb7308"/>
<rect x="267.86" y="311.41" width="6.87" height="6.91" fill="#802f95"/>
<rect x="274.44" y="311.41" width="6.87" height="6.91" fill="#5728b7"/>
<rect x="281.01" y="311.41" width="20.03" height="6.91" fill="#141444"/>
<rect x="300.74" y="311.41" width="6.87" height="6.91" fill="#5728b7"/>
<rect x="307.31" y="311.41" width="6.87" height="6.91" fill="#141444"/>
<rect x="313.89" y="311.41" width="6.88" height="6.91" fill="#3d26a6"/>
<rect x="320.46" y="311.41" width="13.45" height="6.91" fill="#5728b7"/>
<rect x="333.61" y="311.41" width="6.87" height="6.91" fill="#ad366e"/>
<rect x="340.19" y="311.41" width="6.87" height="6.91" fill="#5728b7"/>
<rect x="346.76" y="311.41" width="13.45" height="6.91" fill="#f8511c"/>
<rect x="359.91" y="311.41" width="6.87" height="6.91" fill="#eb7308"/>
<rect x="366.49" y="311.41" width="6.87" height="6.91" fill="#e69509"/>
<rect x="373.06" y="311.41" width="6.87" height="6.91" fill="#f8511c"/>
<rect x="379.64" y="311.41" width="20.03" height="6.91" fill="#eb7308"/>
<rect x="399.36" y="311.41" width="13.45" height="6.91" fill="#5728b7"/>
<rect x="412.51" y="311.41" width="6.87" height="6.91" fill="#ad366e"/>
<rect x="419.09" y="311.41" width="20.03" height="6.91" fill="#eb7308"/>
<rect x="438.81" y="311.41" width="6.88" height="6.91" fill="#141444"/>
<rect x="445.39" y="311.41" width="6.87" height="6.91" fill="#eb7308"/>
<rect x="451.96" y="311.41" width="6.88" height="6.91" fill="#e6cf42"/>
<rect x="458.54" y="311.41" width="6.87" height="6.91" fill="#e6b716"/>
<rect x="465.11" y="311.41" width="6.87" height="6.91" fill="#000000"/>
<rect x="471.69" y="311.41" width="6.88" height="6.91" fill="#5728b7"/>
<rect x="478.26" y="311.41" width="13.45" height="6.91" fill="#3d26a6"/>
<rect x="491.41" y="311.41" width="13.45" height="6.91" fill="#802f95"/>
<rect x="504.56" y="311.41" width="6.87" height="6.91" fill="#eb7308"/>
<rect x="511.14" y="311.41" width="7.66" height="6.91" fill="#ad366e"/>
<rect x="50.50" y="318.02" width="20.41" height="6.91" fill="#e6b716"/>
<rect x="70.61" y="318.02" width="6.88" height="6.91" fill="#e69509"/>
<rect x="77.19" y="318.02" width="6.87" height="6.91" fill="#eb7308"/>
<rect x="83.76" y="318.02" width="20.02" height="6.91" fill="#e6b716"/>
<rect x="103.49" y="318.02" width="13.45" height="6.91" fill="#e6cf42"/>
<rect x="116.64" y="318.02" width="6.87" height="6.91" fill="#e6b716"/>
<rect x="123.21" y="318.02" width="6.88" height="6.91" fill="#f8511c"/>
<rect x="129.79" y="318.02" width="6.87" height="6.91" fill="#e69509"/>
<rect x="136.36" y="318.02" width="6.88" height="6.91" fill="#e6b716"/>
<rect x="142.94" y="318.02" width="20.02" height="6.91" fill="#e69509"/>
<rect x="162.66" y="318.02" width="13.45" height="6.91" fill="#eb7308"/>
<rect x="175.81" y="318.02" width="13.45" height="6.91" fill="#ad366e"/>
<rect x="188.96" y="318.02" width="6.87" height="6.91" fill="#f1f1bb"/>
<rect x="195.54" y="318.02" width="13.45" height="6.91" fill="#141444"/>
<rect x="208.69" y="318.02" width="6.88" height="6.91" fill="#3d26a6"/>
<rect x="215.26" y="318.02" width="6.87" height="6.91" fill="#eb7308"/>
<rect x="221.84" y="318.02" width="6.88" height="6.91" fill="#e6cf42"/>
<rect x="228.41" y="318.02" width="6.87" height="6.91" fill="#e6b716"/>
<rect x="234.99" y="318.02" width="6.87" height="6.91" fill="#eb7308"/>
<rect x="241.56" y="318.02" width="6.88" height="6.91" fill="#e6b716"/>
<rect x="248.14" y="318.02" width="6.87" height="6.91" fill="#e69509"/>
<rect x="254.71" y="318.02" width="13.45" height="6.91" fill="#e6b716"/>
<rect x="267.86" y="318.02" width="6.87" height="6.91" fill="#e69509"/>
<rect x="274.44" y="318.02" width="6.87" height="6.91" fill="#ad366e"/>
<rect x="281.01" y="318.02" width="6.88" height="6.91" fill="#eb7308"/>
<rect x="287.59" y="318.02" width="13.45" height="6.91" fill="#141444"/>
<rect x="300.74" y="318.02" width="13.45" height="6.91" fill="#5728b7"/>
<rect x="313.89" y="318.02" width="13.45" height="6.91" fill="#141444"/>
<rect x="327.04" y="318.02" width="6.87" height="6.91" fill="#5728b7"/>
<rect x="333.61" y="318.02" width="6.87" height="6.91" fill="#141444"/>
<rect x="340.19" y="318.02" width="6.87" height="6.91" fill="#e6b716"/>
<rect x="346.76" y="318.02" width="6.87" height="6.91" fill="#f8511c"/>
<rect x="353.34" y="318.02" width="6.88" height="6.91" fill="#e69509"/>
<rect x="359.91" y="318.02" width="6.87" height="6.91" fill="#e6b716"/>
<rect x="366.49" y="318.02" width="6.87" height="6.91" fill="#e69509"/>
<rect x="373.06" y="318.02" width="6.87" height="6.91" fill="#e6cf42"/>
<rect x="379.64" y="318.02" width="6.87" height="6.91" fill="#e69509"/>
<rect x="386.21" y="318.02" width="20.03" height="6.91" fill="#f8511c"/>
<rect x="405.94" y="318.02" width="6.88" height="6.91" fill="#eb7308"/>
<rect x="412.51" y="318.02" width="6.87" height="6.91" fill="#ad366e"/>
<rect x="419.09" y="318.02" width="6.88" height="6.91" fill="#e69509"/>
<rect x="425.66" y="318.02" width="13.45" height="6.91" fill="#eb7308"/>
<rect x="438.81" y="318.02" width="6.88" height="6.91" fill="#e6cf42"/>
<rect x="445.39" y="318.02" width="6.87" height="6.91" fill="#f1f1bb"/>
<rect x="451.96" y="318.02" width="6.88" height="6.91" fill="#e6e379"/>
<rect x="458.54" y="318.02" width="6.87" height="6.91" fill="#e6cf42"/>
<rect x="465.11" y="318.02" width="13.45" height="6.91" fill="#f8511c"/>
<rect x="478.26" y="318.02" width="13.45" height="6.91" fill="#eb7308"/>
<rect x="491.41" y="318.02" width="6.87" height="6.91" fill="#e69509"/>
<rect x="497.99" y="318.02" width="6.87" height="6.91" fill="#802f95"/>
<rect x="504.56" y="318.02" width="6.87" height="6.91" fill="#ad366e"/>
<rect x="511.14" y="318.02" width="7.66" height="6.91" fill="#eb7308"/>
<rect x="50.50" y="324.63" width="7.26" height="6.91" fill="#e69509"/>
<rect x="57.46" y="324.63" width="6.87" height="6.91" fill="#ad366e"/>
<rect x="64.04" y="324.63" width="6.87" height="6.91" fill="#e6cf42"/>
<rect x="70.61" y="324.63" width="13.45" height="6.91" fill="#5728b7"/>
<rect x="83.76" y="324.63" width="6.87" height="6.91" fill="#802f95"/>
<rect x="90.34" y="324.63" width="6.88" height="6.91" fill="#e6b716"/>
<rect x="96.91" y="324.63" width="6.87" height="6.91" fill="#ad366e"/>
<rect x="103.49" y="324.63" width="13.45" height="6.91" fill="#5728b7"/>
<rect x="116.64" y="324.63" width="13.45" height="6.91" fill="#eb7308"/>
<rect x="129.79" y="324.63" width="6.87" height="6.91" fill="#802f95"/>
<rect x="136.36" y="324.63" width="6.88" height="6.91" fill="#ad366e"/>
<rect x="142.94" y="324.63" width="6.87" height="6.91" fill="#5728b7"/>
<rect x="149.51" y="324.63" width="6.87" height="6.91" fill="#ad366e"/>
<rect x="156.09" y="324.63" width="6.88" height="6.91" fill="#e69509"/>
<rect x="162.66" y="324.63" width="13.45" height="6.91" fill="#5728b7"/>
<rect x="175.81" y="324.63" width="6.88" height="6.91" fill="#ad366e"/>
<rect x="182.39" y="324.63" width="6.88" height="6.91" fill="#eb7308"/>
<rect x="188.96" y="324.63" width="6.87" height="6.91" fill="#f1f1bb"/>
<rect x="195.54" y="324.63" width="6.87" height="6.91" fill="#141444"/>
<rect x="202.11" y="324.63" width="13.45" height="6.91" fill="#5728b7"/>
<rect x="215.26" y="324.63" width="6.87" height="6.91" fill="#eb7308"/>
<rect x="221.84" y="324.63" width="6.88" height="6.91" fill="#e69509"/>
<rect x="228.41" y="324.63" width="6.87" height="6.91" fill="#ad366e"/>
<rect x="234.99" y="324.63" width="6.87" height="6.91" fill="#5728b7"/>
<rect x="241.56" y="324.63" width="6.88" height="6.91" fill="#802f95"/>
<rect x="248.14" y="324.63" width="6.87" height="6.91" fill="#eb7308"/>
<rect x="254.71" y="324.63" width="6.88" height="6.91" fill="#5728b7"/>
<rect x="261.29" y="324.63" width="13.45" height="6.91" fill="#ad366e"/>
<rect x="274.44" y="324.63" width="6.87" height="6.91" fill="#802f95"/>
<rect x="281.01" y="324.63" width="6.88" height="6.91" fill="#ad366e"/>
<rect x="287.59" y="324.63" width="6.87" height="6.91" fill="#5728b7"/>
<rect x="294.16" y="324.63" width="6.87" height="6.91" fill="#141444"/>
<rect x="300.74" y="324.63" width="6.87" height="6.91" fill="#5728b7"/>
<rect x="307.31" y="324.63" width="6.87" height="6.91" fill="#e6b716"/>
<rect x="313.89" y="324.63" width="6.88" height="6.91" fill="#5728b7"/>
<rect x="320.46" y="324.63" width="6.87" height="6.91" fill="#141444"/>
<rect x="327.04" y="324.63" width="6.87" height="6.91" fill="#3d26a6"/>
<rect x="333.61" y="324.63" width="6.87" height="6.91" fill="#141444"/>
<rect x="340.19" y="324.63" width="6.87" height="6.91" fill="#5728b7"/>
<rect x="346.76" y="324.63" width="6.87" height="6.91" fill="#802f95"/>
<rect x="353.34" y="324.63" width="6.88" height="6.91" fill="#5728b7"/>
<rect x="359.91" y="324.63" width="6.87" height="6.91" fill="#802f95"/>
<rect x="366.49" y="324.63" width="13.45" height="6.91" fill="#ad366e"/>
<rect x="379.64" y="324.63" width="20.03" height="6.91" fill="#eb7308"/>
<rect x="399.36" y="324.63" width="6.87" height="6.91" fill="#e43c3e"/>
<rect x="405.94" y="324.63" width="6.88" height="6.91" fill="#ad366e"/>
<rect x="412.51" y="324.63" width="13.45" height="6.91" fill="#eb7308"/>
<rect x="425.66" y="324.63" width="13.45" height="6.91" fill="#f8511c"/>
<rect x="438.81" y="324.63" width="39.75" height="6.91" fill="#e6e379"/>
<rect x="478.26" y="324.63" width="13.45" height="6.91" fill="#e6cf42"/>
<rect x="491.41" y="324.63" width="6.87" height="6.91" fill="#f8511c"/>
<rect x="497.99" y="324.63" width="6.87" height="6.91" fill="#eb7308"/>
<rect x="504.56" y="324.63" width="6.87" height="6.91" fill="#5728b7"/>
<rect x="511.14" y="324.63" width="7.66" height="6.91" fill="#802f95"/>
<rect x="50.50" y="331.24" width="20.41" height="6.91" fill="#5728b7"/>
<rect x="70.61" y="331.24" width="6.88" height="6.91" fill="#ad366e"/>
<rect x="77.19" y="331.24" width="20.02" height="6.91" fill="#5728b7"/>
<rect x="96.91" y="331.24" width="6.87" height="6.91" fill="#ad366e"/>
<rect x="103.49" y="331.24" width="6.88" height="6.91" fill="#802f95"/>
<rect x="110.06" y="331.24" width="6.87" height="6.91" fill="#3d26a6"/>
<rect x="116.64" y="331.24" width="33.17" height="6.91" fill="#5728b7"/>
<rect x="149.51" y="331.24" width="6.87" height="6.91" fill="#802f95"/>
<rect x="156.09" y="331.24" width="6.88" height="6.91" fill="#5728b7"/>
<rect x="162.66" y="331.24" width="6.87" height="6.91" fill="#3d26a6"/>
<rect x="169.24" y="331.24" width="6.87" height="6.91" fill="#5728b7"/>
<rect x="175.81" y="331.24" width="6.88" height="6.91" fill="#802f95"/>
<rect x="182.39" y="331.24" width="6.88" height="6.91" fill="#5728b7"/>
<rect x="188.96" y="331.24" width="6.87" height="6.91" fill="#e6b716"/>
<rect x="195.54" y="331.24" width="6.87" height="6.91" fill="#e6cf42"/>
<rect x="202.11" y="331.24" width="6.87" height="6.91" fill="#3d26a6"/>
<rect x="208.69" y="331.24" width="6.88" height="6.91" fill="#141444"/>
<rect x="215.26" y="331.24" width="6.87" height="6.91" fill="#e6cf42"/>
<rect x="221.84" y="331.24" width="6.88" height="6.91" fill="#5728b7"/>
<rect x="228.41" y="331.24" width="6.87" height="6.91" fill="#3d26a6"/>
<rect x="234.99" y="331.24" width="20.02" height="6.91" fill="#5728b7"/>
<rect x="254.71" y="331.24" width="6.88" height="6.91" fill="#802f95"/>
<rect x="261.29" y="331.24" width="6.87" height="6.91" fill="#3d26a6"/>
<rect x="267.86" y="331.24" width="6.87" height="6.91" fill="#5728b7"/>
<rect x="274.44" y="331.24" width="6.87" height="6.91" fill="#802f95"/>
<rect x="281.01" y="331.24" width="6.88" height="6.91" fill="#ad366e"/>
<rect x="287.59" y="331.24" width="13.45" height="6.91" fill="#e6b716"/>
<rect x="300.74" y="331.24" width="6.87" height="6.91" fill="#141444"/>
<rect x="307.31" y="331.24" width="6.87" height="6.91" fill="#e6cf42"/>
<rect x="313.89" y="331.24" width="6.88" height="6.91" fill="#f8511c"/>
<rect x="320.46" y="331.24" width="20.02" height="6.91" fill="#5728b7"/>
<rect x="340.19" y="331.24" width="6.87" height="6.91" fill="#eb7308"/>
<rect x="346.76" y="331.24" width="6.87" height="6.91" fill="#802f95"/>
<rect x="353.34" y="331.24" width="6.88" height="6.91" fill="#5728b7"/>
<rect x="359.91" y="331.24" width="6.87" height="6.91" fill="#802f95"/>
<rect x="366.49" y="331.24" width="6.87" height="6.91" fill="#ad366e"/>
<rect x="373.06" y="331.24" width="6.87" height="6.91" fill="#802f95"/>
<rect x="379.64" y="331.24" width="13.45" height="6.91" fill="#eb7308"/>
<rect x="392.79" y="331.24" width="13.45" height="6.91" fill="#ad366e"/>
<rect x="405.94" y="331.24" width="13.45" height="6.91" fill="#eb7308"/>
<rect x="419.09" y="331.24" width="13.45" height="6.91" fill="#f8511c"/>
<rect x="432.24" y="331.24" width="6.87" height="6.91" fill="#eb7308"/>
<rect x="438.81" y="331.24" width="46.32" height="6.91" fill="#e6e379"/>
<rect x="484.84" y="331.24" width="13.45" height="6.91" fill="#ad366e"/>
<rect x="497.99" y="331.24" width="6.87" height="6.91" fill="#5728b7"/>
<rect x="504.56" y="331.24" width="14.24" height="6.91" fill="#ad366e"/>
<rect x="50.50" y="337.85" width="13.84" height="6.91" fill="#5728b7"/>
<rect x="64.04" y="337.85" width="6.87" height="6.91" fill="#3d26a6"/>
<rect x="70.61" y="337.85" width="6.88" height="6.91" fill="#e43c3e"/>
<rect x="77.19" y="337.85" width="13.45" height="6.91" fill="#5728b7"/>
<rect x="90.34" y="337.85" width="6.88" height="6.91" fill="#292684"/>
<rect x="96.91" y="337.85" width="6.87" height="6.91" fill="#802f95"/>
<rect x="103.49" y="337.85" width="6.88" height="6.91" fill="#5728b7"/>
<rect x="110.06" y="337.85" width="6.87" height="6.91" fill="#292684"/>
<rect x="116.64" y="337.85" width="6.87" height="6.91" fill="#5728b7"/>
<rect x="123.21" y="337.85" width="6.88" height="6.91" fill="#3d26a6"/>
<rect x="129.79" y="337.85" width="26.60" height="6.91" fill="#5728b7"/>
<rect x="156.09" y="337.85" width="13.45" height="6.91" fill="#3d26a6"/>
<rect x="169.24" y="337.85" width="6.87" height="6.91" fill="#802f95"/>
<rect x="175.81" y="337.85" width="6.88" height="6.91" fill="#ad366e"/>
<rect x="182.39" y="337.85" width="6.88" height="6.91" fill="#5728b7"/>
<rect x="188.96" y="337.85" width="20.02" height="6.91" fill="#e6cf42"/>
<rect x="208.69" y="337.85" width="13.45" height="6.91" fill="#5728b7"/>
<rect x="221.84" y="337.85" width="13.45" height="6.91" fill="#3d26a6"/>
<rect x="234.99" y="337.85" width="6.87" height="6.91" fill="#5728b7"/>
<rect x="241.56" y="337.85" width="13.45" height="6.91" fill="#3d26a6"/>
<rect x="254.71" y="337.85" width="6.88" height="6.91" fill="#292684"/>
<rect x="261.29" y="337.85" width="6.87" height="6.91" fill="#5728b7"/>
<rect x="267.86" y="337.85" width="6.87" height="6.91" fill="#3d26a6"/>
<rect x="274.44" y="337.85" width="6.87" height="6.91" fill="#292684"/>
<rect x="281.01" y="337.85" width="13.45" height="6.91" fill="#5728b7"/>
<rect x="294.16" y="337.85" width="6.87" height="6.91" fill="#141444"/>
<rect x="300.74" y="337.85" width="6.87" height="6.91" fill="#5728b7"/>
<rect x="307.31" y="337.85" width="6.87" height="6.91" fill="#e43c3e"/>
<rect x="313.89" y="337.85" width="6.88" height="6.91" fill="#802f95"/>
<rect x="320.46" y="337.85" width="6.87" height="6.91" fill="#5728b7"/>
<rect x="327.04" y="337.85" width="6.87" height="6.91" fill="#141444"/>
<rect x="333.61" y="337.85" width="6.87" height="6.91" fill="#5728b7"/>
<rect x="340.19" y="337.85" width="13.45" height="6.91" fill="#141444"/>
<rect x="353.34" y="337.85" width="13.45" height="6.91" fill="#5728b7"/>
<rect x="366.49" y="337.85" width="6.87" height="6.91" fill="#802f95"/>
<rect x="373.06" y="337.85" width="6.87" height="6.91" fill="#5728b7"/>
<rect x="379.64" y="337.85" width="6.87" height="6.91" fill="#802f95"/>
<rect x="386.21" y="337.85" width="6.88" height="6.91" fill="#5728b7"/>
<rect x="392.79" y="337.85" width="6.87" height="6.91" fill="#ad366e"/>
<rect x="399.36" y="337.85" width="6.87" height="6.91" fill="#802f95"/>
<rect x="405.94" y="337.85" width="13.45" height="6.91" fill="#ad366e"/>
<rect x="419.09" y="337.85" width="6.88" height="6.91" fill="#802f95"/>
<rect x="425.66" y="337.85" width="6.87" height="6.91" fill="#5728b7"/>
<rect x="432.24" y="337.85" width="6.87" height="6.91" fill="#ad366e"/>
<rect x="438.81" y="337.85" width="20.03" height="6.91" fill="#e6e379"/>
<rect x="458.54" y="337.85" width="33.17" height="6.91" fill="#e6cf42"/>
<rect x="491.41" y="337.85" width="6.87" height="6.91" fill="#ad366e"/>
<rect x="497.99" y="337.85" width="6.87" height="6.91" fill="#5728b7"/>
<rect x="504.56" y="337.85" width="6.87" height="6.91" fill="#ad366e"/>
<rect x="511.14" y="337.85" width="7.66" height="6.91" fill="#141444"/>
<rect x="50.50" y="344.46" width="7.26" height="6.91" fill="#e43c3e"/>
<rect x="57.46" y="344.46" width="6.87" height="6.91" fill="#ad366e"/>
<rect x="64.04" y="344.46" width="6.87" height="6.91" fill="#292684"/>
<rect x="70.61" y="344.46" width="6.88" height="6.91" fill="#5728b7"/>
<rect x="77.19" y="344.46" width="6.87" height="6.91" fill="#802f95"/>
<rect x="83.76" y="344.46" width="6.87" height="6.91" fill="#292684"/>
<rect x="90.34" y="344.46" width="6.88" height="6.91" fill="#e69509"/>
<rect x="96.91" y="344.46" width="6.87" height="6.91" fill="#5728b7"/>
<rect x="103.49" y="344.46" width="6.88" height="6.91" fill="#802f95"/>
<rect x="110.06" y="344.46" width="6.87" height="6.91" fill="#ad366e"/>
<rect x="116.64" y="344.46" width="13.45" height="6.91" fill="#5728b7"/>
<rect x="129.79" y="344.46" width="6.87" height="6.91" fill="#802f95"/>
<rect x="136.36" y="344.46" width="6.88" height="6.91" fill="#292684"/>
<rect x="142.94" y="344.46" width="13.45" height="6.91" fill="#5728b7"/>
<rect x="156.09" y="344.46" width="6.88" height="6.91" fill="#3d26a6"/>
<rect x="162.66" y="344.46" width="6.87" height="6.91" fill="#ad366e"/>
<rect x="169.24" y="344.46" width="6.87" height="6.91" fill="#3d26a6"/>
<rect x="175.81" y="344.46" width="6.88" height="6.91" fill="#eb7308"/>
<rect x="182.39" y="344.46" width="6.88" height="6.91" fill="#ad366e"/>
<rect x="188.96" y="344.46" width="6.87" height="6.91" fill="#141444"/>
<rect x="195.54" y="344.46" width="13.45" height="6.91" fill="#e6cf42"/>
<rect x="208.69" y="344.46" width="6.88" height="6.91" fill="#e69509"/>
<rect x="215.26" y="344.46" width="13.45" height="6.91" fill="#5728b7"/>
<rect x="228.41" y="344.46" width="20.02" height="6.91" fill="#3d26a6"/>
<rect x="248.14" y="344.46" width="6.87" height="6.91" fill="#141444"/>
<rect x="254.71" y="344.46" width="20.02" height="6.91" fill="#3d26a6"/>
<rect x="274.44" y="344.46" width="6.87" height="6.91" fill="#141444"/>
<rect x="281.01" y="344.46" width="13.45" height="6.91" fill="#5728b7"/>
<rect x="294.16" y="344.46" width="6.87" height="6.91" fill="#3d26a6"/>
<rect x="300.74" y="344.46" width="6.87" height="6.91" fill="#5728b7"/>
<rect x="307.31" y="344.46" width="6.87" height="6.91" fill="#802f95"/>
<rect x="313.89" y="344.46" width="6.88" height="6.91" fill="#141444"/>
<rect x="320.46" y="344.46" width="6.87" height="6.91" fill="#3d26a6"/>
<rect x="327.04" y="344.46" width="6.87" height="6.91" fill="#5728b7"/>
<rect x="333.61" y="344.46" width="13.45" height="6.91" fill="#141444"/>
<rect x="346.76" y="344.46" width="6.87" height="6.91" fill="#3d26a6"/>
<rect x="353.34" y="344.46" width="13.45" height="6.91" fill="#5728b7"/>
<rect x="366.49" y="344.46" width="6.87" height="6.91" fill="#802f95"/>
<rect x="373.06" y="344.46" width="6.87" height="6.91" fill="#141444"/>
<rect x="379.64" y="344.46" width="13.45" height="6.91" fill="#5728b7"/>
<rect x="392.79" y="344.46" width="6.87" height="6.91" fill="#802f95"/>
<rect x="399.36" y="344.46" width="13.45" height="6.91" fill="#5728b7"/>
<rect x="412.51" y="344.46" width="6.87" height="6.91" fill="#141444"/>
<rect x="419.09" y="344.46" width="26.60" height="6.91" fill="#5728b7"/>
<rect x="445.39" y="344.46" width="6.87" height="6.91" fill="#802f95"/>
<rect x="451.96" y="344.46" width="6.88" height="6.91" fill="#eb7308"/>
<rect x="458.54" y="344.46" width="6.87" height="6.91" fill="#ad366e"/>
<rect x="465.11" y="344.46" width="13.45" height="6.91" fill="#eb7308"/>
<rect x="478.26" y="344.46" width="6.87" height="6.91" fill="#f8511c"/>
<rect x="484.84" y="344.46" width="6.88" height="6.91" fill="#e69509"/>
<rect x="491.41" y="344.46" width="6.87" height="6.91" fill="#ad366e"/>
<rect x="497.99" y="344.46" width="6.87" height="6.91" fill="#f8511c"/>
<rect x="504.56" y="344.46" width="14.24" height="6.91" fill="#ad366e"/>
<rect x="50.50" y="351.06" width="13.84" height="6.91" fill="#eb7308"/>
<rect x="64.04" y="351.06" width="26.60" height="6.91" fill="#f8511c"/>
<rect x="90.34" y="351.06" width="6.88" height="6.91" fill="#e69509"/>
<rect x="96.91" y="351.06" width="6.87" height="6.91" fill="#eb7308"/>
<rect x="103.49" y="351.06" width="39.75" height="6.91" fill="#f8511c"/>
<rect x="142.94" y="351.06" width="33.17" height="6.91" fill="#ad366e"/>
<rect x="175.81" y="351.06" width="6.88" height="6.91" fill="#eb7308"/>
<rect x="182.39" y="351.06" width="6.88" height="6.91" fill="#f8511c"/>
<rect x="188.96" y="351.06" width="6.87" height="6.91" fill="#eb7308"/>
<rect x="195.54" y="351.06" width="13.45" height="6.91" fill="#e6cf42"/>
<rect x="208.69" y="351.06" width="13.45" height="6.91" fill="#eb7308"/>
<rect x="221.84" y="351.06" width="6.88" height="6.91" fill="#ad366e"/>
<rect x="228.41" y="351.06" width="6.87" height="6.91" fill="#e43c3e"/>
<rect x="234.99" y="351.06" width="6.87" height="6.91" fill="#f8511c"/>
<rect x="241.56" y="351.06" width="26.60" height="6.91" fill="#e43c3e"/>
<rect x="267.86" y="351.06" width="6.87" height="6.91" fill="#f8511c"/>
<rect x="274.44" y="351.06" width="6.87" height="6.91" fill="#141444"/>
<rect x="281.01" y="351.06" width="13.45" height="6.91" fill="#5728b7"/>
<rect x="294.16" y="351.06" width="6.87" height="6.91" fill="#292684"/>
<rect x="300.74" y="351.06" width="13.45" height="6.91" fill="#3d26a6"/>
<rect x="313.89" y="351.06" width="13.45" height="6.91" fill="#5728b7"/>
<rect x="327.04" y="351.06" width="6.87" height="6.91" fill="#3d26a6"/>
<rect x="333.61" y="351.06" width="6.87" height="6.91" fill="#5728b7"/>
<rect x="340.19" y="351.06" width="6.87" height="6.91" fill="#802f95"/>
<rect x="346.76" y="351.06" width="6.87" height="6.91" fill="#5728b7"/>
<rect x="353.34" y="351.06" width="13.45" height="6.91" fill="#3d26a6"/>
<rect x="366.49" y="351.06" width="6.87" height="6.91" fill="#141444"/>
<rect x="373.06" y="351.06" width="6.87" height="6.91" fill="#3d26a6"/>
<rect x="379.64" y="351.06" width="6.87" height="6.91" fill="#5728b7"/>
<rect x="386.21" y="351.06" width="6.88" height="6.91" fill="#802f95"/>
<rect x="392.79" y="351.06" width="6.87" height="6.91" fill="#ad366e"/>
<rect x="399.36" y="351.06" width="6.87" height="6.91" fill="#5728b7"/>
<rect x="405.94" y="351.06" width="6.88" height="6.91" fill="#3d26a6"/>
<rect x="412.51" y="351.06" width="6.87" height="6.91" fill="#141444"/>
<rect x="419.09" y="351.06" width="6.88" height="6.91" fill="#5728b7"/>
<rect x="425.66" y="351.06" width="6.87" height="6.91" fill="#3d26a6"/>
<rect x="432.24" y="351.06" width="13.45" height="6.91" fill="#5728b7"/>
<rect x="445.39" y="351.06" width="6.87" height="6.91" fill="#f8511c"/>
<rect x="451.96" y="351.06" width="6.88" height="6.91" fill="#eb7308"/>
<rect x="458.54" y="351.06" width="6.87" height="6.91" fill="#ad366e"/>
<rect x="465.11" y="351.06" width="26.60" height="6.91" fill="#eb7308"/>
<rect x="491.41" y="351.06" width="27.39" height="6.91" fill="#f8511c"/>
<rect x="50.50" y="357.67" width="7.26" height="6.91" fill="#e43c3e"/>
<rect x="57.46" y="357.67" width="6.87" height="6.91" fill="#ad366e"/>
<rect x="64.04" y="357.67" width="6.87" height="6.91" fill="#eb7308"/>
<rect x="70.61" y="357.67" width="6.88" height="6.91" fill="#5728b7"/>
<rect x="77.19" y="357.67" width="6.87" height="6.91" fill="#802f95"/>
<rect x="83.76" y="357.67" width="6.87" height="6.91" fill="#5728b7"/>
<rect x="90.34" y="357.67" width="13.45" height="6.91" fill="#e6cf42"/>
<rect x="103.49" y="357.67" width="6.88" height="6.91" fill="#e69509"/>
<rect x="110.06" y="357.67" width="6.87" height="6.91" fill="#802f95"/>
<rect x="116.64" y="357.67" width="6.87" height="6.91" fill="#ad366e"/>
<rect x="123.21" y="357.67" width="6.88" height="6.91" fill="#802f95"/>
<rect x="129.79" y="357.67" width="6.87" height="6.91" fill="#e69509"/>
<rect x="136.36" y="357.67" width="6.88" height="6.91" fill="#eb7308"/>
<rect x="142.94" y="357.67" width="6.87" height="6.91" fill="#e43c3e"/>
<rect x="149.51" y="357.67" width="20.02" height="6.91" fill="#eb7308"/>
<rect x="169.24" y="357.67" width="13.45" height="6.91" fill="#f8511c"/>
<rect x="182.39" y="357.67" width="13.45" height="6.91" fill="#eb7308"/>
<rect x="195.54" y="357.67" width="6.87" height="6.91" fill="#141444"/>
<rect x="202.11" y="357.67" width="6.87" height="6.91" fill="#e6cf42"/>
<rect x="208.69" y="357.67" width="6.88" height="6.91" fill="#e69509"/>
<rect x="215.26" y="357.67" width="6.87" height="6.91" fill="#eb7308"/>
<rect x="221.84" y="357.67" width="6.88" height="6.91" fill="#141444"/>
<rect x="228.41" y="357.67" width="6.87" height="6.91" fill="#ad366e"/>
<rect x="234.99" y="357.67" width="6.87" height="6.91" fill="#802f95"/>
<rect x="241.56" y="357.67" width="6.88" height="6.91" fill="#ad366e"/>
<rect x="248.14" y="357.67" width="6.87" height="6.91" fill="#141444"/>
<rect x="254.71" y="357.67" width="6.88" height="6.91" fill="#802f95"/>
<rect x="261.29" y="357.67" width="6.87" height="6.91" fill="#ad366e"/>
<rect x="267.86" y="357.67" width="6.87" height="6.91" fill="#e43c3e"/>
<rect x="274.44" y="357.67" width="6.87" height="6.91" fill="#802f95"/>
<rect x="281.01" y="357.67" width="6.88" height="6.91" fill="#141444"/>
<rect x="287.59" y="357.67" width="6.87" height="6.91" fill="#5728b7"/>
<rect x="294.16" y="357.67" width="6.87" height="6.91" fill="#802f95"/>
<rect x="300.74" y="357.67" width="6.87" height="6.91" fill="#5728b7"/>
<rect x="307.31" y="357.67" width="6.87" height="6.91" fill="#eb7308"/>
<rect x="313.89" y="357.67" width="6.88" height="6.91" fill="#5728b7"/>
<rect x="320.46" y="357.67" width="20.02" height="6.91" fill="#141444"/>
<rect x="340.19" y="357.67" width="13.45" height="6.91" fill="#5728b7"/>
<rect x="353.34" y="357.67" width="6.88" height="6.91" fill="#141444"/>
<rect x="359.91" y="357.67" width="6.87" height="6.91" fill="#3d26a6"/>
<rect x="366.49" y="357.67" width="20.02" height="6.91" fill="#5728b7"/>
<rect x="386.21" y="357.67" width="6.88" height="6.91" fill="#802f95"/>
<rect x="392.79" y="357.67" width="6.87" height="6.91" fill="#ad366e"/>
<rect x="399.36" y="357.67" width="13.45" height="6.91" fill="#5728b7"/>
<rect x="412.51" y="357.67" width="6.87" height="6.91" fill="#141444"/>
<rect x="419.09" y="357.67" width="6.88" height="6.91" fill="#eb7308"/>
<rect x="425.66" y="357.67" width="6.87" height="6.91" fill="#141444"/>
<rect x="432.24" y="357.67" width="6.87" height="6.91" fill="#5728b7"/>
<rect x="438.81" y="357.67" width="6.88" height="6.91" fill="#eb7308"/>
<rect x="445.39" y="357.67" width="6.87" height="6.91" fill="#f8511c"/>
<rect x="451.96" y="357.67" width="6.88" height="6.91" fill="#eb7308"/>
<rect x="458.54" y="357.67" width="6.87" height="6.91" fill="#f8511c"/>
<rect x="465.11" y="357.67" width="6.87" height="6.91" fill="#eb7308"/>
<rect x="471.69" y="357.67" width="6.88" height="6.91" fill="#5728b7"/>
<rect x="478.26" y="357.67" width="6.87" height="6.91" fill="#eb7308"/>
<rect x="484.84" y="357.67" width="13.45" height="6.91" fill="#ad366e"/>
<rect x="497.99" y="357.67" width="13.45" height="6.91" fill="#5728b7"/>
<rect x="511.14" y="357.67" width="7.66" height="6.91" fill="#e6b716"/>
<rect x="50.50" y="364.28" width="7.26" height="6.91" fill="#e43c3e"/>
<rect x="57.46" y="364.28" width="6.87" height="6.91" fill="#e69509"/>
<rect x="64.04" y="364.28" width="6.87" height="6.91" fill="#eb7308"/>
<rect x="70.61" y="364.28" width="20.02" height="6.91" fill="#141444"/>
<rect x="90.34" y="364.28" width="6.88" height="6.91" fill="#e6cf42"/>
<rect x="96.91" y="364.28" width="13.45" height="6.91" fill="#5728b7"/>
<rect x="110.06" y="364.28" width="6.87" height="6.91" fill="#eb7308"/>
<rect x="116.64" y="364.28" width="13.45" height="6.91" fill="#141444"/>
<rect x="129.79" y="364.28" width="6.87" height="6.91" fill="#e43c3e"/>
<rect x="136.36" y="364.28" width="6.88" height="6.91" fill="#eb7308"/>
<rect x="142.94" y="364.28" width="13.45" height="6.91" fill="#f8511c"/>
<rect x="156.09" y="364.28" width="6.88" height="6.91" fill="#e6b716"/>
<rect x="162.66" y="364.28" width="6.87" height="6.91" fill="#e6cf42"/>
<rect x="169.24" y="364.28" width="13.45" height="6.91" fill="#e69509"/>
<rect x="182.39" y="364.28" width="13.45" height="6.91" fill="#eb7308"/>
<rect x="195.54" y="364.28" width="6.87" height="6.91" fill="#141444"/>
<rect x="202.11" y="364.28" width="6.87" height="6.91" fill="#e6b716"/>
<rect x="208.69" y="364.28" width="26.60" height="6.91" fill="#141444"/>
<rect x="234.99" y="364.28" width="6.87" height="6.91" fill="#e43c3e"/>
<rect x="241.56" y="364.28" width="6.88" height="6.91" fill="#000000"/>
<rect x="248.14" y="364.28" width="6.87" height="6.91" fill="#e43c3e"/>
<rect x="254.71" y="364.28" width="6.88" height="6.91" fill="#141444"/>
<rect x="261.29" y="364.28" width="6.87" height="6.91" fill="#e43c3e"/>
<rect x="267.86" y="364.28" width="26.60" height="6.91" fill="#141444"/>
<rect x="294.16" y="364.28" width="13.45" height="6.91" fill="#eb7308"/>
<rect x="307.31" y="364.28" width="13.45" height="6.91" fill="#e43c3e"/>
<rect x="320.46" y="364.28" width="13.45" height="6.91" fill="#3d26a6"/>
<rect x="333.61" y="364.28" width="6.87" height="6.91" fill="#5728b7"/>
<rect x="340.19" y="364.28" width="6.87" height="6.91" fill="#e6b716"/>
<rect x="346.76" y="364.28" width="6.87" height="6.91" fill="#141444"/>
<rect x="353.34" y="364.28" width="6.88" height="6.91" fill="#e43c3e"/>
<rect x="359.91" y="364.28" width="6.87" height="6.91" fill="#3d26a6"/>
<rect x="366.49" y="364.28" width="6.87" height="6.91" fill="#141444"/>
<rect x="373.06" y="364.28" width="20.03" height="6.91" fill="#5728b7"/>
<rect x="392.79" y="364.28" width="6.87" height="6.91" fill="#141444"/>
<rect x="399.36" y="364.28" width="13.45" height="6.91" fill="#3d26a6"/>
<rect x="412.51" y="364.28" width="6.87" height="6.91" fill="#141444"/>
<rect x="419.09" y="364.28" width="6.88" height="6.91" fill="#ad366e"/>
<rect x="425.66" y="364.28" width="6.87" height="6.91" fill="#e6cf42"/>
<rect x="432.24" y="364.28" width="20.02" height="6.91" fill="#5728b7"/>
<rect x="451.96" y="364.28" width="6.88" height="6.91" fill="#ad366e"/>
<rect x="458.54" y="364.28" width="6.87" height="6.91" fill="#eb7308"/>
<rect x="465.11" y="364.28" width="6.87" height="6.91" fill="#f8511c"/>
<rect x="471.69" y="364.28" width="13.45" height="6.91" fill="#ad366e"/>
<rect x="484.84" y="364.28" width="6.88" height="6.91" fill="#eb7308"/>
<rect x="491.41" y="364.28" width="6.87" height="6.91" fill="#5728b7"/>
<rect x="497.99" y="364.28" width="6.87" height="6.91" fill="#ad366e"/>
<rect x="504.56" y="364.28" width="14.24" height="6.91" fill="#eb7308"/>
<rect x="50.50" y="370.89" width="13.84" height="6.91" fill="#5728b7"/>
<rect x="64.04" y="370.89" width="6.87" height="6.91" fill="#3d26a6"/>
<rect x="70.61" y="370.89" width="6.88" height="6.91" fill="#141444"/>
<rect x="77.19" y="370.89" width="6.87" height="6.91" fill="#802f95"/>
<rect x="83.76" y="370.89" width="6.87" height="6.91" fill="#5728b7"/>
<rect x="90.34" y="370.89" width="6.88" height="6.91" fill="#3d26a6"/>
<rect x="96.91" y="370.89" width="6.87" height="6.91" fill="#5728b7"/>
<rect x="103.49" y="370.89" width="20.02" height="6.91" fill="#141444"/>
<rect x="123.21" y="370.89" width="6.88" height="6.91" fill="#e43c3e"/>
<rect x="129.79" y="370.89" width="6.87" height="6.91" fill="#141444"/>
<rect x="136.36" y="370.89" width="6.88" height="6.91" fill="#000000"/>
<rect x="142.94" y="370.89" width="6.87" height="6.91" fill="#ad366e"/>
<rect x="149.51" y="370.89" width="6.87" height="6.91" fill="#5728b7"/>
<rect x="156.09" y="370.89" width="6.88" height="6.91" fill="#3d26a6"/>
<rect x="162.66" y="370.89" width="6.87" height="6.91" fill="#141444"/>
<rect x="169.24" y="370.89" width="6.87" height="6.91" fill="#5728b7"/>
<rect x="175.81" y="370.89" width="20.03" height="6.91" fill="#141444"/>
<rect x="195.54" y="370.89" width="6.87" height="6.91" fill="#000000"/>
<rect x="202.11" y="370.89" width="6.87" height="6.91" fill="#141444"/>
<rect x="208.69" y="370.89" width="6.88" height="6.91" fill="#eb7308"/>
<rect x="215.26" y="370.89" width="6.87" height="6.91" fill="#802f95"/>
<rect x="221.84" y="370.89" width="13.45" height="6.91" fill="#000000"/>
<rect x="234.99" y="370.89" width="6.87" height="6.91" fill="#141444"/>
<rect x="241.56" y="370.89" width="6.88" height="6.91" fill="#000000"/>
<rect x="248.14" y="370.89" width="20.02" height="6.91" fill="#141444"/>
<rect x="267.86" y="370.89" width="13.45" height="6.91" fill="#000000"/>
<rect x="281.01" y="370.89" width="13.45" height="6.91" fill="#141444"/>
<rect x="294.16" y="370.89" width="6.87" height="6.91" fill="#5728b7"/>
<rect x="300.74" y="370.89" width="6.87" height="6.91" fill="#802f95"/>
<rect x="307.31" y="370.89" width="6.87" height="6.91" fill="#ad366e"/>
<rect x="313.89" y="370.89" width="26.60" height="6.91" fill="#141444"/>
<rect x="340.19" y="370.89" width="6.87" height="6.91" fill="#5728b7"/>
<rect x="346.76" y="370.89" width="13.45" height="6.91" fill="#141444"/>
<rect x="359.91" y="370.89" width="6.87" height="6.91" fill="#3d26a6"/>
<rect x="366.49" y="370.89" width="6.87" height="6.91" fill="#5728b7"/>
<rect x="373.06" y="370.89" width="6.87" height="6.91" fill="#3d26a6"/>
<rect x="379.64" y="370.89" width="13.45" height="6.91" fill="#5728b7"/>
<rect x="392.79" y="370.89" width="6.87" height="6.91" fill="#3d26a6"/>
<rect x="399.36" y="370.89" width="6.87" height="6.91" fill="#e43c3e"/>
<rect x="405.94" y="370.89" width="6.88" height="6.91" fill="#5728b7"/>
<rect x="412.51" y="370.89" width="20.02" height="6.91" fill="#141444"/>
<rect x="432.24" y="370.89" width="13.45" height="6.91" fill="#ad366e"/>
<rect x="445.39" y="370.89" width="6.87" height="6.91" fill="#5728b7"/>
<rect x="451.96" y="370.89" width="6.88" height="6.91" fill="#3d26a6"/>
<rect x="458.54" y="370.89" width="6.87" height="6.91" fill="#5728b7"/>
<rect x="465.11" y="370.89" width="6.87" height="6.91" fill="#f8511c"/>
<rect x="471.69" y="370.89" width="6.88" height="6.91" fill="#5728b7"/>
<rect x="478.26" y="370.89" width="6.87" height="6.91" fill="#eb7308"/>
<rect x="484.84" y="370.89" width="6.88" height="6.91" fill="#5728b7"/>
<rect x="491.41" y="370.89" width="6.87" height="6.91" fill="#141444"/>
<rect x="497.99" y="370.89" width="6.87" height="6.91" fill="#eb7308"/>
<rect x="504.56" y="370.89" width="6.87" height="6.91" fill="#ad366e"/>
<rect x="511.14" y="370.89" width="7.66" height="6.91" fill="#3d26a6"/></g>
<svg x="50.50" y="225.50" width="468.00" height="152.00" viewBox="-177.795 -57.502 355.894 115.003" preserveAspectRatio="none" overflow="hidden"><g fill="none" stroke="#000" stroke-width="1.7" stroke-linejoin="round" stroke-linecap="round" style="vector-effect:non-scaling-stroke"><path d="M-166 -54 L-162 -55 L-159 -56 L-156.5 -57.3 L-154 -58.5 L-152 -60 L-150 -61 L-147 -60.8 L-144 -60 L-140 -59.7 L-137 -58.5 L-135.5 -57.5 L-134 -56.5 L-132.5 -55.5 L-131 -54.5 L-130.2 -54 L-130 -53 L-128.5 -52.3 L-128 -51.2 L-127 -50.4 L-125.5 -49.7 L-124 -49.3 L-123 -49 L-122.8 -48 L-123.2 -47.2 L-124 -47 L-124 -46 L-124 -44 L-124.5 -42 L-124.2 -40.5 L-123.7 -39 L-122.5 -37.8 L-121.9 -36.6 L-121 -35.5 L-120.6 -34.5 L-118.5 -34 L-117.3 -33 L-117 -32.5 L-116.5 -31.5 L-116 -30.5 L-115 -29.5 L-114 -28.5 L-114.3 -27.5 L-113 -26.5 L-112 -25 L-112 -24.5 L-110.5 -23.5 L-109.5 -23 L-110 -24.2 L-110.7 -24.5 L-111.5 -26 L-112.5 -27.5 L-113.5 -29 L-114.5 -30.5 L-114.8 -31.7 L-113 -31.3 L-112 -29.5 L-111 -28 L-110 -27 L-109 -25.5 L-108 -25 L-106.5 -23.5 L-105.7 -22.5 L-105.3 -21.3 L-105.5 -20.4 L-104.5 -19.2 L-103.5 -18.3 L-101.5 -17.7 L-100 -17 L-98.5 -16.3 L-97 -15.8 L-95 -16 L-94 -16.2 L-93 -15.5 L-92 -14.5 L-91 -13.9 L-89.5 -13.5 L-88 -13.2 L-87.5 -13 L-86.5 -12 L-85.7 -11 L-85.8 -10.2 L-85 -9.8 L-84 -9 L-83 -8.3 L-82 -8.2 L-80.5 -7.3 L-80 -7.5 L-79.5 -8.8 L-78.5 -8.4 L-78 -7.5 L-77.5 -7 L-77.3 -5 L-77.5 -3.5 L-78.7 -1.5 L-80 -0.5 L-80.5 1 L-80 2.5 L-80.3 3.5 L-81.2 4.5 L-81 6 L-79.8 7 L-79 8.5 L-78 10 L-77 12 L-76 14 L-75 15.5 L-73 16.5 L-71.5 17.5 L-70.3 18.5 L-70.2 20 L-70.1 22 L-70.5 24 L-70.7 26 L-71.3 28.5 L-71.5 30 L-71.6 32 L-71.8 34 L-72.5 36 L-73.3 37.5 L-73.6 39 L-73.8 41 L-74 43 L-74.5 45 L-75.5 47 L-75.5 49 L-75 51 L-74.5 52.5 L-72 54 L-70 55 L-68 55.5 L-66.5 55 L-65 54.8 L-66.5 54.4 L-68.5 52.5 L-69 51 L-69 50 L-68 48.5 L-66.5 47.5 L-67.5 46 L-67 45 L-65.5 45 L-65 44 L-65 42.5 L-64 42.3 L-63.5 42.8 L-64.5 41 L-65 41 L-63 41 L-62 40 L-62.3 39 L-61 38.8 L-58 38.2 L-57.5 37.5 L-56.8 36.5 L-57.3 35.5 L-58.4 34.5 L-57.5 34.5 L-56 34.9 L-54.9 34.9 L-53.5 34 L-52.5 33 L-51 31 L-50 29.5 L-48.7 28 L-48.5 26 L-48 25.3 L-46.5 24 L-45 23.5 L-43 23 L-42 22.9 L-41 22 L-40.9 21 L-40 19.5 L-39.2 17.5 L-39 15 L-39 13.5 L-38.5 13 L-37 11 L-35.5 9.5 L-35 8 L-34.8 7 L-35.2 5.5 L-36.5 5 L-38 4 L-39.5 3 L-41 2.9 L-43 2.5 L-44.3 2.5 L-45 1.5 L-47 0.7 L-48.5 1 L-49 0.5 L-50 -0 L-50.5 -1.8 L-51.5 -4 L-52.5 -5.2 L-54 -5.8 L-56 -5.9 L-57.2 -6 L-58.5 -6.8 L-60 -8.3 L-61 -8.7 L-62 -10 L-62.5 -10.6 L-64 -10.6 L-66 -10.6 L-68 -10.5 L-69.5 -11.5 L-70.2 -11.8 L-71.5 -11 L-71.8 -12.3 L-72.5 -11.8 L-74 -11.2 L-75.5 -10.5 L-76 -9.4 L-77 -8.6 L-77.5 -8.7 L-78.5 -9.4 L-79.5 -9.6 L-80.5 -9 L-81.5 -8.8 L-82.5 -9.5 L-83.5 -10.8 L-83.7 -12 L-83.5 -14 L-83.2 -15 L-84.5 -15.8 L-86 -15.9 L-88 -15.8 L-88.5 -17 L-88.2 -18.5 L-87.5 -19.5 L-87 -21.5 L-88 -21.5 L-90.3 -21 L-90.5 -19.5 L-91.5 -18.5 L-93 -18.4 L-94.5 -18.2 L-95.5 -18.8 L-96.5 -19.8 L-97.3 -21 L-97.8 -22.5 L-97.7 -24.5 L-97.3 -26 L-97.3 -27.5 L-96.5 -28.4 L-95 -29.3 L-94 -29.7 L-92 -29.6 L-90.5 -29 L-89.3 -29.2 L-89.5 -30.2 L-88 -30.5 L-86.5 -30.4 L-85 -29.7 L-84 -30 L-83 -29 L-82.7 -27.7 L-82 -26.5 L-81.2 -25.3 L-80.4 -25.2 L-80.1 -26.5 L-80.5 -28 L-81.3 -30 L-81.3 -31.5 L-80.5 -32.4 L-79 -33.5 L-77.5 -34.5 L-76 -35.2 L-75.5 -35.8 L-76 -37 L-75.8 -38 L-75 -38.8 L-74.3 -39.5 L-74 -40.5 L-72 -41 L-70.5 -41.6 L-70 -41.7 L-70.5 -42.5 L-70.7 -43 L-70 -43.8 L-68 -44.4 L-67 -44.8 L-66 -45.2 L-64.5 -45.3 L-66 -44 L-65.5 -43.5 L-64 -44.5 L-63 -44.7 L-61 -45.3 L-60 -46 L-60.5 -47 L-61.5 -46 L-64 -46.2 L-65 -47 L-64.5 -48.5 L-66 -49.1 L-68 -49.3 L-70 -48 L-68 -49.6 L-67 -49.5 L-64 -50.2 L-60 -50.2 L-57 -51.5 L-56 -52 L-55.7 -53 L-57 -54.5 L-59 -55.2 L-61 -56 L-61.5 -57.5 L-63 -58.5 L-64.5 -60.5 M-95 -60 L-94.2 -58.8 L-92.5 -57 L-90.5 -57.2 L-88 -56.3 L-85 -55.2 L-82.3 -55.1 L-82 -53 L-80.5 -51.3 L-79 -51.5 L-78.8 -52.5 L-79 -54 L-77 -55.5 L-76.5 -56.5 L-77 -58 L-78 -58.7 L-77.5 -60.5 M-59.3 -47.6 L-56 -47.6 L-55.5 -46.9 L-54 -47 L-53 -46.7 L-52.7 -47.5 L-53.5 -48.5 L-54 -49.5 L-55.5 -49.8 L-56 -51 L-55.5 -51.6 L-57 -51.4 L-57.5 -50.5 L-58.5 -48.5 L-59.3 -47.6 M-92 -46.7 L-89 -48 L-88 -48.7 L-86 -48.6 L-84.8 -47 L-84.5 -46.5 L-87 -46.5 L-90 -46.6 L-92 -46.7 M-87.5 -41.7 L-87.8 -43.5 L-88 -44.5 L-86.5 -45.8 L-85 -45.8 L-85.5 -44 L-86.3 -42.2 L-87.5 -41.7 M-84 -46 L-83.5 -45.2 L-82.5 -43 L-81.7 -44.5 L-80 -44.5 L-80.5 -45.9 L-84 -46 M-83.5 -41.7 L-81 -42.2 L-79 -42.8 L-80 -42.7 L-82.5 -42.2 L-83.5 -41.7 M-79.8 -43.3 L-76.2 -43.5 L-76.5 -44.2 L-79 -43.9 L-79.8 -43.3 M-85 -21.8 L-84 -22.7 L-82 -23.1 L-80 -23.1 L-77.5 -21.8 L-75.5 -20.7 L-74.2 -20.2 L-75 -19.9 L-77.5 -19.9 L-77.7 -20.7 L-79 -21.6 L-81 -21.7 L-82.5 -22.3 L-84 -21.8 L-85 -21.8 M-74.4 -18.4 L-72.7 -19.9 L-70 -19.7 L-68.4 -18.6 L-70 -18.2 L-71.5 -17.7 L-72.8 -18.1 L-74.4 -18.4 M-78.3 -18.4 L-76.2 -18 L-77 -17.7 L-78.3 -18.3 M-67.2 -18.5 L-65.6 -18.3 L-66 -18 L-67.2 -18 L-67.2 -18.5 M-155.8 -20.2 L-155 -19.7 L-155.7 -18.9 L-156 -19.7 L-155.8 -20.2 M-156.7 -21 L-156 -20.8 L-156.4 -20.6 L-156.7 -21 M-158.3 -21.6 L-157.7 -21.3 L-158.1 -21.3 L-158.3 -21.6 M-159.8 -22.2 L-159.3 -22.2 L-159.5 -21.9 L-159.8 -22.2 M-128.3 -50.8 L-125 -50 L-123.3 -48.4 L-124.7 -48.6 L-126.5 -49.5 L-128.3 -50.8 M-133 -54 L-131.7 -54 L-131 -52.2 L-132.5 -53 L-133 -54 M-61.3 51.3 L-59.5 51.3 L-58 51.6 L-58.5 52.2 L-60.5 52 L-61.3 51.3 M-38 54 L-36 54.2 L-36.5 54.7 L-38 54 M-166 -53.9 L-168.5 -53.2 L-170 -52.7 M-172.5 -52.3 L-174.5 -52.1 L-176.5 -51.8 L-178 -51.7 M178 -51.9 L176 -52.1 L173 -52.8 M32.3 -31.3 L31 -31.6 L30 -31.3 L29 -30.9 L27 -31.4 L25 -31.7 L23 -32.5 L21 -32.8 L20 -32 L20 -30.9 L19 -30.3 L17.5 -30.9 L15.5 -31.5 L15.2 -32.3 L13 -32.9 L11 -33.3 L10.2 -34.3 L11 -35.2 L10.5 -36.7 L10 -37.3 L8.5 -36.9 L6 -37 L4 -36.9 L2 -36.6 L0 -35.9 L-1.5 -35.2 L-2.5 -35.1 L-4.5 -35.2 L-5.9 -35.8 L-6.8 -34 L-8.5 -33.2 L-9.7 -31 L-9.8 -29.8 L-11 -28.5 L-13 -27.7 L-14.5 -26 L-16 -24 L-16.9 -21.5 L-17 -20.8 L-16.3 -19.5 L-16.5 -18 L-16.8 -16 L-17.2 -14.8 L-16.7 -13.5 L-16.7 -12.3 L-15.5 -11.5 L-14.5 -10.5 L-13.5 -9.5 L-13 -8.3 L-12 -7.4 L-11 -6.7 L-9.5 -5.3 L-7.5 -4.4 L-5 -5.1 L-3 -5 L-2 -4.8 L0 -5.7 L1.5 -6.2 L3 -6.4 L4.5 -6.3 L5.5 -5 L6.5 -4.3 L8 -4.5 L9 -4 L9.7 -3 L9.8 -1.5 L9.4 -0.5 L9.3 1 L10 2.5 L11.5 4 L12.3 5.5 L12.5 6.5 L13 8.5 L13.5 10.5 L13.8 11.5 L12.5 13.5 L12 15.5 L11.8 17.5 L12.5 19 L13.5 21 L14.5 23 L14.6 25 L15.3 27 L16.5 28.6 L17.4 30.5 L18.2 32 L18.4 34 L19.5 34.8 L20.5 34.5 L22 34 L24 34.1 L25.6 34 L27 33.5 L28.5 32.5 L30 31.2 L31 29.7 L32.4 28.5 L32.8 26.5 L33 25.5 L35 24.5 L35.5 23 L35.3 21.5 L34.7 20 L36 18.8 L37.5 17.5 L39 16.5 L40.5 15 L40.5 12.5 L40 10.5 L39.5 8.5 L39.3 6.5 L39 5 L40 3.5 L41 2 L42 1 L43.5 -1 L45 -2 L47 -4 L48.5 -6 L49.5 -8 L50.8 -10.5 L51.2 -11.8 L49.5 -11.3 L47.5 -11.2 L45.5 -10.7 L44 -10.4 L43.3 -11.5 L42.5 -13 L41 -14.5 L39.5 -15.5 L38.5 -17.5 L37.4 -19 L37.2 -21 L36.8 -22.3 L35.7 -23.8 L35 -25 L34.2 -26.5 L33.5 -27.5 L32.6 -29.5 L32.5 -30 L32.3 -31.3 M49.3 12 L50.2 14.5 L50.5 15.5 L49.8 17 L49.3 19 L48.5 21 L47.8 23 L47.1 24.9 L45.5 25.5 L44 25 L43.5 23.5 L43.3 22 L44.3 20 L44 18.5 L44.5 16.5 L46 15.8 L47.5 14.5 L48.5 13.3 L49.3 12 M21.5 -57.5 L21 -56.5 L21 -55.2 L19.5 -54.4 L18.5 -54.8 L16 -54.3 L14 -54 L12.5 -54.4 L11 -54 L10.5 -54.5 L10 -55.5 L10.9 -56.3 L10.3 -56.5 L10.5 -57.7 L8.6 -57.1 L8.1 -56.5 L8.2 -55.5 L8.8 -54.8 L8.5 -53.9 L7.5 -53.6 L6 -53.5 L4.8 -53 L4.2 -52 L3.5 -51.5 L2.5 -51.1 L1.5 -50.2 L0.2 -49.5 L-1.6 -49.6 L-1.5 -48.7 L-3 -48.8 L-4.7 -48.5 L-4.5 -47.9 L-2.2 -47.2 L-1.2 -46 L-1.3 -44.5 L-1.8 -43.4 L-3.5 -43.4 L-5.8 -43.6 L-8 -43.7 L-9.3 -43 L-8.9 -42.5 L-8.7 -41.5 L-9 -40 L-9.5 -38.8 L-8.8 -38.5 L-8.9 -37 L-7.5 -37.2 L-6.4 -36.8 L-5.6 -36 L-4.5 -36.7 L-2 -36.7 L-0.5 -37.6 L0 -38.8 L-0.3 -39.5 L0.9 -41 L3.2 -41.9 L3.1 -43 L4 -43.5 L5.5 -43.2 L7.5 -43.8 L8.8 -44.4 L10 -44 L10.5 -43 L11.2 -42.4 L12.5 -41.5 L14 -40.8 L15.6 -40 L16 -38.9 L15.7 -38 L16.1 -38 L17 -38.9 L17.2 -39.5 L16.5 -40 L17.5 -40.3 L18.5 -40.1 L18 -40.7 L16 -41.5 L15.5 -42 L14 -42.6 L13.5 -43.6 L12.3 -44.3 L12.4 -45.4 L13.7 -45.7 L13.6 -45.1 L14.5 -45.2 L15.2 -44.3 L16.5 -43.5 L18.5 -42.5 L19.5 -41.8 L19.5 -40.5 L20 -39.7 L21 -38.5 L21.7 -37 L22.5 -36.5 L23 -37.3 L23.2 -38.2 L24 -38 L22.8 -39.2 L22.6 -40.3 L23.5 -40 L24 -40.8 L26 -40.8 L26.2 -40.1 L26.8 -39 L27.2 -37.8 L27.5 -37 L28.5 -36.7 L30.5 -36.3 L32.5 -36.1 L34.5 -36.8 L36 -36.5 L35.8 -35.5 L35.9 -34.6 L35.2 -33 L34.6 -31.5 L34.2 -31.3 L32.3 -31.3 M32.5 -30 L33.5 -28.5 L34.3 -27.8 L34.9 -29.5 L35 -28 L36.5 -26 L37.5 -24.5 L39 -22 L39.5 -20.5 L40.8 -19 L42 -17 L42.7 -15.5 L43.3 -12.7 L44.5 -12.7 L45.5 -13.2 L48 -14 L50 -15 L52 -15.8 L53.5 -16.7 L55.3 -17.7 L56.5 -18.2 L57.5 -19 L58.5 -20.5 L59.8 -22.4 L58.5 -23.6 L57 -24 L56.3 -25.5 L56.4 -26.3 L55.5 -25.5 L54.5 -24.2 L53 -24.1 L51.6 -24.3 L51.5 -25.8 L50.8 -24.8 L50.2 -26 L49.5 -27 L48.5 -28.5 L48 -30 L49 -30.4 L50.2 -29.9 L50.8 -28.8 L51.5 -27.9 L53 -26.8 L54.5 -26.5 L56 -27 L57 -25.8 L58 -25.6 L60 -25.3 L61.5 -25.2 L63 -25.2 L64.5 -25.2 L66.5 -25.4 L67.3 -24.7 L68.5 -23.5 L69.5 -22.8 L69 -22.3 L70 -21 L71 -20.8 L72.5 -21.5 L72.8 -20 L72.9 -18.5 L73.4 -16.5 L74 -15 L74.8 -13 L75.4 -11.5 L76.3 -9.5 L77.5 -8.1 L78.2 -8.9 L79.1 -10 L79.8 -10.3 L79.9 -12 L80.3 -13.5 L80.1 -15.5 L81.3 -16.4 L82.3 -17 L84 -18.3 L85.5 -19.7 L87 -20.8 L87 -21.6 L88.2 -21.6 L89 -21.8 L90 -22 L91.5 -22.6 L92 -21.5 L92.3 -20.5 L93.5 -19.5 L94.3 -18 L94.5 -16.2 L95.3 -15.8 L96.5 -16.6 L97.6 -16.5 L97.8 -14.5 L98.5 -13 L98.7 -11 L98.5 -9.8 L98.3 -8.4 L98.7 -7.8 L100.3 -6.5 L100.4 -5.2 L101 -4 L101.3 -3 L102.5 -2 L103.5 -1.3 L104.3 -1.4 L103.5 -2.7 L103.4 -4.2 L102.5 -5.8 L101.5 -6.8 L100.5 -7.3 L100 -8.5 L99.3 -9.5 L99.3 -10.8 L99.9 -12.5 L100.1 -13.4 L101 -12.7 L102.3 -12.2 L103 -11 L104.5 -10.4 L105 -9 L105.2 -8.6 L106.5 -9.5 L107 -10.5 L108.8 -11.3 L109.3 -12.5 L109.2 -14 L108.5 -15.4 L107.5 -16.5 L106.5 -17.8 L105.7 -19 L106.6 -20.3 L107.8 -21.5 L108.6 -21.7 L109.8 -21.5 L110.2 -20.5 L111 -21.5 L112.5 -21.9 L114.2 -22.3 L116.5 -23 L117.8 -24.3 L119 -25.3 L119.7 -26.6 L120.3 -27.5 L121 -28.5 L122 -29.8 L121.5 -30.8 L121.8 -31.7 L120.8 -32.5 L120.5 -33.8 L119.3 -34.8 L119.5 -35.6 L120.7 -36.1 L122.5 -37 L121 -37.7 L119 -37.2 L118.8 -38 L117.7 -39 L119 -39.3 L121 -40.8 L122.2 -40.5 L121.4 -39 L122.3 -39.5 L124.2 -39.8 L125.3 -39.5 L125.3 -38 L126.5 -37.5 L126.4 -36 L126.3 -34.6 L127.5 -34.6 L129.3 -35.3 L129.5 -36.8 L128.7 -38.5 L127.5 -39.8 L128.8 -40.8 L129.7 -41 L130.7 -42.3 L132 -43.2 L133.5 -42.8 L135.5 -43.9 L137.5 -45.5 L138.5 -47.2 L140 -48.5 L140.5 -50 L140.6 -51.5 L141.4 -52.3 L141 -53.2 L139 -54 L137 -54 L135.5 -54.7 L137.5 -56.5 L139 -57.5 L141 -58.6 L143 -59.3 L146 -59.3 L148.5 -59.4 L151 -59.1 L152.5 -58.9 L154.5 -59.5 L156 -61 M155.5 -59 L156 -57.5 L155.7 -55 L156.7 -51 L158.5 -53 L160 -54.5 L161.8 -56 L163 -57.8 L164 -60 M142 -46 L143.5 -46.2 L143 -47.5 L143.2 -49.3 L144.5 -49 L143.2 -51.5 L143.2 -53.2 L142.5 -54.3 L142.2 -52.5 L141.7 -51.5 L142 -49 L141.9 -47.5 L142 -46 M11.8 -58.5 L12.8 -56.6 L12.6 -56 L13 -55.4 L14.3 -55.5 L14.7 -56.2 L16 -56.3 L16.5 -57.5 L16.8 -58.5 M8 -58.2 L7 -58 L6 -58.3 L5.5 -59 M21.5 -57.5 L23 -57 L24.3 -57.5 L24.5 -59 M-5.7 -50.1 L-3.5 -50.3 L-1 -50.7 L1.3 -51.1 L1.7 -52.6 L0.3 -53.4 L-0.3 -54 L-1.5 -55 L-2 -55.8 L-3 -56 L-2 -57.7 L-3.3 -58.6 L-5 -58.6 L-6.2 -57.5 L-5.5 -56.5 L-5.7 -55.5 L-4.9 -55 L-3 -54.9 L-3.3 -54.3 L-3 -53.5 L-4.6 -53.3 L-4.2 -52.8 L-5.3 -51.8 L-4.2 -51.6 L-3 -51.5 L-4.5 -51.2 L-5.7 -50.1 M-6 -52 L-6.3 -53.5 L-5.5 -54.5 L-6.5 -55.2 L-8 -55.2 L-8.5 -54.4 L-10 -54.2 L-9.8 -53.4 L-9.5 -52.5 L-10.3 -51.8 L-9.5 -51.5 L-8 -51.8 L-6.4 -52.2 L-6 -52 M29 -41.2 L31 -41.1 L33 -41.9 L35 -42 L36.5 -41.3 L38.5 -40.9 L40.5 -41 L41.5 -41.5 L41.7 -42.5 L40 -43.4 L38 -44.5 L37 -45.2 L36.5 -45.3 L35.5 -45.1 L33.5 -44.5 L32.5 -45.3 L33.5 -45.9 L31.5 -46.6 L30.5 -46.4 L29.7 -45.3 L28.7 -44.3 L28 -43 L28 -41.6 L29 -41.2 M35 -45.3 L37 -46.5 L39.2 -47.2 L38 -46 L37 -45.3 M47 -44.5 L47.5 -45.7 L49 -46.5 L51 -47 L53 -46.8 L53.2 -45.3 L51.5 -44.5 L51.3 -43.2 L52.6 -42 L52.8 -41 L53.8 -40.6 L53 -39.2 L53.9 -37.3 L52 -36.7 L50.5 -37 L49 -37.6 L48.9 -38.5 L49.3 -40 L50.3 -40.3 L49.5 -40.5 L48.6 -41.8 L47.5 -43 L47.5 -44.5 L47 -44.5 M58.5 -46 L61 -46.5 L61.5 -45 L60 -44.3 L58.5 -45 L58.5 -46 M12.5 -38.1 L15.6 -38.3 L15.1 -36.7 L12.4 -37.8 L12.5 -38.1 M8.4 -41 L9.7 -41 L9.6 -39.2 L8.5 -39 L8.4 -41 M8.6 -42.9 L9.5 -42.9 L9.3 -41.4 L8.7 -41.6 L8.6 -42.9 M23.5 -35.5 L26.3 -35.2 L24.5 -34.9 L23.5 -35.5 M32.3 -35 L34.6 -35.6 L33.8 -34.7 L32.3 -35 M79.8 -9.8 L80.3 -9.8 L81.9 -7.5 L81.5 -6.2 L80.2 -6 L79.8 -7.5 L79.8 -9.8 M121 -25.2 L122 -25 L121.5 -23.5 L120.8 -22 L120.1 -23 L120.2 -24.5 L121 -25.2 M108.6 -19.2 L110.5 -20.1 L111 -19.6 L109.5 -18.2 L108.7 -18.5 L108.6 -19.2 M130.9 -34 L132 -33.8 L133 -34.3 L135 -34.6 L135.5 -33.5 L136.8 -34.3 L138.5 -34.6 L139.8 -35 L140.8 -35.7 L140.9 -37 L141 -38.3 L141.6 -39.5 L141.5 -40.5 L141.2 -41.3 L140.3 -41 L140 -40 L139.9 -39 L139.5 -38.2 L138.5 -37.3 L137 -36.8 L136 -35.7 L134 -35.5 L133 -35.5 L131.5 -34.6 L130.9 -34 M130 -33.8 L131 -33.9 L131.6 -33 L131.3 -31.4 L130.5 -31 L130.2 -32 L129.6 -33.2 L130 -33.8 M132.5 -33.8 L134.5 -34.2 L134.6 -33.5 L133 -32.8 L132.3 -33.3 L132.5 -33.8 M140 -41.5 L141 -41.8 L143.3 -42 L145.5 -43.3 L144.5 -44 L142 -45.4 L141.6 -44.7 L141.3 -43.3 L140.3 -43.2 L140 -42.3 L140 -41.5 M120.6 -18.5 L122.2 -18.5 L122.3 -17 L121.5 -15.8 L122 -14.3 L124 -13 L123.5 -12.8 L122.5 -13.8 L121 -13.8 L120.6 -14.5 L120 -16 L120.4 -17.5 L120.6 -18.5 M122 -7 L124 -8.2 L125.5 -9.7 L126.5 -8 L126.2 -6.3 L125.2 -5.6 L124 -6.3 L122 -7 M124.3 -12.5 L125.7 -12 L125.5 -10.5 L124.8 -10 L124.3 -11 L124.3 -12.5 M122 -11.8 L123.2 -11 L123.3 -10 L122.5 -10.5 L122 -11.8 M117.2 -8.3 L119.8 -10.9 L119.5 -11.3 L117.5 -8.8 L117.2 -8.3 M109 -1.5 L109.6 -2 L111 -2.9 L113 -3.2 L114.5 -4.6 L116 -6 L117 -7 L117.6 -6 L119.2 -5.2 L118 -4.5 L117.7 -3.5 L118 -2 L119 -1 L117.8 -0.5 L117.5 0.8 L116.6 1.5 L116.2 3.5 L114.5 3.9 L113 3.1 L111.5 3 L110.2 2.9 L110 1.5 L109 -0 L109 -1.5 M95.3 -5.6 L97.5 -5.2 L98.5 -4 L100 -2.3 L101.5 -1.7 L103.7 -0 L104.5 1.5 L106 3 L105.8 5.8 L104.5 5.7 L102.3 4 L101 2.5 L100.3 1 L99 -1.5 L97.5 -2.5 L96 -4 L95.3 -5.6 M105.2 6.8 L106.5 6 L108.3 6.3 L110.5 6.5 L112.5 6.9 L114.4 7.7 L114.5 8.7 L112 8.3 L110 8.1 L108 7.8 L106 7.2 L105.2 6.8 M115 8.3 L116 8.5 L117 8.4 L119 8.5 L121 8.5 L122.8 8.2 L122.5 8.8 L120 8.9 L118 8.9 L116 8.9 L115 8.3 M123.5 10.4 L125 9.2 L127 8.4 L125.5 9.5 L124 10.3 L123.5 10.4 M119.5 5.5 L119.3 3 L118.8 2.5 L119.8 -0 L120.5 -1 L122 -1 L124.5 -1.5 L125.2 -1.5 L124 -0.5 L121 -0.5 L120.3 0.5 L121.5 1 L123.3 0.9 L121.5 2 L122.3 4 L121 3 L120.4 5.5 L119.5 5.5 M127.5 -2 L128.5 -1.5 L128 -0.5 L128.7 0.5 L127.8 0.7 L127.5 -2 M128 3.2 L130.8 3.4 L130 3.9 L128.2 3.6 L128 3.2 M131 1 L132.5 0.4 L134 0.9 L135 3.3 L137.5 1.5 L139 2 L141 2.6 L144 3.8 L145.8 5.4 L147.5 6.1 L148 8 L149.5 9.5 L150.5 10.5 L149 10.3 L147 10 L146 8 L144 7.7 L143 9 L141 9.2 L139 8.1 L138 8.3 L137.7 7 L138.5 6.8 L137.8 5.4 L136 4.5 L134.3 4 L133.3 4 L132.5 3 L132 2.8 L131 1.5 L131 1 M148.5 5.5 L150 5.5 L151.5 4.8 L152 5.5 L150.5 6.3 L148.5 5.5 M113.5 22 L114 21.8 L116 20.7 L118.5 20.3 L121 19.5 L122.3 18 L122.5 17 L123.5 16.3 L124.8 15.5 L126.5 14 L128 14.9 L129.5 15 L130 13 L131 12.2 L132.5 12.2 L132.8 11.4 L134 12 L135.8 12.2 L136.8 12.3 L136 13.5 L135.5 15 L137 16 L139.5 17.5 L140.7 17.5 L141.5 16 L141.6 13 L142.5 10.8 L143.5 13.5 L143.7 14.5 L145.3 15 L145.5 16.5 L146.3 19 L148.5 20.3 L149.5 22.3 L150.8 22.7 L151.5 24 L153 25.5 L153.5 28 L153.2 30 L152.5 32 L151.3 33.7 L150.3 35.5 L150 37.5 L148 37.8 L146.3 39 L144.8 38.3 L143.5 38.8 L141.5 38.3 L140 37.5 L139.7 36.5 L138.5 35.6 L138 34.5 L137.7 35.5 L136.8 35.8 L137.5 34 L137.9 33 L135.9 34.8 L135 33.5 L134 32.5 L132 32 L129.5 31.6 L127 32.3 L124 33 L123.5 33.9 L121 33.8 L119 34.5 L117.9 35.1 L116 34.9 L115 34.3 L115.7 33.3 L115.7 31.8 L115 30 L114.9 28.2 L114 26.5 L113.5 25.5 L114 24.5 L113.5 22 M144.6 40.7 L146.5 41.1 L148.3 40.9 L148.3 42.2 L147.8 43.2 L146.9 43.6 L146 43.5 L145.2 42.2 L144.6 40.7 M172.7 34.5 L174.5 36 L175.5 37 L176 37.6 L178.5 37.7 L178 39 L177 39.3 L176.8 40.2 L175.3 41.6 L174.6 41.2 L175 40 L173.8 39.3 L174.6 38.6 L174.5 37 L173 35.2 L172.7 34.5 M172.7 40.5 L174.3 41.7 L173.2 43 L172.8 43.7 L171.3 44.3 L170.5 45.9 L169 46.6 L166.5 46 L166.8 45.2 L168.3 44 L170.8 42.5 L172 41 L172.7 40.5 M68.8 49 L70.5 49.2 L69.8 49.7 L68.8 49.5 L68.8 49 M145.5 -43.5 L147 -44.5 L148.5 -45.3 L150 -46 L151.5 -47 L153 -48 L154.5 -49 L156 -50.3 M177.3 17.5 L178.5 17.3 L178.6 18.1 L177.4 18.1 L177.3 17.5 M164 20.2 L165.5 21 L167 22.3 L166.5 22.3 L164.5 21 L164 20.2 M156.5 7 L158.5 8 L160 9.5 L161.5 10 L160.5 9 L158 7.2 L156.5 7 M167 15 L167.3 16 L168.2 16.7"/><path d="M-123 -49 L-95.2 -49 L-95.2 -49.4 L-94.8 -49.3 L-93 -48.6 L-90 -48.1 L-89.5 -48 L-86 -47.8 L-84.8 -46.8 L-84.2 -46.5 L-83.5 -46 L-82.5 -45.3 L-82.4 -43 L-83.1 -42.1 L-82.5 -41.7 L-79 -42.5 L-79 -43.3 L-76.5 -44 L-74.7 -45 L-71.5 -45 L-70.8 -45.4 L-70 -46.7 L-69.2 -47.4 L-68 -47.3 L-67.8 -45.7 L-67 -45 M-117.1 -32.5 L-114.7 -32.7 L-111 -31.3 L-108.2 -31.3 L-108.2 -31.8 L-106.5 -31.8 L-104.5 -29.6 L-103 -29 L-101.5 -29.8 L-99.5 -27.5 L-97.2 -25.9 M-92.2 -14.6 L-92.1 -15.1 L-91.5 -16 L-90.5 -16.1 L-91.4 -17.3 L-90.9 -17.8 L-89.1 -17.8 L-88.3 -18.5 M-89.2 -17.8 L-89.2 -15.9 L-88.2 -15.7 M-89.2 -15.9 L-89.3 -14.4 L-88 -13.9 L-87.8 -13.4 M-87.5 -13 L-86 -14 L-85 -14.8 L-83.2 -15 M-85.7 -11.1 L-84 -10.8 L-83.6 -10.9 M-82.9 -8.1 L-82.6 -9.6 M-77.4 -8.7 L-77.2 -7.9 L-77.9 -7.2 M-71.7 -19.7 L-71.7 -18 M-72 -11.6 L-72.8 -9.3 L-72.4 -7.4 L-70 -7 L-67.5 -6.2 L-67.8 -4.5 L-67.3 -2.2 L-66.9 -1.2 M-59.9 -8.4 L-60.6 -7.4 L-61.4 -5.9 L-60.7 -5.2 M-60.7 -5.2 L-62.8 -4 L-64.8 -4.3 L-64 -2 L-65.5 -0.9 L-66.9 -1.2 M-57 -6 L-58 -4 L-57 -2 M-54 -5.7 L-54.5 -2.3 M-51.6 -4.2 L-52.5 -2.3 L-54.5 -2.3 L-56 -1.9 L-58 -1.5 L-59.8 -1.2 L-59.5 -3 L-60.1 -4.5 L-60.7 -5.2 M-66.9 -1.2 L-69.5 -1 L-69.8 1 L-69.9 4.2 M-79 -1.2 L-77.5 -0.8 L-75.5 0.1 M-75.5 0.1 L-73.6 1.3 L-70.1 2.7 L-69.9 4.2 M-80.3 3.4 L-79.5 4.5 L-78.3 3.4 L-77 2.6 L-75.5 0.1 M-69.9 4.2 L-73.7 7.5 L-72.4 10 L-70.5 11 M-69.6 11 L-68.7 12.5 L-69.2 14.5 L-69.3 16 L-69.5 17.5 M-70.4 18.4 L-69.5 17.5 M-69.6 11 L-68.6 11.1 L-65.4 9.7 L-65.3 11.5 L-63.5 12.5 L-61.5 13.5 L-60.5 13.8 L-60.3 15.1 L-58.3 16.3 L-58.4 17.8 L-57.6 18.2 L-58.2 19.8 M-69.5 17.5 L-68.5 18.9 L-68.6 20.3 L-67.9 21.8 L-67.2 22.8 M-67.2 22.8 L-65.8 22.1 L-64.3 22.8 L-62.7 22.2 M-62.7 22.2 L-61.8 19.6 L-59.1 19.3 L-58.2 19.8 M-58.2 19.8 L-57.8 22.1 L-55.7 22.2 L-55.4 23.9 L-54.3 24.1 L-54.6 25.6 M-62.7 22.2 L-61 23.8 L-58.6 25.5 L-58.6 27.3 L-56 27.4 L-54.6 25.6 M-54.6 25.6 L-53.8 27.1 L-55.8 28.2 L-57.6 30.2 M-57.6 30.2 L-56 31 L-53.4 33.7 M-57.6 30.2 L-58.2 32.5 L-58.4 34 M-67.2 22.8 L-68.2 24.5 L-68.6 27 L-69.8 30 L-70 33 L-70.5 36 L-71 39 L-71.7 42 L-71.8 44.5 L-72.3 47.5 L-73.2 49.5 L-72.5 51 L-72 52 L-68.5 52.3 M-68.6 52.6 L-68.6 54.9 M-1.7 -35 L-1.8 -32.2 L-3.6 -31.7 L-8.7 -28.7 L-8.7 -27.7 M-13.2 -27.7 L-8.7 -27.7 M-8.7 -27.7 L-8.7 -26 L-12 -26 L-12 -23.5 L-13 -21.3 L-17 -21.3 M-8.7 -27.3 L-4.8 -25 L1.2 -21 L4 -19.2 L5.8 -19.4 L7.5 -20.8 L11.9 -23.5 M8.3 -36.9 L8.3 -34.6 L7.6 -33.3 L9.5 -30.3 M9.5 -30.3 L9.9 -27 L10 -24.5 L11.9 -23.5 M11.5 -33.2 L10 -31.5 L9.5 -30.3 M25.2 -31.6 L25 -22 M25 -22 L36.9 -22 M11.9 -23.5 L15 -23 L24 -19.5 L24 -20 L25 -20 L25 -22 M-4.8 -25 L-6 -21 L-5.5 -16.5 L-11.5 -15.5 L-12.2 -14.7 M-16.5 -16.2 L-14 -16.6 L-12.2 -14.7 M-12.2 -14.7 L-11.4 -12.4 M-16.7 -12.4 L-13.7 -12.7 L-11.4 -12.4 M-13.2 -9.1 L-12 -10 L-10.5 -9.3 L-10.6 -8.3 L-11.4 -6.9 M-11.4 -12.4 L-9.3 -12.4 L-8.4 -11.3 L-8 -10.2 M-7.5 -4.4 L-8.5 -6.5 L-8 -8 L-8 -10.2 M-3 -5 L-2.8 -7.9 L-2.7 -9.5 L-2.8 -11 M1 -6 L0.3 -8 L0.5 -11 M2.7 -6.4 L2.8 -9.1 L3.6 -11.7 M-5.5 -10.4 L-5.4 -11.5 L-4.4 -12.5 L-2 -14.3 L0.2 -14.9 M-5.5 -10.4 L-2.8 -11 L0.5 -11 L2.2 -12 M4 -19.2 L3.5 -15.3 L1 -15 L0.2 -14.9 M15 -23 L16 -20.5 L15.5 -16.9 L14 -13.5 M2.2 -12 L3.6 -11.7 L4.1 -13.5 L7 -13.2 L10 -13.3 L13.6 -13.5 M24 -19.5 L23.8 -15.5 L22.5 -14 L22 -12.5 L22.8 -11 L23.5 -9 M15.5 -7.5 L17 -7.8 L19 -9 L21 -9.8 L22.8 -11 M8.5 -4.8 L9.8 -6.6 L11.5 -6.9 L12.8 -8.8 L13.5 -10.5 L14.5 -12.5 L14 -13.5 M14 -13.5 L14.5 -12 L15 -10 L14 -9.5 L15.5 -7.5 M15.5 -7.5 L14.5 -5.5 L16 -2.2 M9.8 -2.3 L11.3 -2.2 L13 -2.2 L16 -2.2 M11.1 3.9 L11.9 2.5 L13.5 2.4 L14.5 1.5 L14.2 -1.5 L13.3 -2.2 M12.2 5 L13.2 4.9 L15.5 4.2 L16.2 2 L17.8 -0 L18.1 -2.5 L18.6 -3.6 M18.6 -3.6 L20.5 -4.4 L22.5 -4.2 L24.5 -5 L27.4 -5.1 M23.5 -9 L24.5 -8.7 L26.5 -9.5 L27.8 -9.6 L30 -10 L32 -12 L33 -12.2 L34 -10 M34 -10 L34.5 -8.5 L33.5 -8.2 L35 -5 M27.4 -5.1 L30 -3.6 L31 -3.8 L33.5 -3.8 L35 -5 M36.5 -14.3 L38 -14.5 L40 -14.5 L41.5 -13.5 L42.5 -12.5 M36.9 -22 L37.5 -18 L36.5 -14.3 M36.5 -14.3 L36 -12.5 L35 -11 L34 -10 M43.3 -11.5 L44 -9 L48 -8 L45 -5 L41.9 -4 M35 -5 L36.5 -4.5 L39 -3.5 L41 -4 L41.9 -4 M41 -4 L41 1.7 M39.2 4.7 L37.5 3.5 L33.9 1 M33.9 1 L30.5 1 L29.6 1.4 L30 -1 L31 -2.5 L31 -3.8 L33.5 -3.8 L34.5 -1.5 L33.9 1 M29.6 1.4 L29 2.5 L29.3 4.5 L29.5 6.5 L30.5 8.5 L28.5 8.8 L28.8 10.5 L28.5 12 L29.5 13 L27 12 L26 11 L24 11 L22 9.5 L21.8 7.3 L19.5 7 L17.6 8 L16.5 5.9 L12.2 6 M40.4 10.5 L37.5 11.5 L34.6 11.5 M30.5 8.5 L32.5 9.5 L33.5 10 L34.6 11.5 L35 14 L33 14 L30.5 15.5 M11.8 17.3 L14 17.4 L20.8 18 L23.3 17.6 M22 13 L24 13 L24 11 M23.3 17.6 L25.5 17.8 L27 17 L28.5 16 L30.5 15.5 L32.9 16.5 M32.9 16.5 L32.9 18.5 L32.5 21 L31.3 22.4 M31.3 22.4 L32 25.5 L32.2 26.8 M31.3 22.4 L29 22.2 L27 23.5 L25.5 25.5 L23 25.3 L20 24.8 M20 24.8 L20 22 L21 22 L21 18.3 L23.3 17.6 L25.3 17.8 M16.5 28.6 L20 28.5 L20 24.8 M27 29.6 L28.5 28.7 L29.4 29.5 L28.5 30.6 L27 29.6 M33 9.5 L34 12 L35 14 L35.5 16 M-1.8 -43.4 L0 -42.7 L1.5 -42.5 L3.1 -42.4 M-8.8 -42 L-6.5 -41.8 L-6.9 -41 L-7 -39.7 L-7.5 -38.5 L-7.4 -37.2 M2.5 -51.1 L4 -50.3 L5.8 -49.5 L6.8 -49.2 L8.2 -49 L7.6 -47.6 M4.2 -52 L6 -51.8 L6.2 -50.5 L6.1 -49.5 M8.6 -54.9 L9.5 -54.8 L10 -54.6 M6 -46.2 L7 -45.9 L7.7 -45.8 L7 -44.2 L7.5 -43.8 M7.6 -47.6 L9.5 -47.5 L10.5 -46.9 L12.2 -47.1 L13 -47.5 L13 -48.7 L15 -49 L17 -48.5 L17 -47.7 L16.5 -46.5 M14.2 -53.9 L14.6 -52 L15 -51 L13 -50.3 L12.2 -50.3 M19.5 -54.4 L23 -54.4 L23.5 -53.5 L23.5 -52 L24 -50.5 L23 -49 L22.5 -49.1 L19 -49.4 L17 -50.3 L15 -51 M21 -56.5 L23 -56.4 L25 -56.2 L27.5 -55.8 L28 -56.5 M23.5 -53.5 L26 -54 L27 -55.8 L30 -55.8 L31.5 -53.5 L30.5 -51.5 L25 -51.8 L23.5 -52 M22.2 -48.4 L22.8 -49 L24 -50.5 L25 -51.8 L30.5 -51.5 L33 -52.3 L35 -51 L38 -49.8 L40 -49.5 L38.2 -47.5 M20.3 -46.1 L22.5 -48 L24.8 -47.8 L26.5 -48.3 L28.2 -47.9 L28.5 -45.5 L29.7 -45.3 M26.5 -48.3 L28.2 -47.9 L30 -46.4 M16.1 -46.8 L17 -48 L18.8 -47.8 L20.5 -48.4 L22.2 -48.4 L22.8 -47.8 L21 -46.2 L19 -45.9 L17.3 -45.9 L16.1 -46.5 M13.6 -45.5 L15.5 -45.8 L17 -45.2 L19 -44.9 L19.5 -43 L19.3 -42.2 L20.5 -41 L21 -40.8 L22.5 -41.1 L23 -41.4 L26 -41.8 L28 -42 L28.6 -43.7 L27 -44 L25 -43.7 L22.5 -44.2 L21.4 -45 L20.3 -46.1 M26 -40.8 L26.3 -41.7 L28 -42 M19.5 -43 L21 -43 L22.5 -42.4 L22.5 -44.2 M47.5 -45.7 L47.3 -47 L49.5 -48.5 L48 -49.5 L47 -50.5 L50 -51.5 L52 -51.6 L55 -50.8 L57 -51 L60 -50.8 L61 -52.5 L60 -54.5 L65 -54.8 L69 -55.3 L71 -54 L73 -53.5 L76 -54 L77.5 -53 L80 -50.8 L83 -51 L85 -49.5 L87.3 -49.1 M87.3 -49.1 L85 -47 L83 -47 L82.5 -45.5 L80 -45 L80.3 -43 L80.2 -42.2 M52.8 -41.8 L56 -41.3 L58 -42.5 L60 -42.2 L61 -41 L62 -42.5 L66 -42.9 L68.5 -40.6 L69.2 -41.5 L71 -42.5 L73.5 -42.5 L75 -42.8 L79 -42.8 L80.2 -42.2 M53 -41 L54 -42.2 L56 -41.3 L58 -42.5 L60 -41.5 L61.5 -40 L62.5 -39.5 L64.5 -38 L66.5 -37.4 M53.9 -37.3 L55 -38 L57 -38.2 L59 -37.3 L60.5 -36.5 L61.2 -35.6 M61.2 -35.6 L62 -35.3 L64 -36 L66.5 -37.4 L68 -37 L70 -37.5 L71.5 -37 L74.5 -37 L71.5 -36.5 L71 -34.5 L69.5 -33.8 L70 -32.5 L69.5 -31.5 L67 -31.3 L66.5 -30 L64 -29.5 L61.5 -29.8 L61 -31.5 L60.8 -33.5 L61.2 -35.6 M68.5 -40.6 L70 -40 L71 -40.2 L73 -39.5 L74.5 -40 L75 -39.5 L73.8 -38.5 L74.5 -37 M61.5 -29.8 L62.5 -29.4 L63.3 -28.1 L61.8 -26.8 L61.6 -25.2 M68.2 -23.7 L69.5 -24.3 L71 -24.4 L70.7 -25.7 L70 -27.7 L71.5 -28 L72.8 -29.9 L74.5 -31 L75 -32.5 L74.5 -34.5 L77 -35.5 M74.5 -37 L75 -38.5 L73.8 -39.5 L74.5 -40.3 L76 -40.4 L78 -41.3 L80.2 -42.2 M77 -35.5 L78 -35.5 L79.5 -34 L78.8 -32.5 L79 -31.2 L81 -30.2 L82 -30.3 L84 -29 L86 -27.9 L88 -27.9 L88.8 -27.3 L89.8 -28.2 L92 -27.8 L94 -29 L96 -29.4 L97.3 -28.3 L98.5 -27.2 L98.5 -25.2 L97.6 -23.9 L99 -22.1 L100 -21.5 L101.7 -22.4 L102.5 -22.8 L105.3 -23.3 L106.7 -22.8 L108 -21.6 M80.1 -28.8 L82 -27.6 L84 -27.4 L86 -26.6 L88.1 -26.5 M88.8 -27.3 L92 -26.8 M88.1 -26.5 L88.2 -24.5 L88.8 -22.2 L89.5 -25.3 L92 -25.1 L92.5 -24 L92.3 -21.5 M97.3 -28.3 L95.5 -27 L95 -25.5 L94.2 -23.9 L93.3 -23 L93.1 -22.1 L92.3 -21.5 M100 -21.5 L98.5 -19.7 L97.8 -18.5 L98.5 -16.5 L98.5 -14.5 L99.2 -12 L98.7 -10.5 M100 -21.5 L101 -21.5 L100.5 -20.4 L101.3 -19.5 L101 -17.5 L102.5 -18 L104.8 -17.4 L105.5 -14.3 M102.2 -22.4 L103.5 -22.6 L104 -21 L104.5 -19.8 L105.3 -18.8 L106 -17.5 L107.5 -16 L107.6 -14.5 L107.5 -13.5 M102.3 -12.2 L102.8 -13.8 L104.8 -14.3 L105.5 -14.3 L107.5 -13.5 L106.8 -12 L105.9 -11 L104.5 -10.5 M100.3 -6.5 L101 -6 L102 -6.1 M87.3 -49.1 L88.5 -48.3 L91 -46.5 L90.5 -45 L95 -44.2 L96.5 -42.8 L100 -42.6 L105 -41.6 L108 -42.4 L111 -43.3 L112 -45 L114 -44.8 L116.5 -46.3 L118.5 -46.7 L120 -46.6 L119.8 -47.6 L118 -48 L116.2 -47.8 L117.7 -49.5 L120 -52.5 L123 -53.5 L126 -52.9 L127.5 -49.7 L131 -47.8 L134.7 -48.3 L133.2 -45.3 L131.1 -44.9 L130.5 -42.5 M87.3 -49.1 L90 -50.5 L92 -50.6 L95 -50 L98.5 -52 L102 -51.5 L103 -50.3 L107 -50.2 L110 -49.3 L114 -50 L116.2 -49.8 L117.7 -49.5 M124.2 -39.8 L125.5 -40.6 L127 -41.5 L128.3 -42 L129.7 -42.5 L130.7 -42.3 M126.2 -37.8 L127 -38.1 L128.3 -38.6 M48 -30 L48.5 -31 L47.7 -31.4 L47.5 -33 L46 -33.8 L45.5 -35.2 L46 -35.9 L45 -37.2 L44.5 -38.3 L44.3 -39.4 M48 -30 L47 -29.1 L46.5 -29.1 L44.7 -29.2 L42 -31.1 L39 -32.2 M39 -32.2 L41 -34.5 L41.3 -36.5 L42.4 -37.1 M35.9 -36 L36.7 -36.8 L38 -36.8 L40 -37.1 L42.4 -37.1 L44.3 -37.2 L44.8 -39.7 M35.9 -34.6 L36.4 -34.6 L36.8 -33.5 L35.8 -33.3 L35.6 -32.7 L36.8 -32.3 L39 -32.2 L37 -31.5 L38 -30.5 L37.6 -30.4 L36.1 -29.5 L35 -29.5 M34.2 -31.3 L34.9 -29.5 L35.5 -31.5 L35.6 -32.7 M42.7 -16.4 L44 -17.4 L47 -17 L48.8 -18.2 L52 -19 L53.1 -16.7 M52 -19 L55 -20 L55.7 -22 L56 -24 M51.6 -24.3 L52 -23 L55.2 -22.7 L55.7 -22 M41.5 -41.5 L42.5 -41.5 L43.5 -41.1 L44.8 -39.7 M40 -43.4 L42 -43.2 L44 -42.7 L46 -41.8 L47 -41.3 L48.6 -41.8 M41.5 -41.5 L43.5 -41.1 L45 -41.3 L46.5 -41 L46 -41.8 M43.5 -41.1 L43.5 -40 L44.8 -39.7 L46.5 -38.9 L48 -38.5 L48.9 -38.5 M44.3 -39.4 L44.8 -39.7 L46.5 -38.9 L48 -38.5 L48.9 -38.5"/></g></svg>
<g stroke="#000" stroke-width="2.1" stroke-dasharray="0.01 4.1" stroke-linecap="round" fill="none"><line x1="87.05" y1="225.50" x2="87.05" y2="377.50"/>
<line x1="152.80" y1="225.50" x2="152.80" y2="377.50"/>
<line x1="218.55" y1="225.50" x2="218.55" y2="377.50"/>
<line x1="284.30" y1="225.50" x2="284.30" y2="377.50"/>
<line x1="350.05" y1="225.50" x2="350.05" y2="377.50"/>
<line x1="415.80" y1="225.50" x2="415.80" y2="377.50"/>
<line x1="481.55" y1="225.50" x2="481.55" y2="377.50"/>
<line x1="50.50" y1="235.41" x2="518.50" y2="235.41"/>
<line x1="50.50" y1="268.46" x2="518.50" y2="268.46"/>
<line x1="50.50" y1="301.50" x2="518.50" y2="301.50"/>
<line x1="50.50" y1="334.54" x2="518.50" y2="334.54"/>
<line x1="50.50" y1="367.59" x2="518.50" y2="367.59"/></g>
<rect x="50.50" y="225.50" width="468.00" height="152.00" fill="none" stroke="#000" stroke-width="1.3"/>
<text x="45.30" y="240.51" font-size="17.20" text-anchor="end" transform="translate(45.30 0) scale(1.0550 1) translate(-45.30 0)">50°N</text>
<text x="45.30" y="273.56" font-size="17.20" text-anchor="end" transform="translate(45.30 0) scale(1.0550 1) translate(-45.30 0)">25°N</text>
<text x="45.30" y="306.60" font-size="17.20" text-anchor="end" transform="translate(45.30 0) scale(1.0550 1) translate(-45.30 0)">0°</text>
<text x="45.30" y="339.64" font-size="17.20" text-anchor="end" transform="translate(45.30 0) scale(1.0550 1) translate(-45.30 0)">25°S</text>
<text x="45.30" y="372.69" font-size="17.20" text-anchor="end" transform="translate(45.30 0) scale(1.0550 1) translate(-45.30 0)">50°S</text>
<text x="283.50" y="26.60" font-size="29.70" text-anchor="middle" transform="translate(283.50 0) scale(1.1150 1) translate(-283.50 0)">(c) Non-absorbing AOD</text>
<text x="283.00" y="215.90" font-size="29.70" text-anchor="middle" transform="translate(283.00 0) scale(1.1170 1) translate(-283.00 0)">(d) Absorbing AOD</text>
<text x="87.05" y="395.50" font-size="17.20" text-anchor="middle" transform="translate(87.05 0) scale(1.0800 1) translate(-87.05 0)">150°W</text>
<text x="152.80" y="395.50" font-size="17.20" text-anchor="middle" transform="translate(152.80 0) scale(1.0800 1) translate(-152.80 0)">100°W</text>
<text x="218.55" y="395.50" font-size="17.20" text-anchor="middle" transform="translate(218.55 0) scale(1.0800 1) translate(-218.55 0)">50°W</text>
<text x="284.30" y="395.50" font-size="17.20" text-anchor="middle" transform="translate(284.30 0) scale(1.0800 1) translate(-284.30 0)">0°</text>
<text x="350.05" y="395.50" font-size="17.20" text-anchor="middle" transform="translate(350.05 0) scale(1.0800 1) translate(-350.05 0)">50°E</text>
<text x="415.80" y="395.50" font-size="17.20" text-anchor="middle" transform="translate(415.80 0) scale(1.0800 1) translate(-415.80 0)">100°E</text>
<text x="481.55" y="395.50" font-size="17.20" text-anchor="middle" transform="translate(481.55 0) scale(1.0800 1) translate(-481.55 0)">150°E</text>
<g shape-rendering="crispEdges">
<rect x="29.00" y="413.20" width="31.84" height="9.70" fill="#ffffff"/>
<rect x="60.54" y="413.20" width="31.84" height="9.70" fill="#f1f1bb"/>
<rect x="92.08" y="413.20" width="31.84" height="9.70" fill="#e6e379"/>
<rect x="123.61" y="413.20" width="31.84" height="9.70" fill="#e6cf42"/>
<rect x="155.15" y="413.20" width="31.84" height="9.70" fill="#e6b716"/>
<rect x="186.69" y="413.20" width="31.84" height="9.70" fill="#e69509"/>
<rect x="218.23" y="413.20" width="31.84" height="9.70" fill="#eb7308"/>
<rect x="249.76" y="413.20" width="31.84" height="9.70" fill="#f8511c"/>
<rect x="281.30" y="413.20" width="31.84" height="9.70" fill="#e43c3e"/>
<rect x="312.84" y="413.20" width="31.84" height="9.70" fill="#ad366e"/>
<rect x="344.38" y="413.20" width="31.84" height="9.70" fill="#802f95"/>
<rect x="375.91" y="413.20" width="31.84" height="9.70" fill="#5728b7"/>
<rect x="407.45" y="413.20" width="31.84" height="9.70" fill="#3d26a6"/>
<rect x="438.99" y="413.20" width="31.84" height="9.70" fill="#292684"/>
<rect x="470.53" y="413.20" width="31.84" height="9.70" fill="#141444"/>
<rect x="502.06" y="413.20" width="31.84" height="9.70" fill="#000000"/>
</g>
<line x1="92.08" y1="413.20" x2="92.08" y2="422.90" stroke="#000" stroke-width="1"/>
<line x1="155.15" y1="413.20" x2="155.15" y2="422.90" stroke="#000" stroke-width="1"/>
<line x1="218.23" y1="413.20" x2="218.23" y2="422.90" stroke="#000" stroke-width="1"/>
<line x1="281.30" y1="413.20" x2="281.30" y2="422.90" stroke="#000" stroke-width="1"/>
<line x1="344.38" y1="413.20" x2="344.38" y2="422.90" stroke="#000" stroke-width="1"/>
<line x1="407.45" y1="413.20" x2="407.45" y2="422.90" stroke="#000" stroke-width="1"/>
<line x1="470.53" y1="413.20" x2="470.53" y2="422.90" stroke="#000" stroke-width="1"/>
<rect x="29.00" y="413.20" width="504.60" height="9.70" fill="none" stroke="#000" stroke-width="1.3"/>
<text x="29.00" y="449.60" font-size="25.00" text-anchor="middle" transform="translate(29.00 0) scale(1.0800 1) translate(-29.00 0)">0</text>
<text x="92.08" y="449.60" font-size="25.00" text-anchor="middle" transform="translate(92.08 0) scale(1.0800 1) translate(-92.08 0)">2</text>
<text x="155.15" y="449.60" font-size="25.00" text-anchor="middle" transform="translate(155.15 0) scale(1.0800 1) translate(-155.15 0)">4</text>
<text x="218.23" y="449.60" font-size="25.00" text-anchor="middle" transform="translate(218.23 0) scale(1.0800 1) translate(-218.23 0)">6</text>
<text x="281.30" y="449.60" font-size="25.00" text-anchor="middle" transform="translate(281.30 0) scale(1.0800 1) translate(-281.30 0)">8</text>
<text x="344.38" y="449.60" font-size="25.00" text-anchor="middle" transform="translate(344.38 0) scale(1.0800 1) translate(-344.38 0)">10</text>
<text x="407.45" y="449.60" font-size="25.00" text-anchor="middle" transform="translate(407.45 0) scale(1.0800 1) translate(-407.45 0)">12</text>
<text x="470.53" y="449.60" font-size="25.00" text-anchor="middle" transform="translate(470.53 0) scale(1.0800 1) translate(-470.53 0)">14</text>
<text x="533.60" y="449.60" font-size="25.00" text-anchor="middle" transform="translate(533.60 0) scale(1.0800 1) translate(-533.60 0)">16</text>
</svg>
</body></html>
